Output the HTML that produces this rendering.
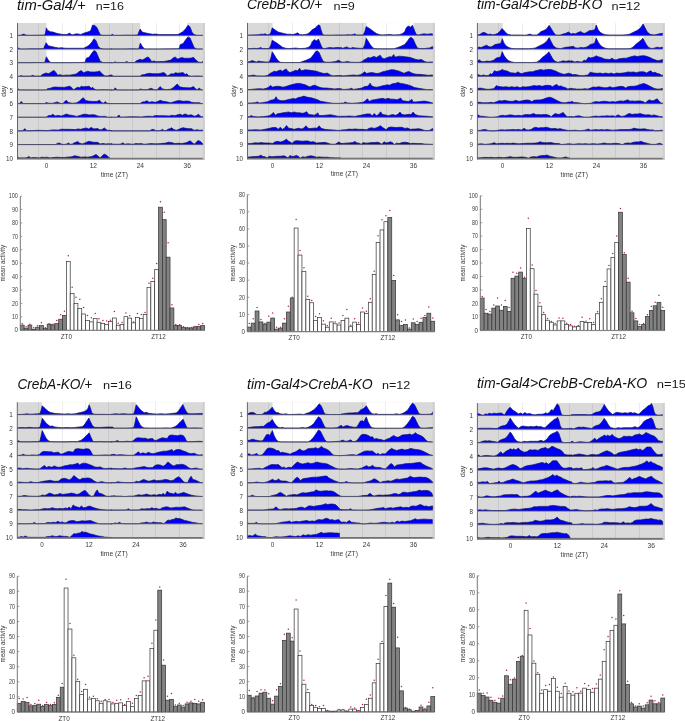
<!DOCTYPE html>
<html><head><meta charset="utf-8"><style>
html,body{margin:0;padding:0;background:#fff;width:685px;height:721px;overflow:hidden}
svg{display:block;will-change:transform}
text{font-family:"Liberation Sans", sans-serif}
</style></head><body>
<svg width="685" height="721" viewBox="0 0 685 721" font-family='"Liberation Sans", sans-serif'>
<rect width="685" height="721" fill="#fff"/>
<text x="17" y="9.65" font-size="14" font-style="italic" fill="#111" textLength="68.7" lengthAdjust="spacingAndGlyphs">tim-Gal4/+</text>
<text x="95.8" y="9.8" font-size="11.2" fill="#1a1a1a" textLength="28.1" lengthAdjust="spacingAndGlyphs">n=16</text>
<rect x="17.5" y="23" width="187.3" height="136.5" fill="#d9d9d9"/>
<rect x="202.8" y="23" width="2" height="136.5" fill="#cecece"/>
<rect x="46.4" y="23" width="46.98" height="12.45" fill="#fff"/>
<rect x="140.36" y="23" width="46.98" height="12.45" fill="#fff"/>
<rect x="46.4" y="36.65" width="46.98" height="12.45" fill="#fff"/>
<rect x="140.36" y="36.65" width="46.98" height="12.45" fill="#fff"/>
<rect x="46.4" y="50.3" width="46.98" height="12.45" fill="#fff"/>
<line x1="38.5" y1="23" x2="38.5" y2="159.5" stroke="#000" stroke-opacity="0.07" stroke-width="1"/>
<line x1="62.5" y1="23" x2="62.5" y2="159.5" stroke="#000" stroke-opacity="0.07" stroke-width="1"/>
<line x1="85.5" y1="23" x2="85.5" y2="159.5" stroke="#000" stroke-opacity="0.07" stroke-width="1"/>
<line x1="109.5" y1="23" x2="109.5" y2="159.5" stroke="#000" stroke-opacity="0.07" stroke-width="1"/>
<line x1="132.5" y1="23" x2="132.5" y2="159.5" stroke="#000" stroke-opacity="0.07" stroke-width="1"/>
<line x1="156.5" y1="23" x2="156.5" y2="159.5" stroke="#000" stroke-opacity="0.07" stroke-width="1"/>
<line x1="179.5" y1="23" x2="179.5" y2="159.5" stroke="#000" stroke-opacity="0.07" stroke-width="1"/>
<path d="M17,35.45 L17,35.45 L20.47,35.31 L21.16,35.03 L23.93,34.06 L26.02,35.17 L30.87,35.31 L39.19,35.17 L44.74,35.03 L45.43,33.09 L46.4,27.82 L47.51,30.32 L50.29,31.71 L53.06,32.12 L55.83,33.09 L58.61,33.79 L62.77,34.48 L66.93,34.48 L69.7,33.09 L71.09,34.48 L72.48,34.76 L76.64,33.79 L80.8,34.48 L84.96,32.81 L87.74,31.98 L90.51,31.01 L92.59,25.05 L94.67,25.46 L96.75,27.27 L98.83,31.71 L100.22,34.76 L102.99,35.31 L112.01,35.31 L112.01,35.45 Z" fill="#0000f5"/>
<path d="M17,35.45 L20.47,35.31 L21.16,35.03 L23.93,34.06 L26.02,35.17 L30.87,35.31 L39.19,35.17 L44.74,35.03 L45.43,33.09 L46.4,27.82 L47.51,30.32 L50.29,31.71 L53.06,32.12 L55.83,33.09 L58.61,33.79 L62.77,34.48 L66.93,34.48 L69.7,33.09 L71.09,34.48 L72.48,34.76 L76.64,33.79 L80.8,34.48 L84.96,32.81 L87.74,31.98 L90.51,31.01 L92.59,25.05 L94.67,25.46 L96.75,27.27 L98.83,31.71 L100.22,34.76 L102.99,35.31 L112.01,35.31" fill="none" stroke="#14145a" stroke-width="0.7" stroke-linejoin="round"/>
<path d="M111,35.45 L111,35.31 L112.66,34.34 L113.77,35.31 L119.32,35.31 L124.87,35.17 L131.8,35.17 L137.35,35.03 L138.05,33.92 L140.13,29.07 L142.21,32.12 L145.67,32.95 L148.45,33.51 L152.61,34.34 L155.38,34.06 L159.54,34.62 L166.48,34.62 L173.41,34.62 L177.57,34.62 L180.35,33.23 L183.12,31.57 L185.9,28.38 L187.98,25.19 L190.06,26.99 L192.14,32.54 L194.22,34.62 L196.99,35.31 L202.8,35.31 L202.8,35.45 Z" fill="#0000f5"/>
<path d="M111,35.31 L112.66,34.34 L113.77,35.31 L119.32,35.31 L124.87,35.17 L131.8,35.17 L137.35,35.03 L138.05,33.92 L140.13,29.07 L142.21,32.12 L145.67,32.95 L148.45,33.51 L152.61,34.34 L155.38,34.06 L159.54,34.62 L166.48,34.62 L173.41,34.62 L177.57,34.62 L180.35,33.23 L183.12,31.57 L185.9,28.38 L187.98,25.19 L190.06,26.99 L192.14,32.54 L194.22,34.62 L196.99,35.31 L202.8,35.31" fill="none" stroke="#14145a" stroke-width="0.7" stroke-linejoin="round"/>
<line x1="17.5" y1="35.45" x2="202.8" y2="35.45" stroke="#5a5a66" stroke-width="0.8"/>
<path d="M17,49.1 L17,48.96 L18.66,47.99 L19.77,48.96 L25.32,48.96 L30.87,48.82 L37.8,48.82 L43.35,48.68 L44.05,47.57 L46.13,42.72 L48.21,45.77 L51.67,46.6 L54.45,47.16 L58.61,47.99 L61.38,47.71 L65.54,48.27 L72.48,48.27 L79.41,48.27 L83.57,48.27 L86.35,46.88 L89.12,45.22 L91.9,42.03 L93.98,38.84 L96.06,40.64 L98.14,46.19 L100.22,48.27 L102.99,48.96 L112.01,48.96 L112.01,49.1 Z" fill="#0000f5"/>
<path d="M17,48.96 L18.66,47.99 L19.77,48.96 L25.32,48.96 L30.87,48.82 L37.8,48.82 L43.35,48.68 L44.05,47.57 L46.13,42.72 L48.21,45.77 L51.67,46.6 L54.45,47.16 L58.61,47.99 L61.38,47.71 L65.54,48.27 L72.48,48.27 L79.41,48.27 L83.57,48.27 L86.35,46.88 L89.12,45.22 L91.9,42.03 L93.98,38.84 L96.06,40.64 L98.14,46.19 L100.22,48.27 L102.99,48.96 L112.01,48.96" fill="none" stroke="#14145a" stroke-width="0.7" stroke-linejoin="round"/>
<path d="M111,49.1 L111,48.96 L124.87,48.96 L131.8,48.82 L138.74,48.96 L139.43,46.33 L140.4,43.14 L142.21,46.33 L144.29,48.68 L145.67,48.96 L159.54,48.96 L173.41,48.82 L178.96,48.68 L180.35,44.52 L183.12,43.55 L185.9,39.39 L187.98,36.89 L190.06,38 L192.14,42.86 L194.22,47.71 L196.99,48.96 L202.8,48.96 L202.8,49.1 Z" fill="#0000f5"/>
<path d="M111,48.96 L124.87,48.96 L131.8,48.82 L138.74,48.96 L139.43,46.33 L140.4,43.14 L142.21,46.33 L144.29,48.68 L145.67,48.96 L159.54,48.96 L173.41,48.82 L178.96,48.68 L180.35,44.52 L183.12,43.55 L185.9,39.39 L187.98,36.89 L190.06,38 L192.14,42.86 L194.22,47.71 L196.99,48.96 L202.8,48.96" fill="none" stroke="#14145a" stroke-width="0.7" stroke-linejoin="round"/>
<line x1="17.5" y1="49.1" x2="202.8" y2="49.1" stroke="#5a5a66" stroke-width="0.8"/>
<path d="M17,62.75 L17,62.61 L30.87,62.61 L37.8,62.47 L44.74,62.61 L45.43,59.98 L46.4,56.79 L48.21,59.98 L50.29,62.33 L51.67,62.61 L65.54,62.61 L79.41,62.47 L84.96,62.33 L86.35,58.17 L89.12,57.2 L91.9,53.04 L93.98,50.54 L96.06,51.65 L98.14,56.51 L100.22,61.36 L102.99,62.61 L112.01,62.61 L112.01,62.75 Z" fill="#0000f5"/>
<path d="M17,62.61 L30.87,62.61 L37.8,62.47 L44.74,62.61 L45.43,59.98 L46.4,56.79 L48.21,59.98 L50.29,62.33 L51.67,62.61 L65.54,62.61 L79.41,62.47 L84.96,62.33 L86.35,58.17 L89.12,57.2 L91.9,53.04 L93.98,50.54 L96.06,51.65 L98.14,56.51 L100.22,61.36 L102.99,62.61 L112.01,62.61" fill="none" stroke="#14145a" stroke-width="0.7" stroke-linejoin="round"/>
<path d="M111,62.75 L111,62.61 L113.77,62.61 L115.16,61.78 L116.55,62.47 L122.1,62.47 L124.87,62.47 L126.95,61.5 L128.34,62.47 L134.58,62.47 L135.97,61.09 L138.05,60.11 L140.13,59.28 L142.21,60.11 L144.29,59.01 L146.37,57.62 L148.17,56.92 L149.83,58.73 L151.64,61.5 L154,61.09 L156.77,61.78 L159.54,61.5 L163.7,61.5 L167.87,60.81 L170.64,60.11 L172.72,58.31 L175.08,56.92 L177.57,59.01 L179.65,58.31 L181.74,57.62 L184.51,58.31 L188.67,58.31 L191.44,58.03 L193.52,57.34 L195.6,59.7 L198.38,62.06 L201.15,62.47 L202.8,61.5 L202.8,61.36 L202.8,62.75 Z" fill="#0000f5"/>
<path d="M111,62.61 L113.77,62.61 L115.16,61.78 L116.55,62.47 L122.1,62.47 L124.87,62.47 L126.95,61.5 L128.34,62.47 L134.58,62.47 L135.97,61.09 L138.05,60.11 L140.13,59.28 L142.21,60.11 L144.29,59.01 L146.37,57.62 L148.17,56.92 L149.83,58.73 L151.64,61.5 L154,61.09 L156.77,61.78 L159.54,61.5 L163.7,61.5 L167.87,60.81 L170.64,60.11 L172.72,58.31 L175.08,56.92 L177.57,59.01 L179.65,58.31 L181.74,57.62 L184.51,58.31 L188.67,58.31 L191.44,58.03 L193.52,57.34 L195.6,59.7 L198.38,62.06 L201.15,62.47 L202.8,61.5 L202.8,61.36" fill="none" stroke="#14145a" stroke-width="0.7" stroke-linejoin="round"/>
<line x1="17.5" y1="62.75" x2="202.8" y2="62.75" stroke="#5a5a66" stroke-width="0.8"/>
<path d="M17,76.4 L17,76.26 L19.77,76.26 L21.16,75.43 L22.55,76.12 L28.1,76.12 L30.87,76.12 L32.95,75.15 L34.34,76.12 L40.58,76.12 L41.97,74.74 L44.05,73.76 L46.13,72.93 L48.21,73.76 L50.29,72.66 L52.37,71.27 L54.17,70.57 L55.83,72.38 L57.64,75.15 L60,74.74 L62.77,75.43 L65.54,75.15 L69.7,75.15 L73.87,74.46 L76.64,73.76 L78.72,71.96 L81.08,70.57 L83.57,72.66 L85.65,71.96 L87.74,71.27 L90.51,71.96 L94.67,71.96 L97.44,71.68 L99.52,70.99 L101.6,73.35 L104.38,75.71 L107.15,76.12 L109.93,75.15 L112.01,75.01 L112.01,76.4 Z" fill="#0000f5"/>
<path d="M17,76.26 L19.77,76.26 L21.16,75.43 L22.55,76.12 L28.1,76.12 L30.87,76.12 L32.95,75.15 L34.34,76.12 L40.58,76.12 L41.97,74.74 L44.05,73.76 L46.13,72.93 L48.21,73.76 L50.29,72.66 L52.37,71.27 L54.17,70.57 L55.83,72.38 L57.64,75.15 L60,74.74 L62.77,75.43 L65.54,75.15 L69.7,75.15 L73.87,74.46 L76.64,73.76 L78.72,71.96 L81.08,70.57 L83.57,72.66 L85.65,71.96 L87.74,71.27 L90.51,71.96 L94.67,71.96 L97.44,71.68 L99.52,70.99 L101.6,73.35 L104.38,75.71 L107.15,76.12 L109.93,75.15 L112.01,75.01" fill="none" stroke="#14145a" stroke-width="0.7" stroke-linejoin="round"/>
<path d="M111,76.4 L111,76.26 L112.39,75.43 L113.77,76.26 L124.87,76.26 L131.8,76.26 L140.13,76.26 L141.51,75.01 L144.29,74.6 L147.06,73.63 L149.83,73.35 L152.61,73.63 L155.38,73.63 L158.16,73.76 L160.93,73.21 L163.7,72.52 L165.79,74.04 L167.17,75.98 L169.25,75.01 L171.33,73.63 L173.41,74.04 L175.49,72.66 L177.57,73.21 L180.35,72.93 L183.12,72.52 L185.2,74.6 L186.59,73.63 L188.67,75.71 L191.44,76.26 L196.99,75.98 L202.8,76.26 L202.8,76.4 Z" fill="#0000f5"/>
<path d="M111,76.26 L112.39,75.43 L113.77,76.26 L124.87,76.26 L131.8,76.26 L140.13,76.26 L141.51,75.01 L144.29,74.6 L147.06,73.63 L149.83,73.35 L152.61,73.63 L155.38,73.63 L158.16,73.76 L160.93,73.21 L163.7,72.52 L165.79,74.04 L167.17,75.98 L169.25,75.01 L171.33,73.63 L173.41,74.04 L175.49,72.66 L177.57,73.21 L180.35,72.93 L183.12,72.52 L185.2,74.6 L186.59,73.63 L188.67,75.71 L191.44,76.26 L196.99,75.98 L202.8,76.26" fill="none" stroke="#14145a" stroke-width="0.7" stroke-linejoin="round"/>
<line x1="17.5" y1="76.4" x2="202.8" y2="76.4" stroke="#5a5a66" stroke-width="0.8"/>
<path d="M17,90.05 L17,89.91 L18.39,89.08 L19.77,89.91 L30.87,89.91 L37.8,89.91 L46.13,89.91 L47.51,88.66 L50.29,88.25 L53.06,87.28 L55.83,87 L58.61,87.28 L61.38,87.28 L64.16,87.41 L66.93,86.86 L69.7,86.17 L71.79,87.69 L73.17,89.63 L75.25,88.66 L77.33,87.28 L79.41,87.69 L81.49,86.31 L83.57,86.86 L86.35,86.58 L89.12,86.17 L91.2,88.25 L92.59,87.28 L94.67,89.36 L97.44,89.91 L102.99,89.63 L112.01,89.91 L112.01,90.05 Z" fill="#0000f5"/>
<path d="M17,89.91 L18.39,89.08 L19.77,89.91 L30.87,89.91 L37.8,89.91 L46.13,89.91 L47.51,88.66 L50.29,88.25 L53.06,87.28 L55.83,87 L58.61,87.28 L61.38,87.28 L64.16,87.41 L66.93,86.86 L69.7,86.17 L71.79,87.69 L73.17,89.63 L75.25,88.66 L77.33,87.28 L79.41,87.69 L81.49,86.31 L83.57,86.86 L86.35,86.58 L89.12,86.17 L91.2,88.25 L92.59,87.28 L94.67,89.36 L97.44,89.91 L102.99,89.63 L112.01,89.91" fill="none" stroke="#14145a" stroke-width="0.7" stroke-linejoin="round"/>
<path d="M111,90.05 L111,89.91 L113.77,89.91 L115.16,87.83 L117.24,89.91 L119.32,89.91 L131.8,89.91 L138.74,89.91 L140.13,88.94 L142.9,89.63 L147.06,89.63 L151.22,88.25 L154,89.63 L156.77,89.91 L158.85,87.97 L160.24,86.58 L162.32,88.94 L166.48,89.63 L170.64,89.22 L173.41,87.55 L175.49,85.47 L177.3,84.09 L179.65,86.86 L183.12,87.55 L187.28,87.83 L190.75,87.83 L193.52,86.58 L195.6,88.94 L197.69,89.63 L199.07,87.97 L201.15,89.63 L202.8,89.91 L202.8,89.91 L202.8,90.05 Z" fill="#0000f5"/>
<path d="M111,89.91 L113.77,89.91 L115.16,87.83 L117.24,89.91 L119.32,89.91 L131.8,89.91 L138.74,89.91 L140.13,88.94 L142.9,89.63 L147.06,89.63 L151.22,88.25 L154,89.63 L156.77,89.91 L158.85,87.97 L160.24,86.58 L162.32,88.94 L166.48,89.63 L170.64,89.22 L173.41,87.55 L175.49,85.47 L177.3,84.09 L179.65,86.86 L183.12,87.55 L187.28,87.83 L190.75,87.83 L193.52,86.58 L195.6,88.94 L197.69,89.63 L199.07,87.97 L201.15,89.63 L202.8,89.91 L202.8,89.91" fill="none" stroke="#14145a" stroke-width="0.7" stroke-linejoin="round"/>
<line x1="17.5" y1="90.05" x2="202.8" y2="90.05" stroke="#5a5a66" stroke-width="0.8"/>
<path d="M17,103.7 L17,103.56 L19.77,103.56 L21.16,101.48 L23.24,103.56 L25.32,103.56 L37.8,103.56 L44.74,103.56 L46.13,102.59 L48.9,103.28 L53.06,103.28 L57.22,101.9 L60,103.28 L62.77,103.56 L64.85,101.62 L66.24,100.23 L68.32,102.59 L72.48,103.28 L76.64,102.87 L79.41,101.2 L81.49,99.12 L83.3,97.74 L85.65,100.51 L89.12,101.2 L93.28,101.48 L96.75,101.48 L99.52,100.23 L101.6,102.59 L103.69,103.28 L105.07,101.62 L107.15,103.28 L109.93,103.56 L112.01,103.56 L112.01,103.7 Z" fill="#0000f5"/>
<path d="M17,103.56 L19.77,103.56 L21.16,101.48 L23.24,103.56 L25.32,103.56 L37.8,103.56 L44.74,103.56 L46.13,102.59 L48.9,103.28 L53.06,103.28 L57.22,101.9 L60,103.28 L62.77,103.56 L64.85,101.62 L66.24,100.23 L68.32,102.59 L72.48,103.28 L76.64,102.87 L79.41,101.2 L81.49,99.12 L83.3,97.74 L85.65,100.51 L89.12,101.2 L93.28,101.48 L96.75,101.48 L99.52,100.23 L101.6,102.59 L103.69,103.28 L105.07,101.62 L107.15,103.28 L109.93,103.56 L112.01,103.56" fill="none" stroke="#14145a" stroke-width="0.7" stroke-linejoin="round"/>
<path d="M111,103.7 L111,103.56 L124.87,103.56 L140.13,103.56 L142.21,102.04 L144.98,101.76 L146.78,100.65 L149.14,102.31 L151.92,101.76 L155.38,102.31 L158.16,101.34 L160.24,100.37 L163.01,101.34 L166.48,101.76 L170.64,102.73 L174.11,101.76 L177.57,100.65 L180.35,100.65 L183.12,101.34 L186.59,101.06 L189.36,101.34 L191.44,102.31 L194.22,102.73 L199.77,102.73 L201.15,103.56 L202.8,103.56 L202.8,103.7 Z" fill="#0000f5"/>
<path d="M111,103.56 L124.87,103.56 L140.13,103.56 L142.21,102.04 L144.98,101.76 L146.78,100.65 L149.14,102.31 L151.92,101.76 L155.38,102.31 L158.16,101.34 L160.24,100.37 L163.01,101.34 L166.48,101.76 L170.64,102.73 L174.11,101.76 L177.57,100.65 L180.35,100.65 L183.12,101.34 L186.59,101.06 L189.36,101.34 L191.44,102.31 L194.22,102.73 L199.77,102.73 L201.15,103.56 L202.8,103.56" fill="none" stroke="#14145a" stroke-width="0.7" stroke-linejoin="round"/>
<line x1="17.5" y1="103.7" x2="202.8" y2="103.7" stroke="#5a5a66" stroke-width="0.8"/>
<path d="M17,117.35 L17,117.21 L30.87,117.21 L46.13,117.21 L48.21,115.69 L50.98,115.41 L52.78,114.3 L55.14,115.96 L57.92,115.41 L61.38,115.96 L64.16,114.99 L66.24,114.02 L69.01,114.99 L72.48,115.41 L76.64,116.38 L80.11,115.41 L83.57,114.3 L86.35,114.3 L89.12,114.99 L92.59,114.71 L95.36,114.99 L97.44,115.96 L100.22,116.38 L105.77,116.38 L107.15,117.21 L112.01,117.21 L112.01,117.35 Z" fill="#0000f5"/>
<path d="M17,117.21 L30.87,117.21 L46.13,117.21 L48.21,115.69 L50.98,115.41 L52.78,114.3 L55.14,115.96 L57.92,115.41 L61.38,115.96 L64.16,114.99 L66.24,114.02 L69.01,114.99 L72.48,115.41 L76.64,116.38 L80.11,115.41 L83.57,114.3 L86.35,114.3 L89.12,114.99 L92.59,114.71 L95.36,114.99 L97.44,115.96 L100.22,116.38 L105.77,116.38 L107.15,117.21 L112.01,117.21" fill="none" stroke="#14145a" stroke-width="0.7" stroke-linejoin="round"/>
<path d="M111,117.35 L111,117.21 L116.55,117.21 L117.93,115.96 L119.04,114.99 L120.15,116.66 L120.71,117.21 L131.8,116.66 L141.51,116.93 L147.06,116.24 L152.61,116.38 L155.38,115.55 L159.54,115.69 L163.7,115.69 L169.25,115.96 L172.03,115.27 L174.8,115.69 L177.57,114.85 L180.35,114.3 L182.43,115.27 L185.2,113.88 L187.98,115.27 L191.44,114.85 L194.22,116.24 L196.3,115.69 L198.38,114.3 L201.15,116.66 L202.8,116.66 L202.8,117.07 L202.8,117.35 Z" fill="#0000f5"/>
<path d="M111,117.21 L116.55,117.21 L117.93,115.96 L119.04,114.99 L120.15,116.66 L120.71,117.21 L131.8,116.66 L141.51,116.93 L147.06,116.24 L152.61,116.38 L155.38,115.55 L159.54,115.69 L163.7,115.69 L169.25,115.96 L172.03,115.27 L174.8,115.69 L177.57,114.85 L180.35,114.3 L182.43,115.27 L185.2,113.88 L187.98,115.27 L191.44,114.85 L194.22,116.24 L196.3,115.69 L198.38,114.3 L201.15,116.66 L202.8,116.66 L202.8,117.07" fill="none" stroke="#14145a" stroke-width="0.7" stroke-linejoin="round"/>
<line x1="17.5" y1="117.35" x2="202.8" y2="117.35" stroke="#5a5a66" stroke-width="0.8"/>
<path d="M17,131 L17,130.86 L22.55,130.86 L23.93,129.61 L25.04,128.64 L26.15,130.31 L26.71,130.86 L37.8,130.31 L47.51,130.58 L53.06,129.89 L58.61,130.03 L61.38,129.2 L65.54,129.34 L69.7,129.34 L75.25,129.61 L78.03,128.92 L80.8,129.34 L83.57,128.5 L86.35,127.95 L88.43,128.92 L91.2,127.53 L93.98,128.92 L97.44,128.5 L100.22,129.89 L102.3,129.34 L104.38,127.95 L107.15,130.31 L109.93,130.31 L112.01,130.72 L112.01,131 Z" fill="#0000f5"/>
<path d="M17,130.86 L22.55,130.86 L23.93,129.61 L25.04,128.64 L26.15,130.31 L26.71,130.86 L37.8,130.31 L47.51,130.58 L53.06,129.89 L58.61,130.03 L61.38,129.2 L65.54,129.34 L69.7,129.34 L75.25,129.61 L78.03,128.92 L80.8,129.34 L83.57,128.5 L86.35,127.95 L88.43,128.92 L91.2,127.53 L93.98,128.92 L97.44,128.5 L100.22,129.89 L102.3,129.34 L104.38,127.95 L107.15,130.31 L109.93,130.31 L112.01,130.72" fill="none" stroke="#14145a" stroke-width="0.7" stroke-linejoin="round"/>
<path d="M111,131 L111,130.86 L124.87,130.86 L138.74,130.86 L149.83,130.86 L151.22,129.75 L153.3,129.34 L155.38,130.45 L158.16,130.86 L160.93,130.31 L162.32,129.34 L164.4,130.72 L166.48,130.31 L167.87,129.34 L169.95,128.64 L171.75,127.81 L173.41,129.34 L176.19,130.31 L178.96,129.34 L181.04,128.36 L183.12,127.67 L185.9,128.36 L188.67,128.64 L191.44,128.64 L194.22,130.31 L196.99,129.75 L199.77,130.31 L202.54,130.03 L202.8,130.31 L202.8,131 Z" fill="#0000f5"/>
<path d="M111,130.86 L124.87,130.86 L138.74,130.86 L149.83,130.86 L151.22,129.75 L153.3,129.34 L155.38,130.45 L158.16,130.86 L160.93,130.31 L162.32,129.34 L164.4,130.72 L166.48,130.31 L167.87,129.34 L169.95,128.64 L171.75,127.81 L173.41,129.34 L176.19,130.31 L178.96,129.34 L181.04,128.36 L183.12,127.67 L185.9,128.36 L188.67,128.64 L191.44,128.64 L194.22,130.31 L196.99,129.75 L199.77,130.31 L202.54,130.03 L202.8,130.31" fill="none" stroke="#14145a" stroke-width="0.7" stroke-linejoin="round"/>
<line x1="17.5" y1="131" x2="202.8" y2="131" stroke="#5a5a66" stroke-width="0.8"/>
<path d="M17,144.65 L17,144.51 L30.87,144.51 L44.74,144.51 L55.83,144.51 L57.22,143.4 L59.3,142.99 L61.38,144.1 L64.16,144.51 L66.93,143.96 L68.32,142.99 L70.4,144.37 L72.48,143.96 L73.87,142.99 L75.95,142.29 L77.75,141.46 L79.41,142.99 L82.19,143.96 L84.96,142.99 L87.04,142.01 L89.12,141.32 L91.9,142.01 L94.67,142.29 L97.44,142.29 L100.22,143.96 L102.99,143.4 L105.77,143.96 L108.54,143.68 L112.01,143.96 L112.01,144.65 Z" fill="#0000f5"/>
<path d="M17,144.51 L30.87,144.51 L44.74,144.51 L55.83,144.51 L57.22,143.4 L59.3,142.99 L61.38,144.1 L64.16,144.51 L66.93,143.96 L68.32,142.99 L70.4,144.37 L72.48,143.96 L73.87,142.99 L75.95,142.29 L77.75,141.46 L79.41,142.99 L82.19,143.96 L84.96,142.99 L87.04,142.01 L89.12,141.32 L91.9,142.01 L94.67,142.29 L97.44,142.29 L100.22,143.96 L102.99,143.4 L105.77,143.96 L108.54,143.68 L112.01,143.96" fill="none" stroke="#14145a" stroke-width="0.7" stroke-linejoin="round"/>
<path d="M111,144.65 L111,143.82 L113.77,144.23 L119.32,144.23 L121.4,143.82 L122.79,142.85 L124.87,144.23 L127.64,143.82 L133.19,144.23 L135.97,143.54 L138.74,143.82 L140.82,143.54 L144.29,144.23 L147.06,143.96 L151.22,143.54 L154,143.82 L158.16,143.82 L160.93,143.54 L165.79,143.12 L168.56,142.15 L171.33,142.57 L174.8,143.54 L178.96,143.26 L181.74,143.54 L185.9,142.85 L187.98,141.88 L190.06,140.77 L192.14,142.57 L194.22,144.23 L196.3,142.15 L198.1,140.49 L200.46,141.46 L202.54,143.54 L202.8,144.51 L202.8,144.65 Z" fill="#0000f5"/>
<path d="M111,143.82 L113.77,144.23 L119.32,144.23 L121.4,143.82 L122.79,142.85 L124.87,144.23 L127.64,143.82 L133.19,144.23 L135.97,143.54 L138.74,143.82 L140.82,143.54 L144.29,144.23 L147.06,143.96 L151.22,143.54 L154,143.82 L158.16,143.82 L160.93,143.54 L165.79,143.12 L168.56,142.15 L171.33,142.57 L174.8,143.54 L178.96,143.26 L181.74,143.54 L185.9,142.85 L187.98,141.88 L190.06,140.77 L192.14,142.57 L194.22,144.23 L196.3,142.15 L198.1,140.49 L200.46,141.46 L202.54,143.54 L202.8,144.51" fill="none" stroke="#14145a" stroke-width="0.7" stroke-linejoin="round"/>
<line x1="17.5" y1="144.65" x2="202.8" y2="144.65" stroke="#5a5a66" stroke-width="0.8"/>
<path d="M17,158.3 L17,157.47 L19.77,157.88 L25.32,157.88 L27.4,157.47 L28.79,156.5 L30.87,157.88 L33.64,157.47 L39.19,157.88 L41.97,157.19 L44.74,157.47 L46.82,157.19 L50.29,157.88 L53.06,157.61 L57.22,157.19 L60,157.47 L64.16,157.47 L66.93,157.19 L71.79,156.77 L74.56,155.8 L77.33,156.22 L80.8,157.19 L84.96,156.91 L87.74,157.19 L91.9,156.5 L93.98,155.53 L96.06,154.42 L98.14,156.22 L100.22,157.88 L102.3,155.8 L104.1,154.14 L106.46,155.11 L108.54,157.19 L109.93,158.16 L109.93,158.3 Z" fill="#0000f5"/>
<path d="M17,157.47 L19.77,157.88 L25.32,157.88 L27.4,157.47 L28.79,156.5 L30.87,157.88 L33.64,157.47 L39.19,157.88 L41.97,157.19 L44.74,157.47 L46.82,157.19 L50.29,157.88 L53.06,157.61 L57.22,157.19 L60,157.47 L64.16,157.47 L66.93,157.19 L71.79,156.77 L74.56,155.8 L77.33,156.22 L80.8,157.19 L84.96,156.91 L87.74,157.19 L91.9,156.5 L93.98,155.53 L96.06,154.42 L98.14,156.22 L100.22,157.88 L102.3,155.8 L104.1,154.14 L106.46,155.11 L108.54,157.19 L109.93,158.16" fill="none" stroke="#14145a" stroke-width="0.7" stroke-linejoin="round"/>
<line x1="17.5" y1="158.3" x2="202.8" y2="158.3" stroke="#5a5a66" stroke-width="0.8"/>
<line x1="17.5" y1="158.9" x2="202.8" y2="158.9" stroke="#707070" stroke-width="1.3"/>
<line x1="202.8" y1="159.1" x2="204.8" y2="159.1" stroke="#b0b0b0" stroke-width="1"/>
<line x1="17.5" y1="23" x2="17.5" y2="159.5" stroke="#666" stroke-width="1"/>
<text x="13" y="38.05" font-size="6.3" text-anchor="end" fill="#3a3a3a">1</text>
<text x="13" y="51.7" font-size="6.3" text-anchor="end" fill="#3a3a3a">2</text>
<text x="13" y="65.35" font-size="6.3" text-anchor="end" fill="#3a3a3a">3</text>
<text x="13" y="79" font-size="6.3" text-anchor="end" fill="#3a3a3a">4</text>
<text x="13" y="92.65" font-size="6.3" text-anchor="end" fill="#3a3a3a">5</text>
<text x="13" y="106.3" font-size="6.3" text-anchor="end" fill="#3a3a3a">6</text>
<text x="13" y="119.95" font-size="6.3" text-anchor="end" fill="#3a3a3a">7</text>
<text x="13" y="133.6" font-size="6.3" text-anchor="end" fill="#3a3a3a">8</text>
<text x="13" y="147.25" font-size="6.3" text-anchor="end" fill="#3a3a3a">9</text>
<text x="13" y="160.9" font-size="6.3" text-anchor="end" fill="#3a3a3a">10</text>
<text transform="translate(5.5,91.3) rotate(-90)" font-size="6.3" text-anchor="middle" fill="#3a3a3a" textLength="11" lengthAdjust="spacingAndGlyphs">day</text>
<text x="46.4" y="168.1" font-size="6.3" text-anchor="middle" fill="#3a3a3a">0</text>
<text x="93.38" y="168.1" font-size="6.3" text-anchor="middle" fill="#3a3a3a" textLength="7.4" lengthAdjust="spacingAndGlyphs">12</text>
<text x="140.36" y="168.1" font-size="6.3" text-anchor="middle" fill="#3a3a3a" textLength="7.4" lengthAdjust="spacingAndGlyphs">24</text>
<text x="187.34" y="168.1" font-size="6.3" text-anchor="middle" fill="#3a3a3a" textLength="7.4" lengthAdjust="spacingAndGlyphs">36</text>
<text x="114.4" y="176.5" font-size="6.3" text-anchor="middle" fill="#3a3a3a" textLength="27.4" lengthAdjust="spacingAndGlyphs">time (ZT)</text>
<rect x="20.3" y="325.11" width="3.84" height="5.09" fill="#828282" stroke="#333" stroke-width="0.7"/>
<rect x="24.14" y="328.19" width="3.84" height="2.01" fill="#828282" stroke="#333" stroke-width="0.7"/>
<rect x="27.98" y="325.11" width="3.84" height="5.09" fill="#828282" stroke="#333" stroke-width="0.7"/>
<rect x="31.82" y="329.26" width="3.84" height="0.94" fill="#828282" stroke="#333" stroke-width="0.7"/>
<rect x="35.66" y="327.12" width="3.84" height="3.08" fill="#828282" stroke="#333" stroke-width="0.7"/>
<rect x="39.5" y="325.64" width="3.84" height="4.56" fill="#828282" stroke="#333" stroke-width="0.7"/>
<rect x="43.34" y="328.59" width="3.84" height="1.61" fill="#828282" stroke="#333" stroke-width="0.7"/>
<rect x="47.18" y="324.17" width="3.84" height="6.03" fill="#828282" stroke="#333" stroke-width="0.7"/>
<rect x="51.02" y="324.84" width="3.84" height="5.36" fill="#828282" stroke="#333" stroke-width="0.7"/>
<rect x="54.86" y="323.63" width="3.84" height="6.57" fill="#828282" stroke="#333" stroke-width="0.7"/>
<rect x="58.7" y="319.21" width="3.84" height="10.99" fill="#828282" stroke="#333" stroke-width="0.7"/>
<rect x="62.54" y="315.46" width="3.84" height="14.74" fill="#828282" stroke="#333" stroke-width="0.7"/>
<rect x="66.38" y="261.59" width="3.84" height="68.61" fill="#fff" stroke="#333" stroke-width="0.7"/>
<rect x="70.21" y="293.35" width="3.84" height="36.85" fill="#fff" stroke="#333" stroke-width="0.7"/>
<rect x="74.05" y="303.53" width="3.84" height="26.67" fill="#fff" stroke="#333" stroke-width="0.7"/>
<rect x="77.89" y="308.36" width="3.84" height="21.84" fill="#fff" stroke="#333" stroke-width="0.7"/>
<rect x="81.73" y="313.99" width="3.84" height="16.21" fill="#fff" stroke="#333" stroke-width="0.7"/>
<rect x="85.57" y="320.42" width="3.84" height="9.78" fill="#fff" stroke="#333" stroke-width="0.7"/>
<rect x="89.41" y="321.89" width="3.84" height="8.31" fill="#fff" stroke="#333" stroke-width="0.7"/>
<rect x="93.25" y="318.41" width="3.84" height="11.79" fill="#fff" stroke="#333" stroke-width="0.7"/>
<rect x="97.09" y="322.29" width="3.84" height="7.91" fill="#fff" stroke="#333" stroke-width="0.7"/>
<rect x="100.93" y="323.37" width="3.84" height="6.83" fill="#fff" stroke="#333" stroke-width="0.7"/>
<rect x="104.77" y="324.44" width="3.84" height="5.76" fill="#fff" stroke="#333" stroke-width="0.7"/>
<rect x="108.61" y="321.49" width="3.84" height="8.71" fill="#fff" stroke="#333" stroke-width="0.7"/>
<rect x="112.45" y="318.01" width="3.84" height="12.19" fill="#fff" stroke="#333" stroke-width="0.7"/>
<rect x="116.29" y="325.24" width="3.84" height="4.96" fill="#fff" stroke="#333" stroke-width="0.7"/>
<rect x="120.13" y="324.44" width="3.84" height="5.76" fill="#fff" stroke="#333" stroke-width="0.7"/>
<rect x="123.97" y="316.67" width="3.84" height="13.53" fill="#fff" stroke="#333" stroke-width="0.7"/>
<rect x="127.81" y="318.14" width="3.84" height="12.06" fill="#fff" stroke="#333" stroke-width="0.7"/>
<rect x="131.65" y="322.83" width="3.84" height="7.37" fill="#fff" stroke="#333" stroke-width="0.7"/>
<rect x="135.49" y="317.47" width="3.84" height="12.73" fill="#fff" stroke="#333" stroke-width="0.7"/>
<rect x="139.33" y="318.54" width="3.84" height="11.66" fill="#fff" stroke="#333" stroke-width="0.7"/>
<rect x="143.17" y="314.39" width="3.84" height="15.81" fill="#fff" stroke="#333" stroke-width="0.7"/>
<rect x="147.01" y="287.32" width="3.84" height="42.88" fill="#fff" stroke="#333" stroke-width="0.7"/>
<rect x="150.85" y="281.56" width="3.84" height="48.64" fill="#fff" stroke="#333" stroke-width="0.7"/>
<rect x="154.69" y="269.5" width="3.84" height="60.7" fill="#fff" stroke="#333" stroke-width="0.7"/>
<rect x="158.53" y="207.19" width="3.84" height="123.01" fill="#828282" stroke="#333" stroke-width="0.7"/>
<rect x="162.36" y="219.65" width="3.84" height="110.55" fill="#828282" stroke="#333" stroke-width="0.7"/>
<rect x="166.2" y="257.17" width="3.84" height="73.03" fill="#828282" stroke="#333" stroke-width="0.7"/>
<rect x="170.04" y="307.96" width="3.84" height="22.24" fill="#828282" stroke="#333" stroke-width="0.7"/>
<rect x="173.88" y="325.38" width="3.84" height="4.82" fill="#828282" stroke="#333" stroke-width="0.7"/>
<rect x="177.72" y="325.38" width="3.84" height="4.82" fill="#828282" stroke="#333" stroke-width="0.7"/>
<rect x="181.56" y="327.52" width="3.84" height="2.68" fill="#828282" stroke="#333" stroke-width="0.7"/>
<rect x="185.4" y="327.92" width="3.84" height="2.28" fill="#828282" stroke="#333" stroke-width="0.7"/>
<rect x="189.24" y="327.92" width="3.84" height="2.28" fill="#828282" stroke="#333" stroke-width="0.7"/>
<rect x="193.08" y="326.85" width="3.84" height="3.35" fill="#828282" stroke="#333" stroke-width="0.7"/>
<rect x="196.92" y="326.45" width="3.84" height="3.75" fill="#828282" stroke="#333" stroke-width="0.7"/>
<rect x="200.76" y="325.38" width="3.84" height="4.82" fill="#828282" stroke="#333" stroke-width="0.7"/>
<circle cx="22.22" cy="323.63" r="0.75" fill="#b82048"/>
<circle cx="26.06" cy="326.72" r="0.75" fill="#b82048"/>
<circle cx="29.9" cy="324.17" r="0.75" fill="#b82048"/>
<circle cx="33.74" cy="327.79" r="0.75" fill="#b82048"/>
<circle cx="37.58" cy="325.64" r="0.75" fill="#b82048"/>
<circle cx="41.42" cy="322.83" r="0.75" fill="#b82048"/>
<circle cx="45.26" cy="327.79" r="0.75" fill="#b82048"/>
<circle cx="49.1" cy="323.63" r="0.75" fill="#b82048"/>
<circle cx="52.94" cy="324.17" r="0.75" fill="#b82048"/>
<circle cx="56.78" cy="320.55" r="0.75" fill="#b82048"/>
<circle cx="60.62" cy="314.66" r="0.75" fill="#b82048"/>
<circle cx="64.46" cy="311.17" r="0.75" fill="#b82048"/>
<circle cx="68.29" cy="255.83" r="0.75" fill="#b82048"/>
<circle cx="72.13" cy="287.32" r="0.75" fill="#b82048"/>
<circle cx="75.97" cy="297.24" r="0.75" fill="#b82048"/>
<circle cx="79.81" cy="299.25" r="0.75" fill="#b82048"/>
<circle cx="83.65" cy="307.42" r="0.75" fill="#b82048"/>
<circle cx="87.49" cy="315.59" r="0.75" fill="#b82048"/>
<circle cx="91.33" cy="317.74" r="0.75" fill="#b82048"/>
<circle cx="95.17" cy="313.58" r="0.75" fill="#b82048"/>
<circle cx="99.01" cy="318.81" r="0.75" fill="#b82048"/>
<circle cx="102.85" cy="320.55" r="0.75" fill="#b82048"/>
<circle cx="106.69" cy="320.95" r="0.75" fill="#b82048"/>
<circle cx="110.53" cy="320.15" r="0.75" fill="#b82048"/>
<circle cx="114.37" cy="311.57" r="0.75" fill="#b82048"/>
<circle cx="118.21" cy="323.37" r="0.75" fill="#b82048"/>
<circle cx="122.05" cy="322.43" r="0.75" fill="#b82048"/>
<circle cx="125.89" cy="313.05" r="0.75" fill="#b82048"/>
<circle cx="129.73" cy="315.86" r="0.75" fill="#b82048"/>
<circle cx="133.57" cy="321.89" r="0.75" fill="#b82048"/>
<circle cx="137.41" cy="313.45" r="0.75" fill="#b82048"/>
<circle cx="141.25" cy="314.39" r="0.75" fill="#b82048"/>
<circle cx="145.09" cy="312.38" r="0.75" fill="#b82048"/>
<circle cx="148.93" cy="283.3" r="0.75" fill="#b82048"/>
<circle cx="152.77" cy="278.21" r="0.75" fill="#b82048"/>
<circle cx="156.61" cy="263.6" r="0.75" fill="#b82048"/>
<circle cx="160.44" cy="201.83" r="0.75" fill="#b82048"/>
<circle cx="164.28" cy="212.28" r="0.75" fill="#b82048"/>
<circle cx="168.12" cy="242.83" r="0.75" fill="#b82048"/>
<circle cx="171.96" cy="304.74" r="0.75" fill="#b82048"/>
<circle cx="175.8" cy="324.44" r="0.75" fill="#b82048"/>
<circle cx="179.64" cy="324.84" r="0.75" fill="#b82048"/>
<circle cx="183.48" cy="326.85" r="0.75" fill="#b82048"/>
<circle cx="187.32" cy="327.52" r="0.75" fill="#b82048"/>
<circle cx="191.16" cy="327.52" r="0.75" fill="#b82048"/>
<circle cx="195" cy="326.45" r="0.75" fill="#b82048"/>
<circle cx="198.84" cy="324.44" r="0.75" fill="#b82048"/>
<circle cx="202.68" cy="323.5" r="0.75" fill="#b82048"/>
<line x1="20.3" y1="196.2" x2="20.3" y2="330.2" stroke="#777" stroke-width="1"/>
<line x1="20.3" y1="330.5" x2="204.6" y2="330.5" stroke="#888" stroke-width="1"/>
<line x1="20.3" y1="330.2" x2="22.3" y2="330.2" stroke="#777" stroke-width="0.7"/>
<text x="17.9" y="332.4" font-size="6.3" text-anchor="end" fill="#3a3a3a">0</text>
<line x1="20.3" y1="316.8" x2="22.3" y2="316.8" stroke="#777" stroke-width="0.7"/>
<text x="17.9" y="319" font-size="6.3" text-anchor="end" fill="#3a3a3a" textLength="6" lengthAdjust="spacingAndGlyphs">10</text>
<line x1="20.3" y1="303.4" x2="22.3" y2="303.4" stroke="#777" stroke-width="0.7"/>
<text x="17.9" y="305.6" font-size="6.3" text-anchor="end" fill="#3a3a3a" textLength="6" lengthAdjust="spacingAndGlyphs">20</text>
<line x1="20.3" y1="290" x2="22.3" y2="290" stroke="#777" stroke-width="0.7"/>
<text x="17.9" y="292.2" font-size="6.3" text-anchor="end" fill="#3a3a3a" textLength="6" lengthAdjust="spacingAndGlyphs">30</text>
<line x1="20.3" y1="276.6" x2="22.3" y2="276.6" stroke="#777" stroke-width="0.7"/>
<text x="17.9" y="278.8" font-size="6.3" text-anchor="end" fill="#3a3a3a" textLength="6" lengthAdjust="spacingAndGlyphs">40</text>
<line x1="20.3" y1="263.2" x2="22.3" y2="263.2" stroke="#777" stroke-width="0.7"/>
<text x="17.9" y="265.4" font-size="6.3" text-anchor="end" fill="#3a3a3a" textLength="6" lengthAdjust="spacingAndGlyphs">50</text>
<line x1="20.3" y1="249.8" x2="22.3" y2="249.8" stroke="#777" stroke-width="0.7"/>
<text x="17.9" y="252" font-size="6.3" text-anchor="end" fill="#3a3a3a" textLength="6" lengthAdjust="spacingAndGlyphs">60</text>
<line x1="20.3" y1="236.4" x2="22.3" y2="236.4" stroke="#777" stroke-width="0.7"/>
<text x="17.9" y="238.6" font-size="6.3" text-anchor="end" fill="#3a3a3a" textLength="6" lengthAdjust="spacingAndGlyphs">70</text>
<line x1="20.3" y1="223" x2="22.3" y2="223" stroke="#777" stroke-width="0.7"/>
<text x="17.9" y="225.2" font-size="6.3" text-anchor="end" fill="#3a3a3a" textLength="6" lengthAdjust="spacingAndGlyphs">80</text>
<line x1="20.3" y1="209.6" x2="22.3" y2="209.6" stroke="#777" stroke-width="0.7"/>
<text x="17.9" y="211.8" font-size="6.3" text-anchor="end" fill="#3a3a3a" textLength="6" lengthAdjust="spacingAndGlyphs">90</text>
<line x1="20.3" y1="196.2" x2="22.3" y2="196.2" stroke="#777" stroke-width="0.7"/>
<text x="17.9" y="198.4" font-size="6.3" text-anchor="end" fill="#3a3a3a" textLength="9.2" lengthAdjust="spacingAndGlyphs">100</text>
<text transform="translate(5.4,263.2) rotate(-90)" font-size="6.3" text-anchor="middle" fill="#3a3a3a">mean activity</text>
<text x="66.38" y="338.8" font-size="6.3" text-anchor="middle" fill="#3a3a3a">ZT0</text>
<text x="158.53" y="338.8" font-size="6.3" text-anchor="middle" fill="#3a3a3a">ZT12</text>
<text x="247" y="9.45" font-size="14" font-style="italic" fill="#111" textLength="75.3" lengthAdjust="spacingAndGlyphs">CrebB-KO/+</text>
<text x="333.4" y="9.6" font-size="11.2" fill="#1a1a1a" textLength="21.4" lengthAdjust="spacingAndGlyphs">n=9</text>
<rect x="247.5" y="22.9" width="187.3" height="136.5" fill="#d9d9d9"/>
<rect x="432.8" y="22.9" width="2" height="136.5" fill="#cecece"/>
<rect x="272.6" y="22.9" width="46.98" height="12.45" fill="#fff"/>
<rect x="366.56" y="22.9" width="46.98" height="12.45" fill="#fff"/>
<rect x="272.6" y="36.55" width="46.98" height="12.45" fill="#fff"/>
<rect x="366.56" y="36.55" width="46.98" height="12.45" fill="#fff"/>
<rect x="272.6" y="50.2" width="46.98" height="12.45" fill="#fff"/>
<line x1="268.5" y1="22.9" x2="268.5" y2="159.4" stroke="#000" stroke-opacity="0.07" stroke-width="1"/>
<line x1="292.5" y1="22.9" x2="292.5" y2="159.4" stroke="#000" stroke-opacity="0.07" stroke-width="1"/>
<line x1="315.5" y1="22.9" x2="315.5" y2="159.4" stroke="#000" stroke-opacity="0.07" stroke-width="1"/>
<line x1="339.5" y1="22.9" x2="339.5" y2="159.4" stroke="#000" stroke-opacity="0.07" stroke-width="1"/>
<line x1="362.5" y1="22.9" x2="362.5" y2="159.4" stroke="#000" stroke-opacity="0.07" stroke-width="1"/>
<line x1="386.5" y1="22.9" x2="386.5" y2="159.4" stroke="#000" stroke-opacity="0.07" stroke-width="1"/>
<line x1="409.5" y1="22.9" x2="409.5" y2="159.4" stroke="#000" stroke-opacity="0.07" stroke-width="1"/>
<path d="M247,35.35 L247,35.21 L252.55,34.93 L258.1,34.8 L260.87,34.24 L263.64,34.24 L265.03,33.82 L267.11,34.8 L269.19,34.8 L270.86,32.44 L272.24,27.86 L274.05,29.25 L276.13,30.63 L278.21,32.02 L280.98,32.85 L283.75,33.41 L287.22,34.24 L290,34.24 L292.77,34.52 L295.54,33.82 L297.62,32.85 L299.7,34.52 L302.48,34.8 L305.25,34.52 L308.03,33.82 L310.11,32.02 L312.19,29.66 L314.96,28.28 L317.04,26.2 L318.43,24.81 L319.82,25.5 L321.2,30.36 L322.59,34.52 L324.67,35.21 L332.99,35.21 L337.15,34.93 L342.01,35.21 L342.01,35.35 Z" fill="#0000f5"/>
<path d="M247,35.21 L252.55,34.93 L258.1,34.8 L260.87,34.24 L263.64,34.24 L265.03,33.82 L267.11,34.8 L269.19,34.8 L270.86,32.44 L272.24,27.86 L274.05,29.25 L276.13,30.63 L278.21,32.02 L280.98,32.85 L283.75,33.41 L287.22,34.24 L290,34.24 L292.77,34.52 L295.54,33.82 L297.62,32.85 L299.7,34.52 L302.48,34.8 L305.25,34.52 L308.03,33.82 L310.11,32.02 L312.19,29.66 L314.96,28.28 L317.04,26.2 L318.43,24.81 L319.82,25.5 L321.2,30.36 L322.59,34.52 L324.67,35.21 L332.99,35.21 L337.15,34.93 L342.01,35.21" fill="none" stroke="#14145a" stroke-width="0.7" stroke-linejoin="round"/>
<path d="M341,35.35 L341,35.21 L345.16,34.93 L347.93,34.66 L350.71,34.93 L353.48,34.38 L354.87,33.82 L356.26,34.93 L363.19,34.93 L364.86,31.47 L366.24,26.61 L368.74,28 L370.82,29.39 L373.59,31.47 L376.37,33.55 L379.83,34.66 L382.61,34.93 L386.77,34.66 L389.54,34.38 L393.7,34.93 L399.25,34.66 L402.72,33.55 L404.8,31.47 L406.19,28 L408.27,25.92 L410.35,27.31 L412.43,25.23 L413.82,28.69 L415.2,32.16 L416.59,34.66 L418.67,34.93 L421.44,34.24 L424.22,33.82 L426.99,34.24 L431.15,33.82 L432.8,34.1 L432.8,35.35 Z" fill="#0000f5"/>
<path d="M341,35.21 L345.16,34.93 L347.93,34.66 L350.71,34.93 L353.48,34.38 L354.87,33.82 L356.26,34.93 L363.19,34.93 L364.86,31.47 L366.24,26.61 L368.74,28 L370.82,29.39 L373.59,31.47 L376.37,33.55 L379.83,34.66 L382.61,34.93 L386.77,34.66 L389.54,34.38 L393.7,34.93 L399.25,34.66 L402.72,33.55 L404.8,31.47 L406.19,28 L408.27,25.92 L410.35,27.31 L412.43,25.23 L413.82,28.69 L415.2,32.16 L416.59,34.66 L418.67,34.93 L421.44,34.24 L424.22,33.82 L426.99,34.24 L431.15,33.82 L432.8,34.1" fill="none" stroke="#14145a" stroke-width="0.7" stroke-linejoin="round"/>
<line x1="247.5" y1="35.35" x2="432.8" y2="35.35" stroke="#5a5a66" stroke-width="0.8"/>
<path d="M247,49 L247,48.86 L251.16,48.58 L253.93,48.31 L256.71,48.58 L259.48,48.03 L260.87,47.47 L262.26,48.58 L269.19,48.58 L270.86,45.12 L272.24,40.26 L274.74,41.65 L276.82,43.04 L279.59,45.12 L282.37,47.2 L285.83,48.31 L288.61,48.58 L292.77,48.31 L295.54,48.03 L299.7,48.58 L305.25,48.31 L308.72,47.2 L310.8,45.12 L312.19,41.65 L314.27,39.57 L316.35,40.96 L318.43,38.88 L319.82,42.34 L321.2,45.81 L322.59,48.31 L324.67,48.58 L327.44,47.89 L330.22,47.47 L332.99,47.89 L337.15,47.47 L342.01,47.75 L342.01,49 Z" fill="#0000f5"/>
<path d="M247,48.86 L251.16,48.58 L253.93,48.31 L256.71,48.58 L259.48,48.03 L260.87,47.47 L262.26,48.58 L269.19,48.58 L270.86,45.12 L272.24,40.26 L274.74,41.65 L276.82,43.04 L279.59,45.12 L282.37,47.2 L285.83,48.31 L288.61,48.58 L292.77,48.31 L295.54,48.03 L299.7,48.58 L305.25,48.31 L308.72,47.2 L310.8,45.12 L312.19,41.65 L314.27,39.57 L316.35,40.96 L318.43,38.88 L319.82,42.34 L321.2,45.81 L322.59,48.31 L324.67,48.58 L327.44,47.89 L330.22,47.47 L332.99,47.89 L337.15,47.47 L342.01,47.75" fill="none" stroke="#14145a" stroke-width="0.7" stroke-linejoin="round"/>
<path d="M341,49 L341,48.58 L343.77,47.89 L346.55,46.92 L348.63,47.89 L350.71,48.31 L352.79,47.47 L354.87,47.89 L359.03,48.31 L363.19,48.31 L364.86,44.42 L366.24,38.18 L368.05,40.96 L370.13,44.42 L372.21,47.2 L374.29,48.58 L377.06,48.86 L382.61,48.86 L389.54,48.86 L393.7,48.86 L396.48,47.89 L399.25,46.92 L402.03,45.81 L404.8,44.42 L407.57,40.96 L409.65,37.9 L411.46,37.21 L413.12,38.88 L415.2,43.73 L417.28,47.89 L420.06,48.58 L424.22,48.58 L429.77,47.89 L432.54,46.5 L432.8,47.89 L432.8,48.58 L432.8,49 Z" fill="#0000f5"/>
<path d="M341,48.58 L343.77,47.89 L346.55,46.92 L348.63,47.89 L350.71,48.31 L352.79,47.47 L354.87,47.89 L359.03,48.31 L363.19,48.31 L364.86,44.42 L366.24,38.18 L368.05,40.96 L370.13,44.42 L372.21,47.2 L374.29,48.58 L377.06,48.86 L382.61,48.86 L389.54,48.86 L393.7,48.86 L396.48,47.89 L399.25,46.92 L402.03,45.81 L404.8,44.42 L407.57,40.96 L409.65,37.9 L411.46,37.21 L413.12,38.88 L415.2,43.73 L417.28,47.89 L420.06,48.58 L424.22,48.58 L429.77,47.89 L432.54,46.5 L432.8,47.89 L432.8,48.58" fill="none" stroke="#14145a" stroke-width="0.7" stroke-linejoin="round"/>
<line x1="247.5" y1="49" x2="432.8" y2="49" stroke="#5a5a66" stroke-width="0.8"/>
<path d="M247,62.65 L247,62.23 L249.77,61.54 L252.55,60.57 L254.63,61.54 L256.71,61.96 L258.79,61.12 L260.87,61.54 L265.03,61.96 L269.19,61.96 L270.86,58.07 L272.24,51.83 L274.05,54.61 L276.13,58.07 L278.21,60.85 L280.29,62.23 L283.06,62.51 L288.61,62.51 L295.54,62.51 L299.7,62.51 L302.48,61.54 L305.25,60.57 L308.03,59.46 L310.8,58.07 L313.57,54.61 L315.65,51.55 L317.46,50.86 L319.12,52.53 L321.2,57.38 L323.28,61.54 L326.06,62.23 L330.22,62.23 L335.77,61.54 L338.54,60.15 L340.62,61.54 L342.01,62.23 L342.01,62.65 Z" fill="#0000f5"/>
<path d="M247,62.23 L249.77,61.54 L252.55,60.57 L254.63,61.54 L256.71,61.96 L258.79,61.12 L260.87,61.54 L265.03,61.96 L269.19,61.96 L270.86,58.07 L272.24,51.83 L274.05,54.61 L276.13,58.07 L278.21,60.85 L280.29,62.23 L283.06,62.51 L288.61,62.51 L295.54,62.51 L299.7,62.51 L302.48,61.54 L305.25,60.57 L308.03,59.46 L310.8,58.07 L313.57,54.61 L315.65,51.55 L317.46,50.86 L319.12,52.53 L321.2,57.38 L323.28,61.54 L326.06,62.23 L330.22,62.23 L335.77,61.54 L338.54,60.15 L340.62,61.54 L342.01,62.23" fill="none" stroke="#14145a" stroke-width="0.7" stroke-linejoin="round"/>
<path d="M341,62.65 L341,62.37 L345.16,61.96 L347.24,61.4 L350.71,62.23 L354.87,62.37 L359.03,62.37 L361.8,61.68 L363.88,59.88 L365.97,58.91 L368.05,57.52 L370.13,58.07 L372.21,57.1 L374.29,56.41 L376.37,57.52 L378.45,56.13 L380.25,55.3 L381.92,57.8 L384,58.91 L386.77,57.8 L389.54,56.69 L391.62,57.1 L393.7,54.61 L395.09,57.1 L397.17,56.69 L399.25,56.13 L402.03,56.41 L404.8,56.69 L407.57,57.1 L410.35,57.52 L413.12,58.49 L415.9,59.46 L418.67,59.88 L421.44,59.46 L424.22,61.26 L426.99,62.23 L431.15,61.96 L432.8,61.96 L432.8,62.65 Z" fill="#0000f5"/>
<path d="M341,62.37 L345.16,61.96 L347.24,61.4 L350.71,62.23 L354.87,62.37 L359.03,62.37 L361.8,61.68 L363.88,59.88 L365.97,58.91 L368.05,57.52 L370.13,58.07 L372.21,57.1 L374.29,56.41 L376.37,57.52 L378.45,56.13 L380.25,55.3 L381.92,57.8 L384,58.91 L386.77,57.8 L389.54,56.69 L391.62,57.1 L393.7,54.61 L395.09,57.1 L397.17,56.69 L399.25,56.13 L402.03,56.41 L404.8,56.69 L407.57,57.1 L410.35,57.52 L413.12,58.49 L415.9,59.46 L418.67,59.88 L421.44,59.46 L424.22,61.26 L426.99,62.23 L431.15,61.96 L432.8,61.96" fill="none" stroke="#14145a" stroke-width="0.7" stroke-linejoin="round"/>
<line x1="247.5" y1="62.65" x2="432.8" y2="62.65" stroke="#5a5a66" stroke-width="0.8"/>
<path d="M247,76.3 L247,76.02 L251.16,75.61 L253.24,75.05 L256.71,75.88 L260.87,76.02 L265.03,76.02 L267.8,75.33 L269.88,73.53 L271.97,72.56 L274.05,71.17 L276.13,71.72 L278.21,70.75 L280.29,70.06 L282.37,71.17 L284.45,69.78 L286.25,68.95 L287.92,71.45 L290,72.56 L292.77,71.45 L295.54,70.34 L297.62,70.75 L299.7,68.26 L301.09,70.75 L303.17,70.34 L305.25,69.78 L308.03,70.06 L310.8,70.34 L313.57,70.75 L316.35,71.17 L319.12,72.14 L321.9,73.11 L324.67,73.53 L327.44,73.11 L330.22,74.91 L332.99,75.88 L337.15,75.61 L342.01,75.61 L342.01,76.3 Z" fill="#0000f5"/>
<path d="M247,76.02 L251.16,75.61 L253.24,75.05 L256.71,75.88 L260.87,76.02 L265.03,76.02 L267.8,75.33 L269.88,73.53 L271.97,72.56 L274.05,71.17 L276.13,71.72 L278.21,70.75 L280.29,70.06 L282.37,71.17 L284.45,69.78 L286.25,68.95 L287.92,71.45 L290,72.56 L292.77,71.45 L295.54,70.34 L297.62,70.75 L299.7,68.26 L301.09,70.75 L303.17,70.34 L305.25,69.78 L308.03,70.06 L310.8,70.34 L313.57,70.75 L316.35,71.17 L319.12,72.14 L321.9,73.11 L324.67,73.53 L327.44,73.11 L330.22,74.91 L332.99,75.88 L337.15,75.61 L342.01,75.61" fill="none" stroke="#14145a" stroke-width="0.7" stroke-linejoin="round"/>
<path d="M341,76.3 L341,76.02 L345.16,75.75 L349.32,75.33 L353.48,75.05 L357.64,75.33 L360.42,74.64 L362.5,73.53 L364.58,71.86 L366.66,73.53 L368.74,72.97 L371.51,72.56 L374.29,72.97 L377.06,73.53 L379.83,72.97 L382.61,71.86 L385.38,71.17 L388.16,70.47 L390.93,69.78 L393.7,69.78 L396.48,70.47 L399.25,71.17 L402.03,72.56 L404.11,73.25 L406.19,72.14 L408.96,71.58 L411.74,72.97 L414.51,73.94 L417.28,74.36 L420.06,74.36 L422.83,74.64 L425.6,74.91 L428.38,75.33 L432.54,74.91 L432.8,75.33 L432.8,76.3 Z" fill="#0000f5"/>
<path d="M341,76.02 L345.16,75.75 L349.32,75.33 L353.48,75.05 L357.64,75.33 L360.42,74.64 L362.5,73.53 L364.58,71.86 L366.66,73.53 L368.74,72.97 L371.51,72.56 L374.29,72.97 L377.06,73.53 L379.83,72.97 L382.61,71.86 L385.38,71.17 L388.16,70.47 L390.93,69.78 L393.7,69.78 L396.48,70.47 L399.25,71.17 L402.03,72.56 L404.11,73.25 L406.19,72.14 L408.96,71.58 L411.74,72.97 L414.51,73.94 L417.28,74.36 L420.06,74.36 L422.83,74.64 L425.6,74.91 L428.38,75.33 L432.54,74.91 L432.8,75.33" fill="none" stroke="#14145a" stroke-width="0.7" stroke-linejoin="round"/>
<line x1="247.5" y1="76.3" x2="432.8" y2="76.3" stroke="#5a5a66" stroke-width="0.8"/>
<path d="M247,89.95 L247,89.67 L251.16,89.4 L255.32,88.98 L259.48,88.7 L263.64,88.98 L266.42,88.29 L268.5,87.18 L270.58,85.51 L272.66,87.18 L274.74,86.62 L277.51,86.21 L280.29,86.62 L283.06,87.18 L285.83,86.62 L288.61,85.51 L291.38,84.82 L294.16,84.12 L296.93,83.43 L299.7,83.43 L302.48,84.12 L305.25,84.82 L308.03,86.21 L310.11,86.9 L312.19,85.79 L314.96,85.23 L317.74,86.62 L320.51,87.59 L323.28,88.01 L326.06,88.01 L328.83,88.29 L331.6,88.56 L334.38,88.98 L338.54,88.56 L342.01,88.98 L342.01,89.95 Z" fill="#0000f5"/>
<path d="M247,89.67 L251.16,89.4 L255.32,88.98 L259.48,88.7 L263.64,88.98 L266.42,88.29 L268.5,87.18 L270.58,85.51 L272.66,87.18 L274.74,86.62 L277.51,86.21 L280.29,86.62 L283.06,87.18 L285.83,86.62 L288.61,85.51 L291.38,84.82 L294.16,84.12 L296.93,83.43 L299.7,83.43 L302.48,84.12 L305.25,84.82 L308.03,86.21 L310.11,86.9 L312.19,85.79 L314.96,85.23 L317.74,86.62 L320.51,87.59 L323.28,88.01 L326.06,88.01 L328.83,88.29 L331.6,88.56 L334.38,88.98 L338.54,88.56 L342.01,88.98" fill="none" stroke="#14145a" stroke-width="0.7" stroke-linejoin="round"/>
<path d="M341,89.95 L341,89.4 L345.16,89.4 L349.32,88.98 L351.4,88.29 L353.48,89.4 L356.26,88.98 L359.03,88.56 L361.8,88.01 L364.58,86.62 L367.35,86.21 L368.74,85.23 L370.13,83.15 L371.51,85.79 L374.29,86.9 L377.06,87.18 L379.83,86.62 L382.61,85.79 L385.38,85.23 L387.46,84.82 L389.54,85.23 L392.32,83.85 L395.09,83.43 L397.87,82.46 L400.64,83.43 L403.41,83.85 L406.19,84.4 L408.96,85.23 L411.74,86.21 L414.51,87.59 L418.67,88.29 L422.83,88.98 L426.99,89.67 L431.15,89.67 L432.8,89.67 L432.8,89.95 Z" fill="#0000f5"/>
<path d="M341,89.4 L345.16,89.4 L349.32,88.98 L351.4,88.29 L353.48,89.4 L356.26,88.98 L359.03,88.56 L361.8,88.01 L364.58,86.62 L367.35,86.21 L368.74,85.23 L370.13,83.15 L371.51,85.79 L374.29,86.9 L377.06,87.18 L379.83,86.62 L382.61,85.79 L385.38,85.23 L387.46,84.82 L389.54,85.23 L392.32,83.85 L395.09,83.43 L397.87,82.46 L400.64,83.43 L403.41,83.85 L406.19,84.4 L408.96,85.23 L411.74,86.21 L414.51,87.59 L418.67,88.29 L422.83,88.98 L426.99,89.67 L431.15,89.67 L432.8,89.67" fill="none" stroke="#14145a" stroke-width="0.7" stroke-linejoin="round"/>
<line x1="247.5" y1="89.95" x2="432.8" y2="89.95" stroke="#5a5a66" stroke-width="0.8"/>
<path d="M247,103.6 L247,103.05 L251.16,103.05 L255.32,102.63 L257.4,101.94 L259.48,103.05 L262.26,102.63 L265.03,102.21 L267.8,101.66 L270.58,100.27 L273.35,99.86 L274.74,98.88 L276.13,96.8 L277.51,99.44 L280.29,100.55 L283.06,100.83 L285.83,100.27 L288.61,99.44 L291.38,98.88 L293.46,98.47 L295.54,98.88 L298.32,97.5 L301.09,97.08 L303.87,96.11 L306.64,97.08 L309.41,97.5 L312.19,98.05 L314.96,98.88 L317.74,99.86 L320.51,101.24 L324.67,101.94 L328.83,102.63 L332.99,103.32 L337.15,103.32 L342.01,103.32 L342.01,103.6 Z" fill="#0000f5"/>
<path d="M247,103.05 L251.16,103.05 L255.32,102.63 L257.4,101.94 L259.48,103.05 L262.26,102.63 L265.03,102.21 L267.8,101.66 L270.58,100.27 L273.35,99.86 L274.74,98.88 L276.13,96.8 L277.51,99.44 L280.29,100.55 L283.06,100.83 L285.83,100.27 L288.61,99.44 L291.38,98.88 L293.46,98.47 L295.54,98.88 L298.32,97.5 L301.09,97.08 L303.87,96.11 L306.64,97.08 L309.41,97.5 L312.19,98.05 L314.96,98.88 L317.74,99.86 L320.51,101.24 L324.67,101.94 L328.83,102.63 L332.99,103.32 L337.15,103.32 L342.01,103.32" fill="none" stroke="#14145a" stroke-width="0.7" stroke-linejoin="round"/>
<path d="M341,103.6 L341,103.32 L343.77,102.91 L345.16,101.94 L347.24,102.91 L352.1,103.32 L357.64,102.91 L363.19,102.21 L365.27,100.83 L367.35,98.75 L369.43,101.52 L371.51,100.13 L374.29,99.72 L377.06,99.16 L379.83,98.75 L382.61,98.33 L385.38,99.16 L388.16,98.33 L390.93,99.16 L393.7,99.16 L396.48,99.72 L398.56,99.16 L400.64,98.05 L402.72,100.83 L405.49,101.1 L408.27,101.52 L410.35,100.55 L411.74,99.16 L413.12,101.94 L415.9,101.94 L420.06,101.52 L424.22,101.1 L426.99,101.52 L431.15,102.49 L432.8,102.91 L432.8,103.6 Z" fill="#0000f5"/>
<path d="M341,103.32 L343.77,102.91 L345.16,101.94 L347.24,102.91 L352.1,103.32 L357.64,102.91 L363.19,102.21 L365.27,100.83 L367.35,98.75 L369.43,101.52 L371.51,100.13 L374.29,99.72 L377.06,99.16 L379.83,98.75 L382.61,98.33 L385.38,99.16 L388.16,98.33 L390.93,99.16 L393.7,99.16 L396.48,99.72 L398.56,99.16 L400.64,98.05 L402.72,100.83 L405.49,101.1 L408.27,101.52 L410.35,100.55 L411.74,99.16 L413.12,101.94 L415.9,101.94 L420.06,101.52 L424.22,101.1 L426.99,101.52 L431.15,102.49 L432.8,102.91" fill="none" stroke="#14145a" stroke-width="0.7" stroke-linejoin="round"/>
<line x1="247.5" y1="103.6" x2="432.8" y2="103.6" stroke="#5a5a66" stroke-width="0.8"/>
<path d="M247,117.25 L247,116.97 L249.77,116.56 L251.16,115.59 L253.24,116.56 L258.1,116.97 L263.64,116.56 L269.19,115.86 L271.27,114.48 L273.35,112.4 L275.43,115.17 L277.51,113.78 L280.29,113.37 L283.06,112.81 L285.83,112.4 L288.61,111.98 L291.38,112.81 L294.16,111.98 L296.93,112.81 L299.7,112.81 L302.48,113.37 L304.56,112.81 L306.64,111.7 L308.72,114.48 L311.49,114.75 L314.27,115.17 L316.35,114.2 L317.74,112.81 L319.12,115.59 L321.9,115.59 L326.06,115.17 L330.22,114.75 L332.99,115.17 L337.15,116.14 L342.01,116.56 L342.01,117.25 Z" fill="#0000f5"/>
<path d="M247,116.97 L249.77,116.56 L251.16,115.59 L253.24,116.56 L258.1,116.97 L263.64,116.56 L269.19,115.86 L271.27,114.48 L273.35,112.4 L275.43,115.17 L277.51,113.78 L280.29,113.37 L283.06,112.81 L285.83,112.4 L288.61,111.98 L291.38,112.81 L294.16,111.98 L296.93,112.81 L299.7,112.81 L302.48,113.37 L304.56,112.81 L306.64,111.7 L308.72,114.48 L311.49,114.75 L314.27,115.17 L316.35,114.2 L317.74,112.81 L319.12,115.59 L321.9,115.59 L326.06,115.17 L330.22,114.75 L332.99,115.17 L337.15,116.14 L342.01,116.56" fill="none" stroke="#14145a" stroke-width="0.7" stroke-linejoin="round"/>
<path d="M341,117.25 L341,116.28 L345.16,116.28 L349.32,116 L354.87,116.42 L360.42,115.31 L363.88,114.61 L366.66,113.92 L370.13,113.92 L372.21,115.72 L374.29,113.51 L376.37,115.72 L378.45,114.61 L380.53,111.84 L382.61,114.61 L385.38,114.89 L388.16,115.72 L392.32,114.61 L395.79,115.31 L397.87,114.34 L399.95,112.12 L402.03,114.61 L404.8,114.89 L408.96,114.34 L411.04,114.61 L413.12,112.12 L415.2,114.61 L418.67,115.72 L422.83,116 L426.99,116.28 L431.15,116.7 L432.8,116.7 L432.8,117.25 Z" fill="#0000f5"/>
<path d="M341,116.28 L345.16,116.28 L349.32,116 L354.87,116.42 L360.42,115.31 L363.88,114.61 L366.66,113.92 L370.13,113.92 L372.21,115.72 L374.29,113.51 L376.37,115.72 L378.45,114.61 L380.53,111.84 L382.61,114.61 L385.38,114.89 L388.16,115.72 L392.32,114.61 L395.79,115.31 L397.87,114.34 L399.95,112.12 L402.03,114.61 L404.8,114.89 L408.96,114.34 L411.04,114.61 L413.12,112.12 L415.2,114.61 L418.67,115.72 L422.83,116 L426.99,116.28 L431.15,116.7 L432.8,116.7" fill="none" stroke="#14145a" stroke-width="0.7" stroke-linejoin="round"/>
<line x1="247.5" y1="117.25" x2="432.8" y2="117.25" stroke="#5a5a66" stroke-width="0.8"/>
<path d="M247,130.9 L247,129.93 L251.16,129.93 L255.32,129.65 L260.87,130.07 L266.42,128.96 L269.88,128.26 L272.66,127.57 L276.13,127.57 L278.21,129.37 L280.29,127.16 L282.37,129.37 L284.45,128.26 L286.53,125.49 L288.61,128.26 L291.38,128.54 L294.16,129.37 L298.32,128.26 L301.79,128.96 L303.87,127.99 L305.95,125.77 L308.03,128.26 L310.8,128.54 L314.96,127.99 L317.04,128.26 L319.12,125.77 L321.2,128.26 L324.67,129.37 L328.83,129.65 L332.99,129.93 L337.15,130.35 L342.01,130.35 L342.01,130.9 Z" fill="#0000f5"/>
<path d="M247,129.93 L251.16,129.93 L255.32,129.65 L260.87,130.07 L266.42,128.96 L269.88,128.26 L272.66,127.57 L276.13,127.57 L278.21,129.37 L280.29,127.16 L282.37,129.37 L284.45,128.26 L286.53,125.49 L288.61,128.26 L291.38,128.54 L294.16,129.37 L298.32,128.26 L301.79,128.96 L303.87,127.99 L305.95,125.77 L308.03,128.26 L310.8,128.54 L314.96,127.99 L317.04,128.26 L319.12,125.77 L321.2,128.26 L324.67,129.37 L328.83,129.65 L332.99,129.93 L337.15,130.35 L342.01,130.35" fill="none" stroke="#14145a" stroke-width="0.7" stroke-linejoin="round"/>
<path d="M341,130.9 L341,130.07 L345.16,129.79 L349.32,129.1 L352.1,129.37 L354.87,128.96 L359.03,129.37 L363.19,129.37 L366.66,129.79 L368.74,128.4 L371.51,127.71 L374.29,128.4 L377.06,127.57 L380.53,125.63 L382.61,127.57 L384.69,128.68 L386.08,129.79 L388.16,127.57 L390.93,127.02 L393.7,127.29 L396.48,127.57 L399.25,127.29 L402.03,127.29 L404.8,128.4 L407.57,127.99 L410.35,129.37 L413.12,129.1 L415.9,128.96 L418.67,128.68 L421.44,129.37 L424.22,130.35 L426.99,130.62 L429.77,130.35 L432.54,128.4 L432.8,129.37 L432.8,130.35 L432.8,130.9 Z" fill="#0000f5"/>
<path d="M341,130.07 L345.16,129.79 L349.32,129.1 L352.1,129.37 L354.87,128.96 L359.03,129.37 L363.19,129.37 L366.66,129.79 L368.74,128.4 L371.51,127.71 L374.29,128.4 L377.06,127.57 L380.53,125.63 L382.61,127.57 L384.69,128.68 L386.08,129.79 L388.16,127.57 L390.93,127.02 L393.7,127.29 L396.48,127.57 L399.25,127.29 L402.03,127.29 L404.8,128.4 L407.57,127.99 L410.35,129.37 L413.12,129.1 L415.9,128.96 L418.67,128.68 L421.44,129.37 L424.22,130.35 L426.99,130.62 L429.77,130.35 L432.54,128.4 L432.8,129.37 L432.8,130.35" fill="none" stroke="#14145a" stroke-width="0.7" stroke-linejoin="round"/>
<line x1="247.5" y1="130.9" x2="432.8" y2="130.9" stroke="#5a5a66" stroke-width="0.8"/>
<path d="M247,144.55 L247,143.72 L251.16,143.44 L255.32,142.75 L258.1,143.02 L260.87,142.61 L265.03,143.02 L269.19,143.02 L272.66,143.44 L274.74,142.05 L277.51,141.36 L280.29,142.05 L283.06,141.22 L286.53,139.28 L288.61,141.22 L290.69,142.33 L292.08,143.44 L294.16,141.22 L296.93,140.67 L299.7,140.94 L302.48,141.22 L305.25,140.94 L308.03,140.94 L310.8,142.05 L313.57,141.64 L316.35,143.02 L319.12,142.75 L321.9,142.61 L324.67,142.33 L327.44,143.02 L330.22,144 L332.99,144.27 L335.77,144 L338.54,142.05 L340.62,143.02 L342.01,144 L342.01,144.55 Z" fill="#0000f5"/>
<path d="M247,143.72 L251.16,143.44 L255.32,142.75 L258.1,143.02 L260.87,142.61 L265.03,143.02 L269.19,143.02 L272.66,143.44 L274.74,142.05 L277.51,141.36 L280.29,142.05 L283.06,141.22 L286.53,139.28 L288.61,141.22 L290.69,142.33 L292.08,143.44 L294.16,141.22 L296.93,140.67 L299.7,140.94 L302.48,141.22 L305.25,140.94 L308.03,140.94 L310.8,142.05 L313.57,141.64 L316.35,143.02 L319.12,142.75 L321.9,142.61 L324.67,142.33 L327.44,143.02 L330.22,144 L332.99,144.27 L335.77,144 L338.54,142.05 L340.62,143.02 L342.01,144" fill="none" stroke="#14145a" stroke-width="0.7" stroke-linejoin="round"/>
<path d="M341,144.55 L341,143.58 L345.16,143.16 L349.32,142.89 L352.79,142.61 L354.87,141.5 L356.95,142.89 L359.03,143.16 L361.11,144.27 L363.19,142.61 L365.97,143.16 L368.74,142.89 L371.51,142.61 L374.29,142.61 L377.75,142.19 L379.83,142.89 L381.92,144.27 L384,141.78 L386.08,142.89 L388.16,142.61 L390.24,141.78 L392.32,142.61 L394.4,144.55 L396.48,143.16 L399.25,143.58 L402.03,142.61 L404.8,142.19 L407.57,142.61 L410.35,143.58 L413.12,143.3 L417.28,143.58 L421.44,143.58 L424.22,144 L429.77,144.27 L432.8,144.27 L432.8,144.55 Z" fill="#0000f5"/>
<path d="M341,143.58 L345.16,143.16 L349.32,142.89 L352.79,142.61 L354.87,141.5 L356.95,142.89 L359.03,143.16 L361.11,144.27 L363.19,142.61 L365.97,143.16 L368.74,142.89 L371.51,142.61 L374.29,142.61 L377.75,142.19 L379.83,142.89 L381.92,144.27 L384,141.78 L386.08,142.89 L388.16,142.61 L390.24,141.78 L392.32,142.61 L394.4,144.55 L396.48,143.16 L399.25,143.58 L402.03,142.61 L404.8,142.19 L407.57,142.61 L410.35,143.58 L413.12,143.3 L417.28,143.58 L421.44,143.58 L424.22,144 L429.77,144.27 L432.8,144.27" fill="none" stroke="#14145a" stroke-width="0.7" stroke-linejoin="round"/>
<line x1="247.5" y1="144.55" x2="432.8" y2="144.55" stroke="#5a5a66" stroke-width="0.8"/>
<path d="M247,158.2 L247,157.23 L251.16,156.81 L255.32,156.54 L258.79,156.26 L260.87,155.15 L262.95,156.54 L265.03,156.81 L267.11,157.92 L269.19,156.26 L271.97,156.81 L274.74,156.54 L277.51,156.26 L280.29,156.26 L283.75,155.84 L285.83,156.54 L287.92,157.92 L290,155.43 L292.08,156.54 L294.16,156.26 L296.24,155.43 L298.32,156.26 L300.4,158.2 L302.48,156.81 L305.25,157.23 L308.03,156.26 L310.8,155.84 L313.57,156.26 L316.35,157.23 L319.12,156.95 L323.28,157.23 L327.44,157.23 L330.22,157.65 L335.77,157.92 L340.76,157.92 L340.76,158.2 Z" fill="#0000f5"/>
<path d="M247,157.23 L251.16,156.81 L255.32,156.54 L258.79,156.26 L260.87,155.15 L262.95,156.54 L265.03,156.81 L267.11,157.92 L269.19,156.26 L271.97,156.81 L274.74,156.54 L277.51,156.26 L280.29,156.26 L283.75,155.84 L285.83,156.54 L287.92,157.92 L290,155.43 L292.08,156.54 L294.16,156.26 L296.24,155.43 L298.32,156.26 L300.4,158.2 L302.48,156.81 L305.25,157.23 L308.03,156.26 L310.8,155.84 L313.57,156.26 L316.35,157.23 L319.12,156.95 L323.28,157.23 L327.44,157.23 L330.22,157.65 L335.77,157.92 L340.76,157.92" fill="none" stroke="#14145a" stroke-width="0.7" stroke-linejoin="round"/>
<line x1="247.5" y1="158.2" x2="432.8" y2="158.2" stroke="#5a5a66" stroke-width="0.8"/>
<line x1="247.5" y1="158.8" x2="432.8" y2="158.8" stroke="#707070" stroke-width="1.3"/>
<line x1="432.8" y1="159" x2="434.8" y2="159" stroke="#b0b0b0" stroke-width="1"/>
<line x1="247.5" y1="22.9" x2="247.5" y2="159.4" stroke="#666" stroke-width="1"/>
<text x="243" y="37.95" font-size="6.3" text-anchor="end" fill="#3a3a3a">1</text>
<text x="243" y="51.6" font-size="6.3" text-anchor="end" fill="#3a3a3a">2</text>
<text x="243" y="65.25" font-size="6.3" text-anchor="end" fill="#3a3a3a">3</text>
<text x="243" y="78.9" font-size="6.3" text-anchor="end" fill="#3a3a3a">4</text>
<text x="243" y="92.55" font-size="6.3" text-anchor="end" fill="#3a3a3a">5</text>
<text x="243" y="106.2" font-size="6.3" text-anchor="end" fill="#3a3a3a">6</text>
<text x="243" y="119.85" font-size="6.3" text-anchor="end" fill="#3a3a3a">7</text>
<text x="243" y="133.5" font-size="6.3" text-anchor="end" fill="#3a3a3a">8</text>
<text x="243" y="147.15" font-size="6.3" text-anchor="end" fill="#3a3a3a">9</text>
<text x="243" y="160.8" font-size="6.3" text-anchor="end" fill="#3a3a3a">10</text>
<text transform="translate(235.5,91.2) rotate(-90)" font-size="6.3" text-anchor="middle" fill="#3a3a3a" textLength="11" lengthAdjust="spacingAndGlyphs">day</text>
<text x="272.6" y="168" font-size="6.3" text-anchor="middle" fill="#3a3a3a">0</text>
<text x="319.58" y="168" font-size="6.3" text-anchor="middle" fill="#3a3a3a" textLength="7.4" lengthAdjust="spacingAndGlyphs">12</text>
<text x="366.56" y="168" font-size="6.3" text-anchor="middle" fill="#3a3a3a" textLength="7.4" lengthAdjust="spacingAndGlyphs">24</text>
<text x="413.54" y="168" font-size="6.3" text-anchor="middle" fill="#3a3a3a" textLength="7.4" lengthAdjust="spacingAndGlyphs">36</text>
<text x="344.4" y="176.4" font-size="6.3" text-anchor="middle" fill="#3a3a3a" textLength="27.4" lengthAdjust="spacingAndGlyphs">time (ZT)</text>
<rect x="247.3" y="327.05" width="3.9" height="4.45" fill="#828282" stroke="#333" stroke-width="0.7"/>
<rect x="251.2" y="323.12" width="3.9" height="8.38" fill="#828282" stroke="#333" stroke-width="0.7"/>
<rect x="255.11" y="310.98" width="3.9" height="20.52" fill="#828282" stroke="#333" stroke-width="0.7"/>
<rect x="259.01" y="321.92" width="3.9" height="9.58" fill="#828282" stroke="#333" stroke-width="0.7"/>
<rect x="262.92" y="324.15" width="3.9" height="7.35" fill="#828282" stroke="#333" stroke-width="0.7"/>
<rect x="266.82" y="322.1" width="3.9" height="9.4" fill="#828282" stroke="#333" stroke-width="0.7"/>
<rect x="270.73" y="317.99" width="3.9" height="13.51" fill="#828282" stroke="#333" stroke-width="0.7"/>
<rect x="274.63" y="329.11" width="3.9" height="2.39" fill="#828282" stroke="#333" stroke-width="0.7"/>
<rect x="278.53" y="328.17" width="3.9" height="3.33" fill="#828282" stroke="#333" stroke-width="0.7"/>
<rect x="282.44" y="323.12" width="3.9" height="8.38" fill="#828282" stroke="#333" stroke-width="0.7"/>
<rect x="286.34" y="312.01" width="3.9" height="19.49" fill="#828282" stroke="#333" stroke-width="0.7"/>
<rect x="290.25" y="297.98" width="3.9" height="33.52" fill="#828282" stroke="#333" stroke-width="0.7"/>
<rect x="294.15" y="228.05" width="3.9" height="103.45" fill="#fff" stroke="#333" stroke-width="0.7"/>
<rect x="298.05" y="255.06" width="3.9" height="76.44" fill="#fff" stroke="#333" stroke-width="0.7"/>
<rect x="301.96" y="271.31" width="3.9" height="60.19" fill="#fff" stroke="#333" stroke-width="0.7"/>
<rect x="305.86" y="299.52" width="3.9" height="31.98" fill="#fff" stroke="#333" stroke-width="0.7"/>
<rect x="309.77" y="302.77" width="3.9" height="28.73" fill="#fff" stroke="#333" stroke-width="0.7"/>
<rect x="313.67" y="320.38" width="3.9" height="11.12" fill="#fff" stroke="#333" stroke-width="0.7"/>
<rect x="317.57" y="317.48" width="3.9" height="14.02" fill="#fff" stroke="#333" stroke-width="0.7"/>
<rect x="321.48" y="324.15" width="3.9" height="7.35" fill="#fff" stroke="#333" stroke-width="0.7"/>
<rect x="325.38" y="327.23" width="3.9" height="4.28" fill="#fff" stroke="#333" stroke-width="0.7"/>
<rect x="329.29" y="321.92" width="3.9" height="9.58" fill="#fff" stroke="#333" stroke-width="0.7"/>
<rect x="333.19" y="323.81" width="3.9" height="7.7" fill="#fff" stroke="#333" stroke-width="0.7"/>
<rect x="337.1" y="325" width="3.9" height="6.5" fill="#fff" stroke="#333" stroke-width="0.7"/>
<rect x="341" y="320.38" width="3.9" height="11.12" fill="#fff" stroke="#333" stroke-width="0.7"/>
<rect x="344.9" y="318.16" width="3.9" height="13.34" fill="#fff" stroke="#333" stroke-width="0.7"/>
<rect x="348.81" y="326.71" width="3.9" height="4.79" fill="#fff" stroke="#333" stroke-width="0.7"/>
<rect x="352.71" y="322.1" width="3.9" height="9.4" fill="#fff" stroke="#333" stroke-width="0.7"/>
<rect x="356.62" y="324.49" width="3.9" height="7.01" fill="#fff" stroke="#333" stroke-width="0.7"/>
<rect x="360.52" y="312.01" width="3.9" height="19.49" fill="#fff" stroke="#333" stroke-width="0.7"/>
<rect x="364.43" y="313.55" width="3.9" height="17.95" fill="#fff" stroke="#333" stroke-width="0.7"/>
<rect x="368.33" y="302.26" width="3.9" height="29.24" fill="#fff" stroke="#333" stroke-width="0.7"/>
<rect x="372.23" y="274.39" width="3.9" height="57.11" fill="#fff" stroke="#333" stroke-width="0.7"/>
<rect x="376.14" y="242.41" width="3.9" height="89.09" fill="#fff" stroke="#333" stroke-width="0.7"/>
<rect x="380.04" y="229.93" width="3.9" height="101.57" fill="#fff" stroke="#333" stroke-width="0.7"/>
<rect x="383.95" y="221.72" width="3.9" height="109.78" fill="#fff" stroke="#333" stroke-width="0.7"/>
<rect x="387.85" y="217.44" width="3.9" height="114.06" fill="#828282" stroke="#333" stroke-width="0.7"/>
<rect x="391.75" y="280.37" width="3.9" height="51.13" fill="#828282" stroke="#333" stroke-width="0.7"/>
<rect x="395.66" y="319.87" width="3.9" height="11.63" fill="#828282" stroke="#333" stroke-width="0.7"/>
<rect x="399.56" y="325.51" width="3.9" height="5.98" fill="#828282" stroke="#333" stroke-width="0.7"/>
<rect x="403.47" y="324.49" width="3.9" height="7.01" fill="#828282" stroke="#333" stroke-width="0.7"/>
<rect x="407.37" y="329.11" width="3.9" height="2.39" fill="#828282" stroke="#333" stroke-width="0.7"/>
<rect x="411.27" y="322.78" width="3.9" height="8.72" fill="#828282" stroke="#333" stroke-width="0.7"/>
<rect x="415.18" y="324.49" width="3.9" height="7.01" fill="#828282" stroke="#333" stroke-width="0.7"/>
<rect x="419.08" y="322.27" width="3.9" height="9.23" fill="#828282" stroke="#333" stroke-width="0.7"/>
<rect x="422.99" y="317.31" width="3.9" height="14.19" fill="#828282" stroke="#333" stroke-width="0.7"/>
<rect x="426.89" y="313.2" width="3.9" height="18.3" fill="#828282" stroke="#333" stroke-width="0.7"/>
<rect x="430.8" y="321.24" width="3.9" height="10.26" fill="#828282" stroke="#333" stroke-width="0.7"/>
<circle cx="249.25" cy="323.46" r="0.75" fill="#b82048"/>
<circle cx="253.16" cy="318.68" r="0.75" fill="#b82048"/>
<circle cx="257.06" cy="307.39" r="0.75" fill="#b82048"/>
<circle cx="260.96" cy="319.53" r="0.75" fill="#b82048"/>
<circle cx="264.87" cy="323.46" r="0.75" fill="#b82048"/>
<circle cx="268.77" cy="316.28" r="0.75" fill="#b82048"/>
<circle cx="272.68" cy="313.03" r="0.75" fill="#b82048"/>
<circle cx="276.58" cy="327.23" r="0.75" fill="#b82048"/>
<circle cx="280.49" cy="327.23" r="0.75" fill="#b82048"/>
<circle cx="284.39" cy="318.68" r="0.75" fill="#b82048"/>
<circle cx="288.29" cy="306.36" r="0.75" fill="#b82048"/>
<circle cx="292.2" cy="297.13" r="0.75" fill="#b82048"/>
<circle cx="296.1" cy="219.5" r="0.75" fill="#b82048"/>
<circle cx="300.01" cy="250.45" r="0.75" fill="#b82048"/>
<circle cx="303.91" cy="267.72" r="0.75" fill="#b82048"/>
<circle cx="307.81" cy="296.27" r="0.75" fill="#b82048"/>
<circle cx="311.72" cy="300.55" r="0.75" fill="#b82048"/>
<circle cx="315.62" cy="316.45" r="0.75" fill="#b82048"/>
<circle cx="319.53" cy="313.72" r="0.75" fill="#b82048"/>
<circle cx="323.43" cy="320.73" r="0.75" fill="#b82048"/>
<circle cx="327.34" cy="325.86" r="0.75" fill="#b82048"/>
<circle cx="331.24" cy="318.16" r="0.75" fill="#b82048"/>
<circle cx="335.14" cy="322.1" r="0.75" fill="#b82048"/>
<circle cx="339.05" cy="322.95" r="0.75" fill="#b82048"/>
<circle cx="342.95" cy="315.6" r="0.75" fill="#b82048"/>
<circle cx="346.86" cy="309.44" r="0.75" fill="#b82048"/>
<circle cx="350.76" cy="325.34" r="0.75" fill="#b82048"/>
<circle cx="354.66" cy="318.85" r="0.75" fill="#b82048"/>
<circle cx="358.57" cy="322.78" r="0.75" fill="#b82048"/>
<circle cx="362.47" cy="308.07" r="0.75" fill="#b82048"/>
<circle cx="366.38" cy="311.32" r="0.75" fill="#b82048"/>
<circle cx="370.28" cy="298.67" r="0.75" fill="#b82048"/>
<circle cx="374.19" cy="271.14" r="0.75" fill="#b82048"/>
<circle cx="378.09" cy="235.74" r="0.75" fill="#b82048"/>
<circle cx="381.99" cy="219.67" r="0.75" fill="#b82048"/>
<circle cx="385.9" cy="215.73" r="0.75" fill="#b82048"/>
<circle cx="389.8" cy="210.6" r="0.75" fill="#b82048"/>
<circle cx="393.71" cy="275.41" r="0.75" fill="#b82048"/>
<circle cx="397.61" cy="314.74" r="0.75" fill="#b82048"/>
<circle cx="401.51" cy="321.58" r="0.75" fill="#b82048"/>
<circle cx="405.42" cy="320.04" r="0.75" fill="#b82048"/>
<circle cx="409.32" cy="328.08" r="0.75" fill="#b82048"/>
<circle cx="413.23" cy="319.02" r="0.75" fill="#b82048"/>
<circle cx="417.13" cy="321.58" r="0.75" fill="#b82048"/>
<circle cx="421.04" cy="318.33" r="0.75" fill="#b82048"/>
<circle cx="424.94" cy="315.6" r="0.75" fill="#b82048"/>
<circle cx="428.84" cy="307.05" r="0.75" fill="#b82048"/>
<circle cx="432.75" cy="317.99" r="0.75" fill="#b82048"/>
<line x1="247.3" y1="194.7" x2="247.3" y2="331.5" stroke="#777" stroke-width="1"/>
<line x1="247.3" y1="331.8" x2="434.7" y2="331.8" stroke="#888" stroke-width="1"/>
<line x1="247.3" y1="331.5" x2="249.3" y2="331.5" stroke="#777" stroke-width="0.7"/>
<text x="244.9" y="333.7" font-size="6.3" text-anchor="end" fill="#3a3a3a">0</text>
<line x1="247.3" y1="314.4" x2="249.3" y2="314.4" stroke="#777" stroke-width="0.7"/>
<text x="244.9" y="316.6" font-size="6.3" text-anchor="end" fill="#3a3a3a" textLength="6" lengthAdjust="spacingAndGlyphs">10</text>
<line x1="247.3" y1="297.3" x2="249.3" y2="297.3" stroke="#777" stroke-width="0.7"/>
<text x="244.9" y="299.5" font-size="6.3" text-anchor="end" fill="#3a3a3a" textLength="6" lengthAdjust="spacingAndGlyphs">20</text>
<line x1="247.3" y1="280.2" x2="249.3" y2="280.2" stroke="#777" stroke-width="0.7"/>
<text x="244.9" y="282.4" font-size="6.3" text-anchor="end" fill="#3a3a3a" textLength="6" lengthAdjust="spacingAndGlyphs">30</text>
<line x1="247.3" y1="263.1" x2="249.3" y2="263.1" stroke="#777" stroke-width="0.7"/>
<text x="244.9" y="265.3" font-size="6.3" text-anchor="end" fill="#3a3a3a" textLength="6" lengthAdjust="spacingAndGlyphs">40</text>
<line x1="247.3" y1="246" x2="249.3" y2="246" stroke="#777" stroke-width="0.7"/>
<text x="244.9" y="248.2" font-size="6.3" text-anchor="end" fill="#3a3a3a" textLength="6" lengthAdjust="spacingAndGlyphs">50</text>
<line x1="247.3" y1="228.9" x2="249.3" y2="228.9" stroke="#777" stroke-width="0.7"/>
<text x="244.9" y="231.1" font-size="6.3" text-anchor="end" fill="#3a3a3a" textLength="6" lengthAdjust="spacingAndGlyphs">60</text>
<line x1="247.3" y1="211.8" x2="249.3" y2="211.8" stroke="#777" stroke-width="0.7"/>
<text x="244.9" y="214" font-size="6.3" text-anchor="end" fill="#3a3a3a" textLength="6" lengthAdjust="spacingAndGlyphs">70</text>
<line x1="247.3" y1="194.7" x2="249.3" y2="194.7" stroke="#777" stroke-width="0.7"/>
<text x="244.9" y="196.9" font-size="6.3" text-anchor="end" fill="#3a3a3a" textLength="6" lengthAdjust="spacingAndGlyphs">80</text>
<text transform="translate(235.1,263.1) rotate(-90)" font-size="6.3" text-anchor="middle" fill="#3a3a3a">mean activity</text>
<text x="294.15" y="340.1" font-size="6.3" text-anchor="middle" fill="#3a3a3a">ZT0</text>
<text x="387.85" y="340.1" font-size="6.3" text-anchor="middle" fill="#3a3a3a">ZT12</text>
<text x="477" y="9.45" font-size="14" font-style="italic" fill="#111" textLength="125.3" lengthAdjust="spacingAndGlyphs">tim-Gal4&gt;CrebB-KO</text>
<text x="611.6" y="9.6" font-size="11.2" fill="#1a1a1a" textLength="28.7" lengthAdjust="spacingAndGlyphs">n=12</text>
<rect x="477.4" y="23" width="187.3" height="136.5" fill="#d9d9d9"/>
<rect x="662.7" y="23" width="2" height="136.5" fill="#cecece"/>
<rect x="502.6" y="23" width="46.98" height="12.45" fill="#fff"/>
<rect x="596.56" y="23" width="46.98" height="12.45" fill="#fff"/>
<rect x="502.6" y="36.65" width="46.98" height="12.45" fill="#fff"/>
<rect x="596.56" y="36.65" width="46.98" height="12.45" fill="#fff"/>
<rect x="502.6" y="50.3" width="46.98" height="12.45" fill="#fff"/>
<line x1="498.5" y1="23" x2="498.5" y2="159.5" stroke="#000" stroke-opacity="0.07" stroke-width="1"/>
<line x1="522.5" y1="23" x2="522.5" y2="159.5" stroke="#000" stroke-opacity="0.07" stroke-width="1"/>
<line x1="545.5" y1="23" x2="545.5" y2="159.5" stroke="#000" stroke-opacity="0.07" stroke-width="1"/>
<line x1="569.5" y1="23" x2="569.5" y2="159.5" stroke="#000" stroke-opacity="0.07" stroke-width="1"/>
<line x1="592.5" y1="23" x2="592.5" y2="159.5" stroke="#000" stroke-opacity="0.07" stroke-width="1"/>
<line x1="615.5" y1="23" x2="615.5" y2="159.5" stroke="#000" stroke-opacity="0.07" stroke-width="1"/>
<line x1="639.5" y1="23" x2="639.5" y2="159.5" stroke="#000" stroke-opacity="0.07" stroke-width="1"/>
<path d="M477,35.45 L477,35.03 L479.77,34.48 L481.85,33.09 L483.93,32.26 L486.02,33.37 L488.1,34.48 L490.18,34.06 L492.26,34.76 L495.03,34.48 L497.8,33.37 L499.88,31.29 L501.97,28.52 L504.05,30.6 L506.13,33.09 L508.21,34.48 L511.67,35.03 L515.83,35.03 L520,35.03 L524.16,35.17 L526.93,35.03 L529.7,34.06 L532.48,35.03 L536.64,35.03 L538.72,33.65 L540.8,31.71 L543.57,30.6 L546.35,29.21 L549.12,25.33 L551.2,28.52 L553.28,31.98 L555.36,34.76 L557.44,35.17 L560.22,35.03 L562.99,34.06 L565.77,33.37 L568.54,31.98 L569.93,33.09 L572.01,34.76 L572.01,35.45 Z" fill="#0000f5"/>
<path d="M477,35.03 L479.77,34.48 L481.85,33.09 L483.93,32.26 L486.02,33.37 L488.1,34.48 L490.18,34.06 L492.26,34.76 L495.03,34.48 L497.8,33.37 L499.88,31.29 L501.97,28.52 L504.05,30.6 L506.13,33.09 L508.21,34.48 L511.67,35.03 L515.83,35.03 L520,35.03 L524.16,35.17 L526.93,35.03 L529.7,34.06 L532.48,35.03 L536.64,35.03 L538.72,33.65 L540.8,31.71 L543.57,30.6 L546.35,29.21 L549.12,25.33 L551.2,28.52 L553.28,31.98 L555.36,34.76 L557.44,35.17 L560.22,35.03 L562.99,34.06 L565.77,33.37 L568.54,31.98 L569.93,33.09 L572.01,34.76" fill="none" stroke="#14145a" stroke-width="0.7" stroke-linejoin="round"/>
<path d="M571,35.45 L571,34.34 L573.08,33.37 L575.16,33.92 L577.93,32.54 L580.71,31.57 L582.79,32.95 L584.87,33.37 L586.95,32.26 L589.03,30.87 L591.11,30.46 L593.19,30.18 L594.86,29.49 L596.24,25.05 L598.05,29.49 L600.13,32.26 L602.9,33.92 L605.67,34.76 L609.83,35.03 L614,35.03 L618.16,35.03 L622.32,35.03 L626.48,34.76 L629.25,34.34 L632.03,32.95 L634.8,31.57 L637.57,30.18 L640.35,28.1 L643.12,23.94 L645.2,28.1 L647.28,31.98 L650.06,34.34 L654.22,35.03 L656.99,34.34 L659.77,33.65 L662.54,33.37 L662.7,32.95 L662.7,35.45 Z" fill="#0000f5"/>
<path d="M571,34.34 L573.08,33.37 L575.16,33.92 L577.93,32.54 L580.71,31.57 L582.79,32.95 L584.87,33.37 L586.95,32.26 L589.03,30.87 L591.11,30.46 L593.19,30.18 L594.86,29.49 L596.24,25.05 L598.05,29.49 L600.13,32.26 L602.9,33.92 L605.67,34.76 L609.83,35.03 L614,35.03 L618.16,35.03 L622.32,35.03 L626.48,34.76 L629.25,34.34 L632.03,32.95 L634.8,31.57 L637.57,30.18 L640.35,28.1 L643.12,23.94 L645.2,28.1 L647.28,31.98 L650.06,34.34 L654.22,35.03 L656.99,34.34 L659.77,33.65 L662.54,33.37 L662.7,32.95" fill="none" stroke="#14145a" stroke-width="0.7" stroke-linejoin="round"/>
<line x1="477.4" y1="35.45" x2="662.7" y2="35.45" stroke="#5a5a66" stroke-width="0.8"/>
<path d="M477,49.1 L477,47.99 L479.08,47.02 L481.16,47.57 L483.93,46.19 L486.71,45.22 L488.79,46.6 L490.87,47.02 L492.95,45.91 L495.03,44.52 L497.11,44.11 L499.19,43.83 L500.86,43.14 L502.24,38.7 L504.05,43.14 L506.13,45.91 L508.9,47.57 L511.67,48.41 L515.83,48.68 L520,48.68 L524.16,48.68 L528.32,48.68 L532.48,48.41 L535.25,47.99 L538.03,46.6 L540.8,45.22 L543.57,43.83 L546.35,41.75 L549.12,37.59 L551.2,41.75 L553.28,45.63 L556.06,47.99 L560.22,48.68 L562.99,47.99 L565.77,47.3 L568.54,47.02 L572.01,46.6 L572.01,49.1 Z" fill="#0000f5"/>
<path d="M477,47.99 L479.08,47.02 L481.16,47.57 L483.93,46.19 L486.71,45.22 L488.79,46.6 L490.87,47.02 L492.95,45.91 L495.03,44.52 L497.11,44.11 L499.19,43.83 L500.86,43.14 L502.24,38.7 L504.05,43.14 L506.13,45.91 L508.9,47.57 L511.67,48.41 L515.83,48.68 L520,48.68 L524.16,48.68 L528.32,48.68 L532.48,48.41 L535.25,47.99 L538.03,46.6 L540.8,45.22 L543.57,43.83 L546.35,41.75 L549.12,37.59 L551.2,41.75 L553.28,45.63 L556.06,47.99 L560.22,48.68 L562.99,47.99 L565.77,47.3 L568.54,47.02 L572.01,46.6" fill="none" stroke="#14145a" stroke-width="0.7" stroke-linejoin="round"/>
<path d="M571,49.1 L571,47.71 L573.08,46.05 L575.16,47.71 L577.93,48.13 L580.71,47.44 L583.48,47.71 L586.26,47.16 L588.34,46.05 L590.42,44.38 L592.5,43.97 L594.58,43.27 L596.24,38 L598.05,41.89 L600.13,44.94 L602.21,46.74 L604.98,48.13 L608.45,48.82 L612.61,48.82 L616.77,48.82 L620.93,48.82 L626.48,48.82 L630.64,48.55 L633.41,46.74 L636.19,43.97 L638.96,41.89 L641.04,40.22 L642.84,38.14 L644.51,41.19 L646.59,44.94 L648.67,47.44 L651.44,48.55 L654.22,48.13 L656.99,47.16 L659.77,47.71 L662.54,47.16 L662.7,47.71 L662.7,49.1 Z" fill="#0000f5"/>
<path d="M571,47.71 L573.08,46.05 L575.16,47.71 L577.93,48.13 L580.71,47.44 L583.48,47.71 L586.26,47.16 L588.34,46.05 L590.42,44.38 L592.5,43.97 L594.58,43.27 L596.24,38 L598.05,41.89 L600.13,44.94 L602.21,46.74 L604.98,48.13 L608.45,48.82 L612.61,48.82 L616.77,48.82 L620.93,48.82 L626.48,48.82 L630.64,48.55 L633.41,46.74 L636.19,43.97 L638.96,41.89 L641.04,40.22 L642.84,38.14 L644.51,41.19 L646.59,44.94 L648.67,47.44 L651.44,48.55 L654.22,48.13 L656.99,47.16 L659.77,47.71 L662.54,47.16 L662.7,47.71" fill="none" stroke="#14145a" stroke-width="0.7" stroke-linejoin="round"/>
<line x1="477.4" y1="49.1" x2="662.7" y2="49.1" stroke="#5a5a66" stroke-width="0.8"/>
<path d="M477,62.75 L477,61.36 L479.08,59.7 L481.16,61.36 L483.93,61.78 L486.71,61.09 L489.48,61.36 L492.26,60.81 L494.34,59.7 L496.42,58.03 L498.5,57.62 L500.58,56.92 L502.24,51.65 L504.05,55.54 L506.13,58.59 L508.21,60.39 L510.98,61.78 L514.45,62.47 L518.61,62.47 L522.77,62.47 L526.93,62.47 L532.48,62.47 L536.64,62.2 L539.41,60.39 L542.19,57.62 L544.96,55.54 L547.04,53.87 L548.84,51.79 L550.51,54.84 L552.59,58.59 L554.67,61.09 L557.44,62.2 L560.22,61.78 L562.99,60.81 L565.77,61.36 L568.54,60.81 L572.01,61.36 L572.01,62.75 Z" fill="#0000f5"/>
<path d="M477,61.36 L479.08,59.7 L481.16,61.36 L483.93,61.78 L486.71,61.09 L489.48,61.36 L492.26,60.81 L494.34,59.7 L496.42,58.03 L498.5,57.62 L500.58,56.92 L502.24,51.65 L504.05,55.54 L506.13,58.59 L508.21,60.39 L510.98,61.78 L514.45,62.47 L518.61,62.47 L522.77,62.47 L526.93,62.47 L532.48,62.47 L536.64,62.2 L539.41,60.39 L542.19,57.62 L544.96,55.54 L547.04,53.87 L548.84,51.79 L550.51,54.84 L552.59,58.59 L554.67,61.09 L557.44,62.2 L560.22,61.78 L562.99,60.81 L565.77,61.36 L568.54,60.81 L572.01,61.36" fill="none" stroke="#14145a" stroke-width="0.7" stroke-linejoin="round"/>
<path d="M571,62.75 L571,60.67 L573.08,61.36 L575.16,62.06 L577.24,61.36 L579.32,61.78 L582.1,62.06 L584.18,59.98 L585.56,60.67 L586.95,59.56 L588.34,57.2 L590.42,57.9 L592.5,57.62 L594.58,56.79 L596.38,55.82 L598.05,56.79 L600.13,57.2 L602.21,57.9 L604.29,59.01 L607.06,59.28 L609.83,59.56 L611.92,58.17 L614,59.56 L616.08,59.98 L618.16,59.01 L620.93,58.59 L623.7,58.17 L626.48,58.17 L629.25,57.2 L632.03,56.51 L634.8,55.82 L636.88,56.51 L638.96,56.23 L641.74,55.82 L644.51,55.82 L647.28,56.51 L650.06,57.62 L652.83,59.01 L655.6,59.98 L657.69,60.67 L659.77,60.39 L662.54,59.56 L662.7,59.98 L662.7,60.67 L662.7,62.75 Z" fill="#0000f5"/>
<path d="M571,60.67 L573.08,61.36 L575.16,62.06 L577.24,61.36 L579.32,61.78 L582.1,62.06 L584.18,59.98 L585.56,60.67 L586.95,59.56 L588.34,57.2 L590.42,57.9 L592.5,57.62 L594.58,56.79 L596.38,55.82 L598.05,56.79 L600.13,57.2 L602.21,57.9 L604.29,59.01 L607.06,59.28 L609.83,59.56 L611.92,58.17 L614,59.56 L616.08,59.98 L618.16,59.01 L620.93,58.59 L623.7,58.17 L626.48,58.17 L629.25,57.2 L632.03,56.51 L634.8,55.82 L636.88,56.51 L638.96,56.23 L641.74,55.82 L644.51,55.82 L647.28,56.51 L650.06,57.62 L652.83,59.01 L655.6,59.98 L657.69,60.67 L659.77,60.39 L662.54,59.56 L662.7,59.98 L662.7,60.67" fill="none" stroke="#14145a" stroke-width="0.7" stroke-linejoin="round"/>
<line x1="477.4" y1="62.75" x2="662.7" y2="62.75" stroke="#5a5a66" stroke-width="0.8"/>
<path d="M477,76.4 L477,74.32 L479.08,75.01 L481.16,75.71 L483.24,75.01 L485.32,75.43 L488.1,75.71 L490.18,73.63 L491.56,74.32 L492.95,73.21 L494.34,70.85 L496.42,71.55 L498.5,71.27 L500.58,70.44 L502.38,69.47 L504.05,70.44 L506.13,70.85 L508.21,71.55 L510.29,72.66 L513.06,72.93 L515.83,73.21 L517.92,71.82 L520,73.21 L522.08,73.63 L524.16,72.66 L526.93,72.24 L529.7,71.82 L532.48,71.82 L535.25,70.85 L538.03,70.16 L540.8,69.47 L542.88,70.16 L544.96,69.88 L547.74,69.47 L550.51,69.47 L553.28,70.16 L556.06,71.27 L558.83,72.66 L561.6,73.63 L563.69,74.32 L565.77,74.04 L568.54,73.21 L570.62,73.63 L572.01,74.32 L572.01,76.4 Z" fill="#0000f5"/>
<path d="M477,74.32 L479.08,75.01 L481.16,75.71 L483.24,75.01 L485.32,75.43 L488.1,75.71 L490.18,73.63 L491.56,74.32 L492.95,73.21 L494.34,70.85 L496.42,71.55 L498.5,71.27 L500.58,70.44 L502.38,69.47 L504.05,70.44 L506.13,70.85 L508.21,71.55 L510.29,72.66 L513.06,72.93 L515.83,73.21 L517.92,71.82 L520,73.21 L522.08,73.63 L524.16,72.66 L526.93,72.24 L529.7,71.82 L532.48,71.82 L535.25,70.85 L538.03,70.16 L540.8,69.47 L542.88,70.16 L544.96,69.88 L547.74,69.47 L550.51,69.47 L553.28,70.16 L556.06,71.27 L558.83,72.66 L561.6,73.63 L563.69,74.32 L565.77,74.04 L568.54,73.21 L570.62,73.63 L572.01,74.32" fill="none" stroke="#14145a" stroke-width="0.7" stroke-linejoin="round"/>
<path d="M571,76.4 L571,75.01 L573.77,74.46 L576.55,74.74 L579.32,75.43 L582.1,75.71 L584.87,75.43 L587.64,75.01 L589.03,73.63 L590.42,71.96 L591.8,72.66 L594.58,73.07 L597.35,73.35 L600.13,73.07 L602.9,73.63 L605.67,73.07 L608.45,73.63 L611.22,73.07 L614,74.04 L616.77,73.07 L619.54,73.35 L622.32,73.07 L625.09,72.66 L627.87,71.96 L630.64,72.24 L633.41,71.96 L636.19,72.66 L638.96,71.96 L641.74,71.68 L644.51,71.96 L646.59,73.07 L648.67,71.68 L650.75,70.85 L652.83,72.66 L654.91,72.24 L656.99,73.35 L659.77,74.04 L661.85,75.43 L662.7,74.74 L662.7,74.74 L662.7,76.4 Z" fill="#0000f5"/>
<path d="M571,75.01 L573.77,74.46 L576.55,74.74 L579.32,75.43 L582.1,75.71 L584.87,75.43 L587.64,75.01 L589.03,73.63 L590.42,71.96 L591.8,72.66 L594.58,73.07 L597.35,73.35 L600.13,73.07 L602.9,73.63 L605.67,73.07 L608.45,73.63 L611.22,73.07 L614,74.04 L616.77,73.07 L619.54,73.35 L622.32,73.07 L625.09,72.66 L627.87,71.96 L630.64,72.24 L633.41,71.96 L636.19,72.66 L638.96,71.96 L641.74,71.68 L644.51,71.96 L646.59,73.07 L648.67,71.68 L650.75,70.85 L652.83,72.66 L654.91,72.24 L656.99,73.35 L659.77,74.04 L661.85,75.43 L662.7,74.74 L662.7,74.74" fill="none" stroke="#14145a" stroke-width="0.7" stroke-linejoin="round"/>
<line x1="477.4" y1="76.4" x2="662.7" y2="76.4" stroke="#5a5a66" stroke-width="0.8"/>
<path d="M477,90.05 L477,88.66 L479.77,88.11 L482.55,88.39 L485.32,89.08 L488.1,89.36 L490.87,89.08 L493.64,88.66 L495.03,87.28 L496.42,85.61 L497.8,86.31 L500.58,86.72 L503.35,87 L506.13,86.72 L508.9,87.28 L511.67,86.72 L514.45,87.28 L517.22,86.72 L520,87.69 L522.77,86.72 L525.54,87 L528.32,86.72 L531.09,86.31 L533.87,85.61 L536.64,85.89 L539.41,85.61 L542.19,86.31 L544.96,85.61 L547.74,85.33 L550.51,85.61 L552.59,86.72 L554.67,85.33 L556.75,84.5 L558.83,86.31 L560.91,85.89 L562.99,87 L565.77,87.69 L567.85,89.08 L569.93,88.39 L572.01,88.39 L572.01,90.05 Z" fill="#0000f5"/>
<path d="M477,88.66 L479.77,88.11 L482.55,88.39 L485.32,89.08 L488.1,89.36 L490.87,89.08 L493.64,88.66 L495.03,87.28 L496.42,85.61 L497.8,86.31 L500.58,86.72 L503.35,87 L506.13,86.72 L508.9,87.28 L511.67,86.72 L514.45,87.28 L517.22,86.72 L520,87.69 L522.77,86.72 L525.54,87 L528.32,86.72 L531.09,86.31 L533.87,85.61 L536.64,85.89 L539.41,85.61 L542.19,86.31 L544.96,85.61 L547.74,85.33 L550.51,85.61 L552.59,86.72 L554.67,85.33 L556.75,84.5 L558.83,86.31 L560.91,85.89 L562.99,87 L565.77,87.69 L567.85,89.08 L569.93,88.39 L572.01,88.39" fill="none" stroke="#14145a" stroke-width="0.7" stroke-linejoin="round"/>
<path d="M571,90.05 L571,88.66 L573.77,88.66 L576.55,89.08 L579.32,89.08 L582.1,89.08 L584.87,88.66 L587.64,89.08 L590.42,88.11 L593.19,87 L595.97,87.28 L598.74,86.72 L601.51,87.28 L604.29,87.69 L607.06,87.69 L609.83,86.72 L612.61,87.69 L615.38,87.28 L618.16,86.72 L620.93,86.31 L623.7,86.72 L625.79,88.11 L627.87,86.72 L630.64,86.31 L633.41,86.31 L636.19,85.89 L638.96,84.92 L641.74,83.95 L643.82,83.53 L645.9,84.22 L648.67,85.61 L651.44,87 L654.22,88.39 L656.99,89.08 L659.77,89.08 L662.54,88.39 L662.7,88.39 L662.7,90.05 Z" fill="#0000f5"/>
<path d="M571,88.66 L573.77,88.66 L576.55,89.08 L579.32,89.08 L582.1,89.08 L584.87,88.66 L587.64,89.08 L590.42,88.11 L593.19,87 L595.97,87.28 L598.74,86.72 L601.51,87.28 L604.29,87.69 L607.06,87.69 L609.83,86.72 L612.61,87.69 L615.38,87.28 L618.16,86.72 L620.93,86.31 L623.7,86.72 L625.79,88.11 L627.87,86.72 L630.64,86.31 L633.41,86.31 L636.19,85.89 L638.96,84.92 L641.74,83.95 L643.82,83.53 L645.9,84.22 L648.67,85.61 L651.44,87 L654.22,88.39 L656.99,89.08 L659.77,89.08 L662.54,88.39 L662.7,88.39" fill="none" stroke="#14145a" stroke-width="0.7" stroke-linejoin="round"/>
<line x1="477.4" y1="90.05" x2="662.7" y2="90.05" stroke="#5a5a66" stroke-width="0.8"/>
<path d="M477,103.7 L477,102.31 L479.77,102.31 L482.55,102.73 L485.32,102.73 L488.1,102.73 L490.87,102.31 L493.64,102.73 L496.42,101.76 L499.19,100.65 L501.97,100.93 L504.74,100.37 L507.51,100.93 L510.29,101.34 L513.06,101.34 L515.83,100.37 L518.61,101.34 L521.38,100.93 L524.16,100.37 L526.93,99.96 L529.7,100.37 L531.79,101.76 L533.87,100.37 L536.64,99.96 L539.41,99.96 L542.19,99.54 L544.96,98.57 L547.74,97.6 L549.82,97.18 L551.9,97.87 L554.67,99.26 L557.44,100.65 L560.22,102.04 L562.99,102.73 L565.77,102.73 L568.54,102.04 L572.01,102.04 L572.01,103.7 Z" fill="#0000f5"/>
<path d="M477,102.31 L479.77,102.31 L482.55,102.73 L485.32,102.73 L488.1,102.73 L490.87,102.31 L493.64,102.73 L496.42,101.76 L499.19,100.65 L501.97,100.93 L504.74,100.37 L507.51,100.93 L510.29,101.34 L513.06,101.34 L515.83,100.37 L518.61,101.34 L521.38,100.93 L524.16,100.37 L526.93,99.96 L529.7,100.37 L531.79,101.76 L533.87,100.37 L536.64,99.96 L539.41,99.96 L542.19,99.54 L544.96,98.57 L547.74,97.6 L549.82,97.18 L551.9,97.87 L554.67,99.26 L557.44,100.65 L560.22,102.04 L562.99,102.73 L565.77,102.73 L568.54,102.04 L572.01,102.04" fill="none" stroke="#14145a" stroke-width="0.7" stroke-linejoin="round"/>
<path d="M571,103.7 L571,102.04 L572.39,101.2 L573.77,102.59 L576.55,102.59 L579.32,103.01 L582.1,103.42 L584.87,103.7 L589.03,103.42 L591.8,103.01 L593.88,102.04 L596.66,101.62 L598.74,102.04 L601.51,101.62 L604.29,101.2 L607.06,101.62 L609.83,102.04 L612.61,101.62 L615.38,102.04 L618.16,101.2 L620.93,100.93 L623.7,101.2 L626.48,100.23 L627.87,99.82 L629.95,101.2 L632.03,100.93 L634.8,101.2 L637.57,100.93 L640.35,100.93 L643.12,101.62 L645.2,103.01 L647.28,101.2 L649.36,99.82 L651.44,100.65 L653.52,100.65 L655.6,99.54 L657.27,98.85 L659.07,101.2 L661.15,103.01 L662.7,103.01 L662.7,103.01 L662.7,103.7 Z" fill="#0000f5"/>
<path d="M571,102.04 L572.39,101.2 L573.77,102.59 L576.55,102.59 L579.32,103.01 L582.1,103.42 L584.87,103.7 L589.03,103.42 L591.8,103.01 L593.88,102.04 L596.66,101.62 L598.74,102.04 L601.51,101.62 L604.29,101.2 L607.06,101.62 L609.83,102.04 L612.61,101.62 L615.38,102.04 L618.16,101.2 L620.93,100.93 L623.7,101.2 L626.48,100.23 L627.87,99.82 L629.95,101.2 L632.03,100.93 L634.8,101.2 L637.57,100.93 L640.35,100.93 L643.12,101.62 L645.2,103.01 L647.28,101.2 L649.36,99.82 L651.44,100.65 L653.52,100.65 L655.6,99.54 L657.27,98.85 L659.07,101.2 L661.15,103.01 L662.7,103.01 L662.7,103.01" fill="none" stroke="#14145a" stroke-width="0.7" stroke-linejoin="round"/>
<line x1="477.4" y1="103.7" x2="662.7" y2="103.7" stroke="#5a5a66" stroke-width="0.8"/>
<path d="M477,117.35 L477,115.69 L478.39,114.85 L479.77,116.24 L482.55,116.24 L485.32,116.66 L488.1,117.07 L490.87,117.35 L495.03,117.07 L497.8,116.66 L499.88,115.69 L502.66,115.27 L504.74,115.69 L507.51,115.27 L510.29,114.85 L513.06,115.27 L515.83,115.69 L518.61,115.27 L521.38,115.69 L524.16,114.85 L526.93,114.58 L529.7,114.85 L532.48,113.88 L533.87,113.47 L535.95,114.85 L538.03,114.58 L540.8,114.85 L543.57,114.58 L546.35,114.58 L549.12,115.27 L551.2,116.66 L553.28,114.85 L555.36,113.47 L557.44,114.3 L559.52,114.3 L561.6,113.19 L563.27,112.5 L565.07,114.85 L567.15,116.66 L569.93,116.66 L572.01,116.66 L572.01,117.35 Z" fill="#0000f5"/>
<path d="M477,115.69 L478.39,114.85 L479.77,116.24 L482.55,116.24 L485.32,116.66 L488.1,117.07 L490.87,117.35 L495.03,117.07 L497.8,116.66 L499.88,115.69 L502.66,115.27 L504.74,115.69 L507.51,115.27 L510.29,114.85 L513.06,115.27 L515.83,115.69 L518.61,115.27 L521.38,115.69 L524.16,114.85 L526.93,114.58 L529.7,114.85 L532.48,113.88 L533.87,113.47 L535.95,114.85 L538.03,114.58 L540.8,114.85 L543.57,114.58 L546.35,114.58 L549.12,115.27 L551.2,116.66 L553.28,114.85 L555.36,113.47 L557.44,114.3 L559.52,114.3 L561.6,113.19 L563.27,112.5 L565.07,114.85 L567.15,116.66 L569.93,116.66 L572.01,116.66" fill="none" stroke="#14145a" stroke-width="0.7" stroke-linejoin="round"/>
<path d="M571,117.35 L571,116.8 L573.77,116.8 L576.55,116.1 L579.32,115.82 L582.1,116.8 L584.87,117.21 L589.03,117.21 L593.19,116.38 L595.97,116.1 L598.74,116.38 L601.51,116.1 L604.29,116.1 L607.06,115.82 L609.83,116.1 L612.61,115.82 L615.38,116.38 L618.16,114.71 L620.24,116.1 L622.32,116.38 L625.09,115.82 L627.87,114.02 L629.95,113.61 L632.03,114.44 L634.8,114.02 L637.57,114.02 L640.35,113.61 L643.12,114.44 L645.9,114.99 L648.67,114.71 L651.44,115.41 L654.22,114.99 L656.99,115.82 L659.77,116.38 L662.54,116.8 L662.7,116.8 L662.7,117.35 Z" fill="#0000f5"/>
<path d="M571,116.8 L573.77,116.8 L576.55,116.1 L579.32,115.82 L582.1,116.8 L584.87,117.21 L589.03,117.21 L593.19,116.38 L595.97,116.1 L598.74,116.38 L601.51,116.1 L604.29,116.1 L607.06,115.82 L609.83,116.1 L612.61,115.82 L615.38,116.38 L618.16,114.71 L620.24,116.1 L622.32,116.38 L625.09,115.82 L627.87,114.02 L629.95,113.61 L632.03,114.44 L634.8,114.02 L637.57,114.02 L640.35,113.61 L643.12,114.44 L645.9,114.99 L648.67,114.71 L651.44,115.41 L654.22,114.99 L656.99,115.82 L659.77,116.38 L662.54,116.8 L662.7,116.8" fill="none" stroke="#14145a" stroke-width="0.7" stroke-linejoin="round"/>
<line x1="477.4" y1="117.35" x2="662.7" y2="117.35" stroke="#5a5a66" stroke-width="0.8"/>
<path d="M477,131 L477,130.45 L479.77,130.45 L482.55,129.75 L485.32,129.47 L488.1,130.45 L490.87,130.86 L495.03,130.86 L499.19,130.03 L501.97,129.75 L504.74,130.03 L507.51,129.75 L510.29,129.75 L513.06,129.47 L515.83,129.75 L518.61,129.47 L521.38,130.03 L524.16,128.36 L526.24,129.75 L528.32,130.03 L531.09,129.47 L533.87,127.67 L535.95,127.26 L538.03,128.09 L540.8,127.67 L543.57,127.67 L546.35,127.26 L549.12,128.09 L551.9,128.64 L554.67,128.36 L557.44,129.06 L560.22,128.64 L562.99,129.47 L565.77,130.03 L568.54,130.45 L572.01,130.45 L572.01,131 Z" fill="#0000f5"/>
<path d="M477,130.45 L479.77,130.45 L482.55,129.75 L485.32,129.47 L488.1,130.45 L490.87,130.86 L495.03,130.86 L499.19,130.03 L501.97,129.75 L504.74,130.03 L507.51,129.75 L510.29,129.75 L513.06,129.47 L515.83,129.75 L518.61,129.47 L521.38,130.03 L524.16,128.36 L526.24,129.75 L528.32,130.03 L531.09,129.47 L533.87,127.67 L535.95,127.26 L538.03,128.09 L540.8,127.67 L543.57,127.67 L546.35,127.26 L549.12,128.09 L551.9,128.64 L554.67,128.36 L557.44,129.06 L560.22,128.64 L562.99,129.47 L565.77,130.03 L568.54,130.45 L572.01,130.45" fill="none" stroke="#14145a" stroke-width="0.7" stroke-linejoin="round"/>
<path d="M571,131 L571,130.58 L575.16,130.17 L579.32,130.72 L584.87,130.17 L588.34,129.06 L590.42,130.17 L593.19,129.89 L595.97,129.61 L598.74,129.89 L601.51,129.61 L604.29,129.89 L607.06,129.47 L609.83,129.89 L612.61,130.17 L616.77,129.89 L620.93,129.61 L625.09,129.61 L629.25,129.47 L632.03,129.06 L634.11,128.09 L636.19,128.78 L638.96,129.06 L641.74,129.06 L644.51,128.78 L647.28,129.47 L650.06,129.89 L652.83,129.89 L655.6,130.86 L659.77,130.45 L662.54,130.17 L662.7,130.45 L662.7,131 Z" fill="#0000f5"/>
<path d="M571,130.58 L575.16,130.17 L579.32,130.72 L584.87,130.17 L588.34,129.06 L590.42,130.17 L593.19,129.89 L595.97,129.61 L598.74,129.89 L601.51,129.61 L604.29,129.89 L607.06,129.47 L609.83,129.89 L612.61,130.17 L616.77,129.89 L620.93,129.61 L625.09,129.61 L629.25,129.47 L632.03,129.06 L634.11,128.09 L636.19,128.78 L638.96,129.06 L641.74,129.06 L644.51,128.78 L647.28,129.47 L650.06,129.89 L652.83,129.89 L655.6,130.86 L659.77,130.45 L662.54,130.17 L662.7,130.45" fill="none" stroke="#14145a" stroke-width="0.7" stroke-linejoin="round"/>
<line x1="477.4" y1="131" x2="662.7" y2="131" stroke="#5a5a66" stroke-width="0.8"/>
<path d="M477,144.65 L477,144.23 L481.16,143.82 L485.32,144.37 L490.87,143.82 L494.34,142.71 L496.42,143.82 L499.19,143.54 L501.97,143.26 L504.74,143.54 L507.51,143.26 L510.29,143.54 L513.06,143.12 L515.83,143.54 L518.61,143.82 L522.77,143.54 L526.93,143.26 L531.09,143.26 L535.25,143.12 L538.03,142.71 L540.11,141.74 L542.19,142.43 L544.96,142.71 L547.74,142.71 L550.51,142.43 L553.28,143.12 L556.06,143.54 L558.83,143.54 L561.6,144.51 L565.77,144.1 L568.54,143.82 L572.01,144.1 L572.01,144.65 Z" fill="#0000f5"/>
<path d="M477,144.23 L481.16,143.82 L485.32,144.37 L490.87,143.82 L494.34,142.71 L496.42,143.82 L499.19,143.54 L501.97,143.26 L504.74,143.54 L507.51,143.26 L510.29,143.54 L513.06,143.12 L515.83,143.54 L518.61,143.82 L522.77,143.54 L526.93,143.26 L531.09,143.26 L535.25,143.12 L538.03,142.71 L540.11,141.74 L542.19,142.43 L544.96,142.71 L547.74,142.71 L550.51,142.43 L553.28,143.12 L556.06,143.54 L558.83,143.54 L561.6,144.51 L565.77,144.1 L568.54,143.82 L572.01,144.1" fill="none" stroke="#14145a" stroke-width="0.7" stroke-linejoin="round"/>
<path d="M571,144.65 L571,144.37 L575.16,144.1 L579.32,143.68 L582.1,143.96 L584.87,143.68 L589.03,144.1 L593.19,143.68 L597.35,144.1 L600.82,143.68 L604.29,142.99 L607.06,143.68 L611.22,143.68 L615.38,143.26 L619.54,143.68 L622.32,144.65 L625.09,143.26 L627.87,142.99 L630.64,143.26 L633.41,142.29 L636.19,141.88 L638.96,141.88 L641.04,141.32 L643.12,142.29 L645.9,142.99 L648.67,143.68 L651.44,144.37 L655.6,144.37 L659.77,143.26 L661.85,144.1 L662.7,144.65 L662.7,144.65 Z" fill="#0000f5"/>
<path d="M571,144.37 L575.16,144.1 L579.32,143.68 L582.1,143.96 L584.87,143.68 L589.03,144.1 L593.19,143.68 L597.35,144.1 L600.82,143.68 L604.29,142.99 L607.06,143.68 L611.22,143.68 L615.38,143.26 L619.54,143.68 L622.32,144.65 L625.09,143.26 L627.87,142.99 L630.64,143.26 L633.41,142.29 L636.19,141.88 L638.96,141.88 L641.04,141.32 L643.12,142.29 L645.9,142.99 L648.67,143.68 L651.44,144.37 L655.6,144.37 L659.77,143.26 L661.85,144.1 L662.7,144.65" fill="none" stroke="#14145a" stroke-width="0.7" stroke-linejoin="round"/>
<line x1="477.4" y1="144.65" x2="662.7" y2="144.65" stroke="#5a5a66" stroke-width="0.8"/>
<path d="M477,158.3 L477,158.02 L481.16,157.75 L485.32,157.33 L488.1,157.61 L490.87,157.33 L495.03,157.75 L499.19,157.33 L503.35,157.75 L506.82,157.33 L510.29,156.64 L513.06,157.33 L517.22,157.33 L521.38,156.91 L525.54,157.33 L528.32,158.3 L531.09,156.91 L533.87,156.64 L536.64,156.91 L539.41,155.94 L542.19,155.53 L544.96,155.53 L547.04,154.97 L549.12,155.94 L551.9,156.64 L554.67,157.33 L557.44,158.02 L561.6,158.02 L565.77,156.91 L567.85,157.75 L569.93,158.3 L569.93,158.3 Z" fill="#0000f5"/>
<path d="M477,158.02 L481.16,157.75 L485.32,157.33 L488.1,157.61 L490.87,157.33 L495.03,157.75 L499.19,157.33 L503.35,157.75 L506.82,157.33 L510.29,156.64 L513.06,157.33 L517.22,157.33 L521.38,156.91 L525.54,157.33 L528.32,158.3 L531.09,156.91 L533.87,156.64 L536.64,156.91 L539.41,155.94 L542.19,155.53 L544.96,155.53 L547.04,154.97 L549.12,155.94 L551.9,156.64 L554.67,157.33 L557.44,158.02 L561.6,158.02 L565.77,156.91 L567.85,157.75 L569.93,158.3" fill="none" stroke="#14145a" stroke-width="0.7" stroke-linejoin="round"/>
<line x1="477.4" y1="158.3" x2="662.7" y2="158.3" stroke="#5a5a66" stroke-width="0.8"/>
<line x1="477.4" y1="158.9" x2="662.7" y2="158.9" stroke="#707070" stroke-width="1.3"/>
<line x1="662.7" y1="159.1" x2="664.7" y2="159.1" stroke="#b0b0b0" stroke-width="1"/>
<line x1="477.4" y1="23" x2="477.4" y2="159.5" stroke="#666" stroke-width="1"/>
<text x="472.9" y="38.05" font-size="6.3" text-anchor="end" fill="#3a3a3a">1</text>
<text x="472.9" y="51.7" font-size="6.3" text-anchor="end" fill="#3a3a3a">2</text>
<text x="472.9" y="65.35" font-size="6.3" text-anchor="end" fill="#3a3a3a">3</text>
<text x="472.9" y="79" font-size="6.3" text-anchor="end" fill="#3a3a3a">4</text>
<text x="472.9" y="92.65" font-size="6.3" text-anchor="end" fill="#3a3a3a">5</text>
<text x="472.9" y="106.3" font-size="6.3" text-anchor="end" fill="#3a3a3a">6</text>
<text x="472.9" y="119.95" font-size="6.3" text-anchor="end" fill="#3a3a3a">7</text>
<text x="472.9" y="133.6" font-size="6.3" text-anchor="end" fill="#3a3a3a">8</text>
<text x="472.9" y="147.25" font-size="6.3" text-anchor="end" fill="#3a3a3a">9</text>
<text x="472.9" y="160.9" font-size="6.3" text-anchor="end" fill="#3a3a3a">10</text>
<text transform="translate(465.4,91.3) rotate(-90)" font-size="6.3" text-anchor="middle" fill="#3a3a3a" textLength="11" lengthAdjust="spacingAndGlyphs">day</text>
<text x="502.6" y="168.1" font-size="6.3" text-anchor="middle" fill="#3a3a3a">0</text>
<text x="549.58" y="168.1" font-size="6.3" text-anchor="middle" fill="#3a3a3a" textLength="7.4" lengthAdjust="spacingAndGlyphs">12</text>
<text x="596.56" y="168.1" font-size="6.3" text-anchor="middle" fill="#3a3a3a" textLength="7.4" lengthAdjust="spacingAndGlyphs">24</text>
<text x="643.54" y="168.1" font-size="6.3" text-anchor="middle" fill="#3a3a3a" textLength="7.4" lengthAdjust="spacingAndGlyphs">36</text>
<text x="574.3" y="176.5" font-size="6.3" text-anchor="middle" fill="#3a3a3a" textLength="27.4" lengthAdjust="spacingAndGlyphs">time (ZT)</text>
<rect x="480.3" y="298.02" width="3.84" height="32.28" fill="#828282" stroke="#333" stroke-width="0.7"/>
<rect x="484.14" y="313.22" width="3.84" height="17.08" fill="#828282" stroke="#333" stroke-width="0.7"/>
<rect x="487.98" y="314.03" width="3.84" height="16.27" fill="#828282" stroke="#333" stroke-width="0.7"/>
<rect x="491.82" y="308.11" width="3.84" height="22.19" fill="#828282" stroke="#333" stroke-width="0.7"/>
<rect x="495.67" y="305.96" width="3.84" height="24.34" fill="#828282" stroke="#333" stroke-width="0.7"/>
<rect x="499.51" y="310.26" width="3.84" height="20.04" fill="#828282" stroke="#333" stroke-width="0.7"/>
<rect x="503.35" y="306.36" width="3.84" height="23.94" fill="#828282" stroke="#333" stroke-width="0.7"/>
<rect x="507.19" y="311.34" width="3.84" height="18.96" fill="#828282" stroke="#333" stroke-width="0.7"/>
<rect x="511.03" y="278.25" width="3.84" height="52.05" fill="#828282" stroke="#333" stroke-width="0.7"/>
<rect x="514.88" y="276.1" width="3.84" height="54.2" fill="#828282" stroke="#333" stroke-width="0.7"/>
<rect x="518.72" y="272.06" width="3.84" height="58.24" fill="#828282" stroke="#333" stroke-width="0.7"/>
<rect x="522.56" y="278.25" width="3.84" height="52.05" fill="#828282" stroke="#333" stroke-width="0.7"/>
<rect x="526.4" y="228.35" width="3.84" height="101.95" fill="#fff" stroke="#333" stroke-width="0.7"/>
<rect x="530.24" y="268.7" width="3.84" height="61.6" fill="#fff" stroke="#333" stroke-width="0.7"/>
<rect x="534.08" y="294.12" width="3.84" height="36.18" fill="#fff" stroke="#333" stroke-width="0.7"/>
<rect x="537.93" y="306.22" width="3.84" height="24.08" fill="#fff" stroke="#333" stroke-width="0.7"/>
<rect x="541.77" y="314.43" width="3.84" height="15.87" fill="#fff" stroke="#333" stroke-width="0.7"/>
<rect x="545.61" y="320.21" width="3.84" height="10.09" fill="#fff" stroke="#333" stroke-width="0.7"/>
<rect x="549.45" y="322.23" width="3.84" height="8.07" fill="#fff" stroke="#333" stroke-width="0.7"/>
<rect x="553.29" y="324.92" width="3.84" height="5.38" fill="#fff" stroke="#333" stroke-width="0.7"/>
<rect x="557.13" y="320.88" width="3.84" height="9.41" fill="#fff" stroke="#333" stroke-width="0.7"/>
<rect x="560.98" y="320.88" width="3.84" height="9.41" fill="#fff" stroke="#333" stroke-width="0.7"/>
<rect x="564.82" y="324.52" width="3.84" height="5.78" fill="#fff" stroke="#333" stroke-width="0.7"/>
<rect x="568.66" y="325.86" width="3.84" height="4.44" fill="#fff" stroke="#333" stroke-width="0.7"/>
<rect x="572.5" y="326.94" width="3.84" height="3.36" fill="#fff" stroke="#333" stroke-width="0.7"/>
<rect x="576.34" y="326.53" width="3.84" height="3.77" fill="#fff" stroke="#333" stroke-width="0.7"/>
<rect x="580.18" y="321.42" width="3.84" height="8.88" fill="#fff" stroke="#333" stroke-width="0.7"/>
<rect x="584.02" y="322.5" width="3.84" height="7.8" fill="#fff" stroke="#333" stroke-width="0.7"/>
<rect x="587.87" y="322.5" width="3.84" height="7.8" fill="#fff" stroke="#333" stroke-width="0.7"/>
<rect x="591.71" y="324.52" width="3.84" height="5.78" fill="#fff" stroke="#333" stroke-width="0.7"/>
<rect x="595.55" y="313.76" width="3.84" height="16.54" fill="#fff" stroke="#333" stroke-width="0.7"/>
<rect x="599.39" y="302.32" width="3.84" height="27.98" fill="#fff" stroke="#333" stroke-width="0.7"/>
<rect x="603.23" y="286.59" width="3.84" height="43.71" fill="#fff" stroke="#333" stroke-width="0.7"/>
<rect x="607.08" y="268.97" width="3.84" height="61.33" fill="#fff" stroke="#333" stroke-width="0.7"/>
<rect x="610.92" y="257.4" width="3.84" height="72.9" fill="#fff" stroke="#333" stroke-width="0.7"/>
<rect x="614.76" y="242.34" width="3.84" height="87.96" fill="#fff" stroke="#333" stroke-width="0.7"/>
<rect x="618.6" y="212.21" width="3.84" height="118.09" fill="#828282" stroke="#333" stroke-width="0.7"/>
<rect x="622.44" y="254.44" width="3.84" height="75.86" fill="#828282" stroke="#333" stroke-width="0.7"/>
<rect x="626.28" y="282.15" width="3.84" height="48.15" fill="#828282" stroke="#333" stroke-width="0.7"/>
<rect x="630.12" y="312.81" width="3.84" height="17.48" fill="#828282" stroke="#333" stroke-width="0.7"/>
<rect x="633.97" y="320.88" width="3.84" height="9.41" fill="#828282" stroke="#333" stroke-width="0.7"/>
<rect x="637.81" y="326.53" width="3.84" height="3.77" fill="#828282" stroke="#333" stroke-width="0.7"/>
<rect x="641.65" y="324.52" width="3.84" height="5.78" fill="#828282" stroke="#333" stroke-width="0.7"/>
<rect x="645.49" y="316.45" width="3.84" height="13.85" fill="#828282" stroke="#333" stroke-width="0.7"/>
<rect x="649.33" y="310.39" width="3.84" height="19.91" fill="#828282" stroke="#333" stroke-width="0.7"/>
<rect x="653.18" y="305.82" width="3.84" height="24.48" fill="#828282" stroke="#333" stroke-width="0.7"/>
<rect x="657.02" y="302.32" width="3.84" height="27.98" fill="#828282" stroke="#333" stroke-width="0.7"/>
<rect x="660.86" y="310.39" width="3.84" height="19.91" fill="#828282" stroke="#333" stroke-width="0.7"/>
<circle cx="482.22" cy="296.41" r="0.75" fill="#b82048"/>
<circle cx="486.06" cy="309.59" r="0.75" fill="#b82048"/>
<circle cx="489.9" cy="311.47" r="0.75" fill="#b82048"/>
<circle cx="493.75" cy="305.01" r="0.75" fill="#b82048"/>
<circle cx="497.59" cy="298.02" r="0.75" fill="#b82048"/>
<circle cx="501.43" cy="304.88" r="0.75" fill="#b82048"/>
<circle cx="505.27" cy="300.58" r="0.75" fill="#b82048"/>
<circle cx="509.11" cy="307.57" r="0.75" fill="#b82048"/>
<circle cx="512.95" cy="272.33" r="0.75" fill="#b82048"/>
<circle cx="516.8" cy="273.27" r="0.75" fill="#b82048"/>
<circle cx="520.64" cy="268.03" r="0.75" fill="#b82048"/>
<circle cx="524.48" cy="277.31" r="0.75" fill="#b82048"/>
<circle cx="528.32" cy="218.26" r="0.75" fill="#b82048"/>
<circle cx="532.16" cy="264.93" r="0.75" fill="#b82048"/>
<circle cx="536" cy="290.62" r="0.75" fill="#b82048"/>
<circle cx="539.85" cy="302.73" r="0.75" fill="#b82048"/>
<circle cx="543.69" cy="312.41" r="0.75" fill="#b82048"/>
<circle cx="547.53" cy="318.46" r="0.75" fill="#b82048"/>
<circle cx="551.37" cy="321.42" r="0.75" fill="#b82048"/>
<circle cx="555.21" cy="323.44" r="0.75" fill="#b82048"/>
<circle cx="559.05" cy="318.06" r="0.75" fill="#b82048"/>
<circle cx="562.9" cy="318.19" r="0.75" fill="#b82048"/>
<circle cx="566.74" cy="323.31" r="0.75" fill="#b82048"/>
<circle cx="570.58" cy="324.52" r="0.75" fill="#b82048"/>
<circle cx="574.42" cy="326.26" r="0.75" fill="#b82048"/>
<circle cx="578.26" cy="325.46" r="0.75" fill="#b82048"/>
<circle cx="582.1" cy="317.25" r="0.75" fill="#b82048"/>
<circle cx="585.95" cy="321.29" r="0.75" fill="#b82048"/>
<circle cx="589.79" cy="318.87" r="0.75" fill="#b82048"/>
<circle cx="593.63" cy="322.5" r="0.75" fill="#b82048"/>
<circle cx="597.47" cy="311.74" r="0.75" fill="#b82048"/>
<circle cx="601.31" cy="298.69" r="0.75" fill="#b82048"/>
<circle cx="605.15" cy="281.61" r="0.75" fill="#b82048"/>
<circle cx="609" cy="265.47" r="0.75" fill="#b82048"/>
<circle cx="612.84" cy="253.5" r="0.75" fill="#b82048"/>
<circle cx="616.68" cy="235.88" r="0.75" fill="#b82048"/>
<circle cx="620.52" cy="208.58" r="0.75" fill="#b82048"/>
<circle cx="624.36" cy="252.83" r="0.75" fill="#b82048"/>
<circle cx="628.2" cy="278.25" r="0.75" fill="#b82048"/>
<circle cx="632.05" cy="311.34" r="0.75" fill="#b82048"/>
<circle cx="635.89" cy="318.46" r="0.75" fill="#b82048"/>
<circle cx="639.73" cy="324.52" r="0.75" fill="#b82048"/>
<circle cx="643.57" cy="323.44" r="0.75" fill="#b82048"/>
<circle cx="647.41" cy="314.83" r="0.75" fill="#b82048"/>
<circle cx="651.25" cy="306.36" r="0.75" fill="#b82048"/>
<circle cx="655.1" cy="302.32" r="0.75" fill="#b82048"/>
<circle cx="658.94" cy="295.33" r="0.75" fill="#b82048"/>
<circle cx="662.78" cy="307.3" r="0.75" fill="#b82048"/>
<line x1="480.3" y1="195.8" x2="480.3" y2="330.3" stroke="#777" stroke-width="1"/>
<line x1="480.3" y1="330.6" x2="664.7" y2="330.6" stroke="#888" stroke-width="1"/>
<line x1="480.3" y1="330.3" x2="482.3" y2="330.3" stroke="#777" stroke-width="0.7"/>
<text x="477.9" y="332.5" font-size="6.3" text-anchor="end" fill="#3a3a3a">0</text>
<line x1="480.3" y1="316.85" x2="482.3" y2="316.85" stroke="#777" stroke-width="0.7"/>
<text x="477.9" y="319.05" font-size="6.3" text-anchor="end" fill="#3a3a3a" textLength="6" lengthAdjust="spacingAndGlyphs">10</text>
<line x1="480.3" y1="303.4" x2="482.3" y2="303.4" stroke="#777" stroke-width="0.7"/>
<text x="477.9" y="305.6" font-size="6.3" text-anchor="end" fill="#3a3a3a" textLength="6" lengthAdjust="spacingAndGlyphs">20</text>
<line x1="480.3" y1="289.95" x2="482.3" y2="289.95" stroke="#777" stroke-width="0.7"/>
<text x="477.9" y="292.15" font-size="6.3" text-anchor="end" fill="#3a3a3a" textLength="6" lengthAdjust="spacingAndGlyphs">30</text>
<line x1="480.3" y1="276.5" x2="482.3" y2="276.5" stroke="#777" stroke-width="0.7"/>
<text x="477.9" y="278.7" font-size="6.3" text-anchor="end" fill="#3a3a3a" textLength="6" lengthAdjust="spacingAndGlyphs">40</text>
<line x1="480.3" y1="263.05" x2="482.3" y2="263.05" stroke="#777" stroke-width="0.7"/>
<text x="477.9" y="265.25" font-size="6.3" text-anchor="end" fill="#3a3a3a" textLength="6" lengthAdjust="spacingAndGlyphs">50</text>
<line x1="480.3" y1="249.6" x2="482.3" y2="249.6" stroke="#777" stroke-width="0.7"/>
<text x="477.9" y="251.8" font-size="6.3" text-anchor="end" fill="#3a3a3a" textLength="6" lengthAdjust="spacingAndGlyphs">60</text>
<line x1="480.3" y1="236.15" x2="482.3" y2="236.15" stroke="#777" stroke-width="0.7"/>
<text x="477.9" y="238.35" font-size="6.3" text-anchor="end" fill="#3a3a3a" textLength="6" lengthAdjust="spacingAndGlyphs">70</text>
<line x1="480.3" y1="222.7" x2="482.3" y2="222.7" stroke="#777" stroke-width="0.7"/>
<text x="477.9" y="224.9" font-size="6.3" text-anchor="end" fill="#3a3a3a" textLength="6" lengthAdjust="spacingAndGlyphs">80</text>
<line x1="480.3" y1="209.25" x2="482.3" y2="209.25" stroke="#777" stroke-width="0.7"/>
<text x="477.9" y="211.45" font-size="6.3" text-anchor="end" fill="#3a3a3a" textLength="6" lengthAdjust="spacingAndGlyphs">90</text>
<line x1="480.3" y1="195.8" x2="482.3" y2="195.8" stroke="#777" stroke-width="0.7"/>
<text x="477.9" y="198" font-size="6.3" text-anchor="end" fill="#3a3a3a" textLength="9.2" lengthAdjust="spacingAndGlyphs">100</text>
<text transform="translate(465.4,263.05) rotate(-90)" font-size="6.3" text-anchor="middle" fill="#3a3a3a">mean activity</text>
<text x="526.4" y="338.9" font-size="6.3" text-anchor="middle" fill="#3a3a3a">ZT0</text>
<text x="618.6" y="338.9" font-size="6.3" text-anchor="middle" fill="#3a3a3a">ZT12</text>
<text x="17.4" y="388.85" font-size="14" font-style="italic" fill="#111" textLength="74.9" lengthAdjust="spacingAndGlyphs">CrebA-KO/+</text>
<text x="103.1" y="389" font-size="11.2" fill="#1a1a1a" textLength="28.8" lengthAdjust="spacingAndGlyphs">n=16</text>
<rect x="17.3" y="402.2" width="187.3" height="136.5" fill="#d9d9d9"/>
<rect x="202.6" y="402.2" width="2" height="136.5" fill="#cecece"/>
<rect x="42" y="402.2" width="46.98" height="12.45" fill="#fff"/>
<rect x="135.96" y="402.2" width="46.98" height="12.45" fill="#fff"/>
<rect x="42" y="415.85" width="46.98" height="12.45" fill="#fff"/>
<rect x="135.96" y="415.85" width="46.98" height="12.45" fill="#fff"/>
<rect x="42" y="429.5" width="46.98" height="12.45" fill="#fff"/>
<line x1="38.5" y1="402.2" x2="38.5" y2="538.7" stroke="#000" stroke-opacity="0.07" stroke-width="1"/>
<line x1="62.5" y1="402.2" x2="62.5" y2="538.7" stroke="#000" stroke-opacity="0.07" stroke-width="1"/>
<line x1="85.5" y1="402.2" x2="85.5" y2="538.7" stroke="#000" stroke-opacity="0.07" stroke-width="1"/>
<line x1="108.5" y1="402.2" x2="108.5" y2="538.7" stroke="#000" stroke-opacity="0.07" stroke-width="1"/>
<line x1="132.5" y1="402.2" x2="132.5" y2="538.7" stroke="#000" stroke-opacity="0.07" stroke-width="1"/>
<line x1="155.5" y1="402.2" x2="155.5" y2="538.7" stroke="#000" stroke-opacity="0.07" stroke-width="1"/>
<line x1="179.5" y1="402.2" x2="179.5" y2="538.7" stroke="#000" stroke-opacity="0.07" stroke-width="1"/>
<path d="M17,414.65 L17,414.51 L22.55,414.37 L27.4,413.82 L29.48,414.23 L33.64,414.1 L37.8,413.82 L39.88,413.54 L40.86,411.04 L42.24,405.77 L44.05,407.58 L46.13,409.38 L48.21,411.32 L50.29,412.43 L53.06,413.12 L55.83,413.54 L60,413.82 L64.16,414.1 L68.32,413.82 L71.09,414.1 L75.25,413.82 L78.03,413.12 L80.8,412.43 L83.57,411.74 L85.65,410.77 L87.74,408.96 L89.12,404.8 L90.51,408.27 L91.9,413.12 L93.98,414.23 L100.22,414.37 L105.77,414.37 L112.01,414.51 L112.01,414.65 Z" fill="#0000f5"/>
<path d="M17,414.51 L22.55,414.37 L27.4,413.82 L29.48,414.23 L33.64,414.1 L37.8,413.82 L39.88,413.54 L40.86,411.04 L42.24,405.77 L44.05,407.58 L46.13,409.38 L48.21,411.32 L50.29,412.43 L53.06,413.12 L55.83,413.54 L60,413.82 L64.16,414.1 L68.32,413.82 L71.09,414.1 L75.25,413.82 L78.03,413.12 L80.8,412.43 L83.57,411.74 L85.65,410.77 L87.74,408.96 L89.12,404.8 L90.51,408.27 L91.9,413.12 L93.98,414.23 L100.22,414.37 L105.77,414.37 L112.01,414.51" fill="none" stroke="#14145a" stroke-width="0.7" stroke-linejoin="round"/>
<path d="M111,414.65 L111,414.37 L115.16,413.82 L119.32,414.1 L123.48,413.68 L127.64,414.1 L131.8,414.1 L133.88,413.68 L134.86,410.21 L136.24,404.66 L138.05,406.74 L140.13,409.52 L142.21,411.32 L144.29,412.71 L146.37,412.29 L148.45,413.26 L152.61,413.82 L156.77,414.1 L160.93,413.82 L165.09,414.1 L169.25,413.82 L173.41,413.26 L176.19,412.99 L178.27,411.32 L180.35,408.13 L182.84,404.39 L184.51,408.13 L186.59,412.29 L188.67,413.68 L192.83,413.82 L196.99,413.68 L201.15,413.4 L202.6,413.4 L202.6,414.65 Z" fill="#0000f5"/>
<path d="M111,414.37 L115.16,413.82 L119.32,414.1 L123.48,413.68 L127.64,414.1 L131.8,414.1 L133.88,413.68 L134.86,410.21 L136.24,404.66 L138.05,406.74 L140.13,409.52 L142.21,411.32 L144.29,412.71 L146.37,412.29 L148.45,413.26 L152.61,413.82 L156.77,414.1 L160.93,413.82 L165.09,414.1 L169.25,413.82 L173.41,413.26 L176.19,412.99 L178.27,411.32 L180.35,408.13 L182.84,404.39 L184.51,408.13 L186.59,412.29 L188.67,413.68 L192.83,413.82 L196.99,413.68 L201.15,413.4 L202.6,413.4" fill="none" stroke="#14145a" stroke-width="0.7" stroke-linejoin="round"/>
<line x1="17.3" y1="414.65" x2="202.6" y2="414.65" stroke="#5a5a66" stroke-width="0.8"/>
<path d="M17,428.3 L17,428.02 L21.16,427.47 L25.32,427.75 L29.48,427.33 L33.64,427.75 L37.8,427.75 L39.88,427.33 L40.86,423.86 L42.24,418.31 L44.05,420.39 L46.13,423.17 L48.21,424.97 L50.29,426.36 L52.37,425.94 L54.45,426.91 L58.61,427.47 L62.77,427.75 L66.93,427.47 L71.09,427.75 L75.25,427.47 L79.41,426.91 L82.19,426.64 L84.27,424.97 L86.35,421.78 L88.84,418.04 L90.51,421.78 L92.59,425.94 L94.67,427.33 L98.83,427.47 L102.99,427.33 L107.15,427.05 L112.01,427.05 L112.01,428.3 Z" fill="#0000f5"/>
<path d="M17,428.02 L21.16,427.47 L25.32,427.75 L29.48,427.33 L33.64,427.75 L37.8,427.75 L39.88,427.33 L40.86,423.86 L42.24,418.31 L44.05,420.39 L46.13,423.17 L48.21,424.97 L50.29,426.36 L52.37,425.94 L54.45,426.91 L58.61,427.47 L62.77,427.75 L66.93,427.47 L71.09,427.75 L75.25,427.47 L79.41,426.91 L82.19,426.64 L84.27,424.97 L86.35,421.78 L88.84,418.04 L90.51,421.78 L92.59,425.94 L94.67,427.33 L98.83,427.47 L102.99,427.33 L107.15,427.05 L112.01,427.05" fill="none" stroke="#14145a" stroke-width="0.7" stroke-linejoin="round"/>
<path d="M111,428.3 L111,427.88 L112.39,427.05 L114.47,428.16 L119.32,428.16 L124.87,428.16 L131.8,427.88 L133.88,427.47 L134.86,423.31 L136.24,416.79 L138.05,420.53 L140.13,424.69 L142.21,427.05 L144.29,427.88 L149.83,428.16 L155.38,428.16 L160.93,428.16 L166.48,427.88 L170.64,428.16 L174.8,426.77 L176.88,425.39 L178.96,423.31 L181.04,421.23 L183.12,419.15 L185.2,424 L187.01,427.88 L190.06,428.16 L194.22,427.88 L199.77,428.16 L202.6,428.16 L202.6,428.3 Z" fill="#0000f5"/>
<path d="M111,427.88 L112.39,427.05 L114.47,428.16 L119.32,428.16 L124.87,428.16 L131.8,427.88 L133.88,427.47 L134.86,423.31 L136.24,416.79 L138.05,420.53 L140.13,424.69 L142.21,427.05 L144.29,427.88 L149.83,428.16 L155.38,428.16 L160.93,428.16 L166.48,427.88 L170.64,428.16 L174.8,426.77 L176.88,425.39 L178.96,423.31 L181.04,421.23 L183.12,419.15 L185.2,424 L187.01,427.88 L190.06,428.16 L194.22,427.88 L199.77,428.16 L202.6,428.16" fill="none" stroke="#14145a" stroke-width="0.7" stroke-linejoin="round"/>
<line x1="17.3" y1="428.3" x2="202.6" y2="428.3" stroke="#5a5a66" stroke-width="0.8"/>
<path d="M17,441.95 L17,441.53 L18.39,440.7 L20.47,441.81 L25.32,441.81 L30.87,441.81 L37.8,441.53 L39.88,441.12 L40.86,436.96 L42.24,430.44 L44.05,434.18 L46.13,438.34 L48.21,440.7 L50.29,441.53 L55.83,441.81 L61.38,441.81 L66.93,441.81 L72.48,441.53 L76.64,441.81 L80.8,440.42 L82.88,439.04 L84.96,436.96 L87.04,434.88 L89.12,432.8 L91.2,437.65 L93.01,441.53 L96.06,441.81 L100.22,441.53 L105.77,441.81 L112.01,441.81 L112.01,441.95 Z" fill="#0000f5"/>
<path d="M17,441.53 L18.39,440.7 L20.47,441.81 L25.32,441.81 L30.87,441.81 L37.8,441.53 L39.88,441.12 L40.86,436.96 L42.24,430.44 L44.05,434.18 L46.13,438.34 L48.21,440.7 L50.29,441.53 L55.83,441.81 L61.38,441.81 L66.93,441.81 L72.48,441.53 L76.64,441.81 L80.8,440.42 L82.88,439.04 L84.96,436.96 L87.04,434.88 L89.12,432.8 L91.2,437.65 L93.01,441.53 L96.06,441.81 L100.22,441.53 L105.77,441.81 L112.01,441.81" fill="none" stroke="#14145a" stroke-width="0.7" stroke-linejoin="round"/>
<path d="M111,441.95 L111,441.81 L115.16,441.53 L117.24,440.56 L119.32,441.53 L123.48,441.67 L126.26,441.26 L130.42,441.53 L133.19,440.98 L135.27,438.76 L137.35,437.79 L140.13,437.93 L142.9,438.21 L145.67,438.21 L147.75,439.18 L149.83,438.76 L152.61,438.48 L154.69,440.56 L156.77,440.15 L159.54,438.76 L162.32,437.79 L165.09,438.21 L167.17,438.48 L169.25,435.43 L172.03,435.02 L174.8,435.43 L177.57,435.71 L180.35,435.02 L183.12,435.43 L184.51,437.1 L186.59,441.26 L188.67,441.67 L194.22,441.53 L199.77,441.26 L202.6,441.53 L202.6,441.95 Z" fill="#0000f5"/>
<path d="M111,441.81 L115.16,441.53 L117.24,440.56 L119.32,441.53 L123.48,441.67 L126.26,441.26 L130.42,441.53 L133.19,440.98 L135.27,438.76 L137.35,437.79 L140.13,437.93 L142.9,438.21 L145.67,438.21 L147.75,439.18 L149.83,438.76 L152.61,438.48 L154.69,440.56 L156.77,440.15 L159.54,438.76 L162.32,437.79 L165.09,438.21 L167.17,438.48 L169.25,435.43 L172.03,435.02 L174.8,435.43 L177.57,435.71 L180.35,435.02 L183.12,435.43 L184.51,437.1 L186.59,441.26 L188.67,441.67 L194.22,441.53 L199.77,441.26 L202.6,441.53" fill="none" stroke="#14145a" stroke-width="0.7" stroke-linejoin="round"/>
<line x1="17.3" y1="441.95" x2="202.6" y2="441.95" stroke="#5a5a66" stroke-width="0.8"/>
<path d="M17,455.6 L17,455.46 L21.16,455.18 L23.24,454.21 L25.32,455.18 L29.48,455.32 L32.26,454.91 L36.42,455.18 L39.19,454.63 L41.27,452.41 L43.35,451.44 L46.13,451.58 L48.9,451.86 L51.67,451.86 L53.75,452.83 L55.83,452.41 L58.61,452.13 L60.69,454.21 L62.77,453.8 L65.54,452.41 L68.32,451.44 L71.09,451.86 L73.17,452.13 L75.25,449.08 L78.03,448.67 L80.8,449.08 L83.57,449.36 L86.35,448.67 L89.12,449.08 L90.51,450.75 L92.59,454.91 L94.67,455.32 L100.22,455.18 L105.77,454.91 L112.01,455.18 L112.01,455.6 Z" fill="#0000f5"/>
<path d="M17,455.46 L21.16,455.18 L23.24,454.21 L25.32,455.18 L29.48,455.32 L32.26,454.91 L36.42,455.18 L39.19,454.63 L41.27,452.41 L43.35,451.44 L46.13,451.58 L48.9,451.86 L51.67,451.86 L53.75,452.83 L55.83,452.41 L58.61,452.13 L60.69,454.21 L62.77,453.8 L65.54,452.41 L68.32,451.44 L71.09,451.86 L73.17,452.13 L75.25,449.08 L78.03,448.67 L80.8,449.08 L83.57,449.36 L86.35,448.67 L89.12,449.08 L90.51,450.75 L92.59,454.91 L94.67,455.32 L100.22,455.18 L105.77,454.91 L112.01,455.18" fill="none" stroke="#14145a" stroke-width="0.7" stroke-linejoin="round"/>
<path d="M111,455.6 L111,454.63 L113.77,454.35 L116.55,455.05 L120.71,454.63 L124.87,455.05 L129.03,455.32 L133.19,455.32 L135.27,454.21 L137.35,452.55 L138.74,451.86 L140.13,453.94 L142.9,452.83 L145.67,453.66 L148.45,452.27 L150.53,453.24 L152.61,453.66 L155.38,453.24 L158.16,452.27 L160.93,451.86 L163.7,451.16 L166.48,451.16 L169.25,450.47 L172.03,449.5 L173.41,451.44 L175.49,450.05 L177.57,449.5 L180.35,449.77 L183.12,450.88 L185.9,451.86 L188.67,453.24 L191.44,453.66 L194.22,453.24 L196.99,454.63 L199.77,455.05 L202.54,454.63 L202.6,454.63 L202.6,455.6 Z" fill="#0000f5"/>
<path d="M111,454.63 L113.77,454.35 L116.55,455.05 L120.71,454.63 L124.87,455.05 L129.03,455.32 L133.19,455.32 L135.27,454.21 L137.35,452.55 L138.74,451.86 L140.13,453.94 L142.9,452.83 L145.67,453.66 L148.45,452.27 L150.53,453.24 L152.61,453.66 L155.38,453.24 L158.16,452.27 L160.93,451.86 L163.7,451.16 L166.48,451.16 L169.25,450.47 L172.03,449.5 L173.41,451.44 L175.49,450.05 L177.57,449.5 L180.35,449.77 L183.12,450.88 L185.9,451.86 L188.67,453.24 L191.44,453.66 L194.22,453.24 L196.99,454.63 L199.77,455.05 L202.54,454.63 L202.6,454.63" fill="none" stroke="#14145a" stroke-width="0.7" stroke-linejoin="round"/>
<line x1="17.3" y1="455.6" x2="202.6" y2="455.6" stroke="#5a5a66" stroke-width="0.8"/>
<path d="M17,469.25 L17,468.28 L19.77,468 L22.55,468.7 L26.71,468.28 L30.87,468.7 L35.03,468.97 L39.19,468.97 L41.27,467.86 L43.35,466.2 L44.74,465.51 L46.13,467.59 L48.9,466.48 L51.67,467.31 L54.45,465.92 L56.53,466.89 L58.61,467.31 L61.38,466.89 L64.16,465.92 L66.93,465.51 L69.7,464.81 L72.48,464.81 L75.25,464.12 L78.03,463.15 L79.41,465.09 L81.49,463.7 L83.57,463.15 L86.35,463.42 L89.12,464.53 L91.9,465.51 L94.67,466.89 L97.44,467.31 L100.22,466.89 L102.99,468.28 L105.77,468.7 L108.54,468.28 L112.01,468.28 L112.01,469.25 Z" fill="#0000f5"/>
<path d="M17,468.28 L19.77,468 L22.55,468.7 L26.71,468.28 L30.87,468.7 L35.03,468.97 L39.19,468.97 L41.27,467.86 L43.35,466.2 L44.74,465.51 L46.13,467.59 L48.9,466.48 L51.67,467.31 L54.45,465.92 L56.53,466.89 L58.61,467.31 L61.38,466.89 L64.16,465.92 L66.93,465.51 L69.7,464.81 L72.48,464.81 L75.25,464.12 L78.03,463.15 L79.41,465.09 L81.49,463.7 L83.57,463.15 L86.35,463.42 L89.12,464.53 L91.9,465.51 L94.67,466.89 L97.44,467.31 L100.22,466.89 L102.99,468.28 L105.77,468.7 L108.54,468.28 L112.01,468.28" fill="none" stroke="#14145a" stroke-width="0.7" stroke-linejoin="round"/>
<path d="M111,469.25 L111,468.83 L113.77,468.42 L117.93,468.83 L122.1,468.83 L124.87,468 L127.64,468.83 L131.8,468.83 L135.27,468 L138.74,467.45 L141.51,467.03 L144.29,466.61 L147.06,467.45 L149.83,467.72 L152.61,467.45 L155.38,465.23 L158.16,464.67 L160.93,465.23 L163.01,466.34 L165.09,465.23 L167.87,461.9 L169.95,463.56 L172.03,465.23 L174.11,466.06 L176.19,464.67 L178.96,464.67 L181.74,464.26 L183.82,464.67 L185.9,465.64 L188.67,467.72 L191.44,468.83 L195.6,468 L197.69,468.42 L199.77,469.11 L202.6,469.11 L202.6,469.25 Z" fill="#0000f5"/>
<path d="M111,468.83 L113.77,468.42 L117.93,468.83 L122.1,468.83 L124.87,468 L127.64,468.83 L131.8,468.83 L135.27,468 L138.74,467.45 L141.51,467.03 L144.29,466.61 L147.06,467.45 L149.83,467.72 L152.61,467.45 L155.38,465.23 L158.16,464.67 L160.93,465.23 L163.01,466.34 L165.09,465.23 L167.87,461.9 L169.95,463.56 L172.03,465.23 L174.11,466.06 L176.19,464.67 L178.96,464.67 L181.74,464.26 L183.82,464.67 L185.9,465.64 L188.67,467.72 L191.44,468.83 L195.6,468 L197.69,468.42 L199.77,469.11 L202.6,469.11" fill="none" stroke="#14145a" stroke-width="0.7" stroke-linejoin="round"/>
<line x1="17.3" y1="469.25" x2="202.6" y2="469.25" stroke="#5a5a66" stroke-width="0.8"/>
<path d="M17,482.9 L17,482.48 L19.77,482.07 L23.93,482.48 L28.1,482.48 L30.87,481.65 L33.64,482.48 L37.8,482.48 L41.27,481.65 L44.74,481.1 L47.51,480.68 L50.29,480.26 L53.06,481.1 L55.83,481.37 L58.61,481.1 L61.38,478.88 L64.16,478.32 L66.93,478.88 L69.01,479.99 L71.09,478.88 L73.87,475.55 L75.95,477.21 L78.03,478.88 L80.11,479.71 L82.19,478.32 L84.96,478.32 L87.74,477.91 L89.82,478.32 L91.9,479.29 L94.67,481.37 L97.44,482.48 L101.6,481.65 L103.69,482.07 L105.77,482.76 L112.01,482.76 L112.01,482.9 Z" fill="#0000f5"/>
<path d="M17,482.48 L19.77,482.07 L23.93,482.48 L28.1,482.48 L30.87,481.65 L33.64,482.48 L37.8,482.48 L41.27,481.65 L44.74,481.1 L47.51,480.68 L50.29,480.26 L53.06,481.1 L55.83,481.37 L58.61,481.1 L61.38,478.88 L64.16,478.32 L66.93,478.88 L69.01,479.99 L71.09,478.88 L73.87,475.55 L75.95,477.21 L78.03,478.88 L80.11,479.71 L82.19,478.32 L84.96,478.32 L87.74,477.91 L89.82,478.32 L91.9,479.29 L94.67,481.37 L97.44,482.48 L101.6,481.65 L103.69,482.07 L105.77,482.76 L112.01,482.76" fill="none" stroke="#14145a" stroke-width="0.7" stroke-linejoin="round"/>
<path d="M111,482.9 L111,482.62 L115.16,482.62 L117.93,481.79 L120.71,482.21 L123.48,482.48 L127.64,482.62 L131.8,482.62 L134.58,482.21 L136.66,481.24 L138.74,481.79 L140.82,480.82 L143.59,479.43 L145.67,480.13 L148.45,481.24 L151.22,480.82 L154,479.85 L156.77,480.82 L159.54,480.4 L162.32,480.13 L165.09,479.43 L167.87,479.85 L170.64,480.82 L173.41,480.13 L176.19,478.05 L178.96,476.66 L181.04,478.74 L183.12,481.24 L185.2,482.62 L187.98,482.21 L189.36,478.74 L191.17,476.24 L192.83,479.43 L195.6,480.13 L198.38,481.51 L200.46,482.62 L202.6,482.62 L202.6,482.9 Z" fill="#0000f5"/>
<path d="M111,482.62 L115.16,482.62 L117.93,481.79 L120.71,482.21 L123.48,482.48 L127.64,482.62 L131.8,482.62 L134.58,482.21 L136.66,481.24 L138.74,481.79 L140.82,480.82 L143.59,479.43 L145.67,480.13 L148.45,481.24 L151.22,480.82 L154,479.85 L156.77,480.82 L159.54,480.4 L162.32,480.13 L165.09,479.43 L167.87,479.85 L170.64,480.82 L173.41,480.13 L176.19,478.05 L178.96,476.66 L181.04,478.74 L183.12,481.24 L185.2,482.62 L187.98,482.21 L189.36,478.74 L191.17,476.24 L192.83,479.43 L195.6,480.13 L198.38,481.51 L200.46,482.62 L202.6,482.62" fill="none" stroke="#14145a" stroke-width="0.7" stroke-linejoin="round"/>
<line x1="17.3" y1="482.9" x2="202.6" y2="482.9" stroke="#5a5a66" stroke-width="0.8"/>
<path d="M17,496.55 L17,496.27 L21.16,496.27 L23.93,495.44 L26.71,495.86 L29.48,496.13 L33.64,496.27 L37.8,496.27 L40.58,495.86 L42.66,494.89 L44.74,495.44 L46.82,494.47 L49.59,493.08 L51.67,493.78 L54.45,494.89 L57.22,494.47 L60,493.5 L62.77,494.47 L65.54,494.05 L68.32,493.78 L71.09,493.08 L73.87,493.5 L76.64,494.47 L79.41,493.78 L82.19,491.7 L84.96,490.31 L87.04,492.39 L89.12,494.89 L91.2,496.27 L93.98,495.86 L95.36,492.39 L97.17,489.89 L98.83,493.08 L101.6,493.78 L104.38,495.16 L106.46,496.27 L112.01,496.27 L112.01,496.55 Z" fill="#0000f5"/>
<path d="M17,496.27 L21.16,496.27 L23.93,495.44 L26.71,495.86 L29.48,496.13 L33.64,496.27 L37.8,496.27 L40.58,495.86 L42.66,494.89 L44.74,495.44 L46.82,494.47 L49.59,493.08 L51.67,493.78 L54.45,494.89 L57.22,494.47 L60,493.5 L62.77,494.47 L65.54,494.05 L68.32,493.78 L71.09,493.08 L73.87,493.5 L76.64,494.47 L79.41,493.78 L82.19,491.7 L84.96,490.31 L87.04,492.39 L89.12,494.89 L91.2,496.27 L93.98,495.86 L95.36,492.39 L97.17,489.89 L98.83,493.08 L101.6,493.78 L104.38,495.16 L106.46,496.27 L112.01,496.27" fill="none" stroke="#14145a" stroke-width="0.7" stroke-linejoin="round"/>
<path d="M111,496.55 L111,496.13 L113.77,495.72 L116.55,496.13 L120.71,496.13 L124.87,496.55 L129.03,496.13 L133.19,496.13 L135.97,495.44 L138.74,494.75 L141.51,495.16 L144.29,494.75 L146.37,494.05 L148.45,494.75 L151.22,495.16 L154,494.75 L156.77,495.16 L159.54,494.33 L161.62,494.75 L163.01,493.36 L165.09,495.16 L167.17,491.28 L169.25,492.94 L171.33,493.36 L173.41,494.05 L175.49,492.39 L177.3,494.05 L179.65,493.78 L181.74,492.94 L183.82,492.39 L185.9,493.36 L188.67,494.33 L191.44,495.16 L194.22,495.72 L196.99,496.13 L201.15,496.41 L202.6,496.41 L202.6,496.55 Z" fill="#0000f5"/>
<path d="M111,496.13 L113.77,495.72 L116.55,496.13 L120.71,496.13 L124.87,496.55 L129.03,496.13 L133.19,496.13 L135.97,495.44 L138.74,494.75 L141.51,495.16 L144.29,494.75 L146.37,494.05 L148.45,494.75 L151.22,495.16 L154,494.75 L156.77,495.16 L159.54,494.33 L161.62,494.75 L163.01,493.36 L165.09,495.16 L167.17,491.28 L169.25,492.94 L171.33,493.36 L173.41,494.05 L175.49,492.39 L177.3,494.05 L179.65,493.78 L181.74,492.94 L183.82,492.39 L185.9,493.36 L188.67,494.33 L191.44,495.16 L194.22,495.72 L196.99,496.13 L201.15,496.41 L202.6,496.41" fill="none" stroke="#14145a" stroke-width="0.7" stroke-linejoin="round"/>
<line x1="17.3" y1="496.55" x2="202.6" y2="496.55" stroke="#5a5a66" stroke-width="0.8"/>
<path d="M17,510.2 L17,509.78 L19.77,509.37 L22.55,509.78 L26.71,509.78 L30.87,510.2 L35.03,509.78 L39.19,509.78 L41.97,509.09 L44.74,508.4 L47.51,508.81 L50.29,508.4 L52.37,507.7 L54.45,508.4 L57.22,508.81 L60,508.4 L62.77,508.81 L65.54,507.98 L67.62,508.4 L69.01,507.01 L71.09,508.81 L73.17,504.93 L75.25,506.59 L77.33,507.01 L79.41,507.7 L81.49,506.04 L83.3,507.7 L85.65,507.43 L87.74,506.59 L89.82,506.04 L91.9,507.01 L94.67,507.98 L97.44,508.81 L100.22,509.37 L102.99,509.78 L107.15,510.06 L112.01,510.06 L112.01,510.2 Z" fill="#0000f5"/>
<path d="M17,509.78 L19.77,509.37 L22.55,509.78 L26.71,509.78 L30.87,510.2 L35.03,509.78 L39.19,509.78 L41.97,509.09 L44.74,508.4 L47.51,508.81 L50.29,508.4 L52.37,507.7 L54.45,508.4 L57.22,508.81 L60,508.4 L62.77,508.81 L65.54,507.98 L67.62,508.4 L69.01,507.01 L71.09,508.81 L73.17,504.93 L75.25,506.59 L77.33,507.01 L79.41,507.7 L81.49,506.04 L83.3,507.7 L85.65,507.43 L87.74,506.59 L89.82,506.04 L91.9,507.01 L94.67,507.98 L97.44,508.81 L100.22,509.37 L102.99,509.78 L107.15,510.06 L112.01,510.06" fill="none" stroke="#14145a" stroke-width="0.7" stroke-linejoin="round"/>
<path d="M111,510.2 L111,510.06 L119.32,510.06 L126.26,509.92 L128.34,508.81 L130.42,510.06 L138.74,509.92 L141.51,508.81 L144.29,509.09 L147.06,508.67 L149.83,508.81 L151.92,507.7 L154,508.81 L156.08,508.26 L158.16,509.09 L160.24,509.09 L162.32,507.7 L164.4,507.15 L166.48,506.87 L168.56,507.15 L170.64,507.98 L173.41,507.7 L176.19,507.15 L178.96,507.43 L181.74,507.15 L184.51,506.87 L187.28,507.98 L190.06,509.09 L192.83,510.06 L196.99,510.2 L202.6,510.2 L202.6,510.2 Z" fill="#0000f5"/>
<path d="M111,510.06 L119.32,510.06 L126.26,509.92 L128.34,508.81 L130.42,510.06 L138.74,509.92 L141.51,508.81 L144.29,509.09 L147.06,508.67 L149.83,508.81 L151.92,507.7 L154,508.81 L156.08,508.26 L158.16,509.09 L160.24,509.09 L162.32,507.7 L164.4,507.15 L166.48,506.87 L168.56,507.15 L170.64,507.98 L173.41,507.7 L176.19,507.15 L178.96,507.43 L181.74,507.15 L184.51,506.87 L187.28,507.98 L190.06,509.09 L192.83,510.06 L196.99,510.2 L202.6,510.2" fill="none" stroke="#14145a" stroke-width="0.7" stroke-linejoin="round"/>
<line x1="17.3" y1="510.2" x2="202.6" y2="510.2" stroke="#5a5a66" stroke-width="0.8"/>
<path d="M17,523.85 L17,523.71 L25.32,523.71 L32.26,523.57 L34.34,522.46 L36.42,523.71 L44.74,523.57 L47.51,522.46 L50.29,522.74 L53.06,522.32 L55.83,522.46 L57.92,521.35 L60,522.46 L62.08,521.91 L64.16,522.74 L66.24,522.74 L68.32,521.35 L70.4,520.8 L72.48,520.52 L74.56,520.8 L76.64,521.63 L79.41,521.35 L82.19,520.8 L84.96,521.08 L87.74,520.8 L90.51,520.52 L93.28,521.63 L96.06,522.74 L98.83,523.71 L102.99,523.85 L112.01,523.85 L112.01,523.85 Z" fill="#0000f5"/>
<path d="M17,523.71 L25.32,523.71 L32.26,523.57 L34.34,522.46 L36.42,523.71 L44.74,523.57 L47.51,522.46 L50.29,522.74 L53.06,522.32 L55.83,522.46 L57.92,521.35 L60,522.46 L62.08,521.91 L64.16,522.74 L66.24,522.74 L68.32,521.35 L70.4,520.8 L72.48,520.52 L74.56,520.8 L76.64,521.63 L79.41,521.35 L82.19,520.8 L84.96,521.08 L87.74,520.8 L90.51,520.52 L93.28,521.63 L96.06,522.74 L98.83,523.71 L102.99,523.85 L112.01,523.85" fill="none" stroke="#14145a" stroke-width="0.7" stroke-linejoin="round"/>
<path d="M111,523.85 L111,523.71 L113.77,523.43 L115.16,522.88 L117.24,523.43 L119.32,522.32 L121.4,523.43 L124.87,523.71 L131.8,523.71 L138.74,523.71 L141.51,522.88 L144.29,522.74 L146.37,522.05 L148.45,522.74 L151.22,522.88 L153.3,522.05 L155.38,522.46 L158.16,522.74 L160.93,522.74 L163.7,523.71 L165.79,522.05 L167.87,519.97 L169.95,520.38 L172.03,519.55 L174.11,519.27 L175.91,517.89 L177.57,518.58 L179.65,518.58 L181.74,519.27 L184.51,520.38 L187.28,520.94 L190.06,521.77 L192.83,522.46 L195.6,522.74 L198.38,523.43 L202.54,523.71 L202.6,523.85 L202.6,523.85 Z" fill="#0000f5"/>
<path d="M111,523.71 L113.77,523.43 L115.16,522.88 L117.24,523.43 L119.32,522.32 L121.4,523.43 L124.87,523.71 L131.8,523.71 L138.74,523.71 L141.51,522.88 L144.29,522.74 L146.37,522.05 L148.45,522.74 L151.22,522.88 L153.3,522.05 L155.38,522.46 L158.16,522.74 L160.93,522.74 L163.7,523.71 L165.79,522.05 L167.87,519.97 L169.95,520.38 L172.03,519.55 L174.11,519.27 L175.91,517.89 L177.57,518.58 L179.65,518.58 L181.74,519.27 L184.51,520.38 L187.28,520.94 L190.06,521.77 L192.83,522.46 L195.6,522.74 L198.38,523.43 L202.54,523.71 L202.6,523.85" fill="none" stroke="#14145a" stroke-width="0.7" stroke-linejoin="round"/>
<line x1="17.3" y1="523.85" x2="202.6" y2="523.85" stroke="#5a5a66" stroke-width="0.8"/>
<path d="M17,537.5 L17,537.36 L19.77,537.08 L21.16,536.53 L23.24,537.08 L25.32,535.97 L27.4,537.08 L30.87,537.36 L37.8,537.36 L44.74,537.36 L47.51,536.53 L50.29,536.39 L52.37,535.7 L54.45,536.39 L57.22,536.53 L59.3,535.7 L61.38,536.11 L64.16,536.39 L66.93,536.39 L69.7,537.36 L71.79,535.7 L73.87,533.62 L75.95,534.03 L78.03,533.2 L80.11,532.92 L81.91,531.54 L83.57,532.23 L85.65,532.23 L87.74,532.92 L90.51,534.03 L93.28,534.59 L96.06,535.42 L98.83,536.11 L101.6,536.39 L104.38,537.08 L108.54,537.36 L112.01,537.5 L112.01,537.5 Z" fill="#0000f5"/>
<path d="M17,537.36 L19.77,537.08 L21.16,536.53 L23.24,537.08 L25.32,535.97 L27.4,537.08 L30.87,537.36 L37.8,537.36 L44.74,537.36 L47.51,536.53 L50.29,536.39 L52.37,535.7 L54.45,536.39 L57.22,536.53 L59.3,535.7 L61.38,536.11 L64.16,536.39 L66.93,536.39 L69.7,537.36 L71.79,535.7 L73.87,533.62 L75.95,534.03 L78.03,533.2 L80.11,532.92 L81.91,531.54 L83.57,532.23 L85.65,532.23 L87.74,532.92 L90.51,534.03 L93.28,534.59 L96.06,535.42 L98.83,536.11 L101.6,536.39 L104.38,537.08 L108.54,537.36 L112.01,537.5" fill="none" stroke="#14145a" stroke-width="0.7" stroke-linejoin="round"/>
<line x1="17.3" y1="537.5" x2="202.6" y2="537.5" stroke="#5a5a66" stroke-width="0.8"/>
<line x1="17.3" y1="538.1" x2="202.6" y2="538.1" stroke="#707070" stroke-width="1.3"/>
<line x1="202.6" y1="538.3" x2="204.6" y2="538.3" stroke="#b0b0b0" stroke-width="1"/>
<line x1="17.3" y1="402.2" x2="17.3" y2="538.7" stroke="#666" stroke-width="1"/>
<text x="12.8" y="417.25" font-size="6.3" text-anchor="end" fill="#3a3a3a">1</text>
<text x="12.8" y="430.9" font-size="6.3" text-anchor="end" fill="#3a3a3a">2</text>
<text x="12.8" y="444.55" font-size="6.3" text-anchor="end" fill="#3a3a3a">3</text>
<text x="12.8" y="458.2" font-size="6.3" text-anchor="end" fill="#3a3a3a">4</text>
<text x="12.8" y="471.85" font-size="6.3" text-anchor="end" fill="#3a3a3a">5</text>
<text x="12.8" y="485.5" font-size="6.3" text-anchor="end" fill="#3a3a3a">6</text>
<text x="12.8" y="499.15" font-size="6.3" text-anchor="end" fill="#3a3a3a">7</text>
<text x="12.8" y="512.8" font-size="6.3" text-anchor="end" fill="#3a3a3a">8</text>
<text x="12.8" y="526.45" font-size="6.3" text-anchor="end" fill="#3a3a3a">9</text>
<text x="12.8" y="540.1" font-size="6.3" text-anchor="end" fill="#3a3a3a">10</text>
<text transform="translate(5.3,470.5) rotate(-90)" font-size="6.3" text-anchor="middle" fill="#3a3a3a" textLength="11" lengthAdjust="spacingAndGlyphs">day</text>
<text x="42" y="547.3" font-size="6.3" text-anchor="middle" fill="#3a3a3a">0</text>
<text x="88.98" y="547.3" font-size="6.3" text-anchor="middle" fill="#3a3a3a" textLength="7.4" lengthAdjust="spacingAndGlyphs">12</text>
<text x="135.96" y="547.3" font-size="6.3" text-anchor="middle" fill="#3a3a3a" textLength="7.4" lengthAdjust="spacingAndGlyphs">24</text>
<text x="182.94" y="547.3" font-size="6.3" text-anchor="middle" fill="#3a3a3a" textLength="7.4" lengthAdjust="spacingAndGlyphs">36</text>
<text x="114.2" y="555.7" font-size="6.3" text-anchor="middle" fill="#3a3a3a" textLength="27.4" lengthAdjust="spacingAndGlyphs">time (ZT)</text>
<rect x="17.3" y="703.31" width="3.9" height="8.59" fill="#828282" stroke="#333" stroke-width="0.7"/>
<rect x="21.2" y="701.35" width="3.9" height="10.55" fill="#828282" stroke="#333" stroke-width="0.7"/>
<rect x="25.1" y="702.26" width="3.9" height="9.64" fill="#828282" stroke="#333" stroke-width="0.7"/>
<rect x="29.01" y="705.87" width="3.9" height="6.03" fill="#828282" stroke="#333" stroke-width="0.7"/>
<rect x="32.91" y="705.27" width="3.9" height="6.63" fill="#828282" stroke="#333" stroke-width="0.7"/>
<rect x="36.81" y="704.21" width="3.9" height="7.69" fill="#828282" stroke="#333" stroke-width="0.7"/>
<rect x="40.71" y="706.47" width="3.9" height="5.43" fill="#828282" stroke="#333" stroke-width="0.7"/>
<rect x="44.61" y="704.52" width="3.9" height="7.38" fill="#828282" stroke="#333" stroke-width="0.7"/>
<rect x="48.52" y="705.42" width="3.9" height="6.48" fill="#828282" stroke="#333" stroke-width="0.7"/>
<rect x="52.42" y="704.37" width="3.9" height="7.53" fill="#828282" stroke="#333" stroke-width="0.7"/>
<rect x="56.32" y="697.28" width="3.9" height="14.62" fill="#828282" stroke="#333" stroke-width="0.7"/>
<rect x="60.22" y="687.19" width="3.9" height="24.71" fill="#828282" stroke="#333" stroke-width="0.7"/>
<rect x="64.12" y="588.02" width="3.9" height="123.88" fill="#fff" stroke="#333" stroke-width="0.7"/>
<rect x="68.03" y="629.01" width="3.9" height="82.88" fill="#fff" stroke="#333" stroke-width="0.7"/>
<rect x="71.93" y="657.8" width="3.9" height="54.1" fill="#fff" stroke="#333" stroke-width="0.7"/>
<rect x="75.83" y="681.31" width="3.9" height="30.59" fill="#fff" stroke="#333" stroke-width="0.7"/>
<rect x="79.73" y="694.42" width="3.9" height="17.48" fill="#fff" stroke="#333" stroke-width="0.7"/>
<rect x="83.64" y="689.29" width="3.9" height="22.6" fill="#fff" stroke="#333" stroke-width="0.7"/>
<rect x="87.54" y="699.09" width="3.9" height="12.81" fill="#fff" stroke="#333" stroke-width="0.7"/>
<rect x="91.44" y="698.34" width="3.9" height="13.56" fill="#fff" stroke="#333" stroke-width="0.7"/>
<rect x="95.34" y="700.75" width="3.9" height="11.15" fill="#fff" stroke="#333" stroke-width="0.7"/>
<rect x="99.24" y="703.31" width="3.9" height="8.59" fill="#fff" stroke="#333" stroke-width="0.7"/>
<rect x="103.15" y="700.75" width="3.9" height="11.15" fill="#fff" stroke="#333" stroke-width="0.7"/>
<rect x="107.05" y="701.8" width="3.9" height="10.1" fill="#fff" stroke="#333" stroke-width="0.7"/>
<rect x="110.95" y="703.91" width="3.9" height="7.99" fill="#fff" stroke="#333" stroke-width="0.7"/>
<rect x="114.85" y="703.31" width="3.9" height="8.59" fill="#fff" stroke="#333" stroke-width="0.7"/>
<rect x="118.75" y="702.86" width="3.9" height="9.04" fill="#fff" stroke="#333" stroke-width="0.7"/>
<rect x="122.66" y="705.57" width="3.9" height="6.33" fill="#fff" stroke="#333" stroke-width="0.7"/>
<rect x="126.56" y="701.35" width="3.9" height="10.55" fill="#fff" stroke="#333" stroke-width="0.7"/>
<rect x="130.46" y="706.47" width="3.9" height="5.43" fill="#fff" stroke="#333" stroke-width="0.7"/>
<rect x="134.36" y="698.34" width="3.9" height="13.56" fill="#fff" stroke="#333" stroke-width="0.7"/>
<rect x="138.26" y="695.62" width="3.9" height="16.28" fill="#fff" stroke="#333" stroke-width="0.7"/>
<rect x="142.17" y="680.86" width="3.9" height="31.04" fill="#fff" stroke="#333" stroke-width="0.7"/>
<rect x="146.07" y="680.86" width="3.9" height="31.04" fill="#fff" stroke="#333" stroke-width="0.7"/>
<rect x="149.97" y="648.46" width="3.9" height="63.44" fill="#fff" stroke="#333" stroke-width="0.7"/>
<rect x="153.87" y="630.22" width="3.9" height="81.68" fill="#fff" stroke="#333" stroke-width="0.7"/>
<rect x="157.78" y="590.13" width="3.9" height="121.77" fill="#828282" stroke="#333" stroke-width="0.7"/>
<rect x="161.68" y="665.18" width="3.9" height="46.72" fill="#828282" stroke="#333" stroke-width="0.7"/>
<rect x="165.58" y="700.15" width="3.9" height="11.75" fill="#828282" stroke="#333" stroke-width="0.7"/>
<rect x="169.48" y="699.39" width="3.9" height="12.51" fill="#828282" stroke="#333" stroke-width="0.7"/>
<rect x="173.38" y="706.63" width="3.9" height="5.27" fill="#828282" stroke="#333" stroke-width="0.7"/>
<rect x="177.29" y="704.97" width="3.9" height="6.93" fill="#828282" stroke="#333" stroke-width="0.7"/>
<rect x="181.19" y="707.08" width="3.9" height="4.82" fill="#828282" stroke="#333" stroke-width="0.7"/>
<rect x="185.09" y="703.91" width="3.9" height="7.99" fill="#828282" stroke="#333" stroke-width="0.7"/>
<rect x="188.99" y="702.86" width="3.9" height="9.04" fill="#828282" stroke="#333" stroke-width="0.7"/>
<rect x="192.89" y="703.31" width="3.9" height="8.59" fill="#828282" stroke="#333" stroke-width="0.7"/>
<rect x="196.8" y="703.91" width="3.9" height="7.99" fill="#828282" stroke="#333" stroke-width="0.7"/>
<rect x="200.7" y="702.26" width="3.9" height="9.64" fill="#828282" stroke="#333" stroke-width="0.7"/>
<circle cx="19.25" cy="698.49" r="0.75" fill="#b82048"/>
<circle cx="23.15" cy="699.09" r="0.75" fill="#b82048"/>
<circle cx="27.06" cy="697.58" r="0.75" fill="#b82048"/>
<circle cx="30.96" cy="704.52" r="0.75" fill="#b82048"/>
<circle cx="34.86" cy="703.61" r="0.75" fill="#b82048"/>
<circle cx="38.76" cy="700.15" r="0.75" fill="#b82048"/>
<circle cx="42.66" cy="705.42" r="0.75" fill="#b82048"/>
<circle cx="46.57" cy="702.41" r="0.75" fill="#b82048"/>
<circle cx="50.47" cy="704.52" r="0.75" fill="#b82048"/>
<circle cx="54.37" cy="702.71" r="0.75" fill="#b82048"/>
<circle cx="58.27" cy="695.32" r="0.75" fill="#b82048"/>
<circle cx="62.17" cy="683.42" r="0.75" fill="#b82048"/>
<circle cx="66.08" cy="579.13" r="0.75" fill="#b82048"/>
<circle cx="69.98" cy="623.44" r="0.75" fill="#b82048"/>
<circle cx="73.88" cy="655.24" r="0.75" fill="#b82048"/>
<circle cx="77.78" cy="679.2" r="0.75" fill="#b82048"/>
<circle cx="81.68" cy="691.4" r="0.75" fill="#b82048"/>
<circle cx="85.59" cy="684.62" r="0.75" fill="#b82048"/>
<circle cx="89.49" cy="697.28" r="0.75" fill="#b82048"/>
<circle cx="93.39" cy="696.23" r="0.75" fill="#b82048"/>
<circle cx="97.29" cy="698.64" r="0.75" fill="#b82048"/>
<circle cx="101.19" cy="701.35" r="0.75" fill="#b82048"/>
<circle cx="105.1" cy="699.39" r="0.75" fill="#b82048"/>
<circle cx="109" cy="699.39" r="0.75" fill="#b82048"/>
<circle cx="112.9" cy="702.41" r="0.75" fill="#b82048"/>
<circle cx="116.8" cy="700.15" r="0.75" fill="#b82048"/>
<circle cx="120.71" cy="699.69" r="0.75" fill="#b82048"/>
<circle cx="124.61" cy="704.52" r="0.75" fill="#b82048"/>
<circle cx="128.51" cy="698.64" r="0.75" fill="#b82048"/>
<circle cx="132.41" cy="703.31" r="0.75" fill="#b82048"/>
<circle cx="136.31" cy="695.62" r="0.75" fill="#b82048"/>
<circle cx="140.22" cy="692.01" r="0.75" fill="#b82048"/>
<circle cx="144.12" cy="677.69" r="0.75" fill="#b82048"/>
<circle cx="148.02" cy="676.33" r="0.75" fill="#b82048"/>
<circle cx="151.92" cy="643.18" r="0.75" fill="#b82048"/>
<circle cx="155.82" cy="620.12" r="0.75" fill="#b82048"/>
<circle cx="159.73" cy="587.12" r="0.75" fill="#b82048"/>
<circle cx="163.63" cy="659.91" r="0.75" fill="#b82048"/>
<circle cx="167.53" cy="696.23" r="0.75" fill="#b82048"/>
<circle cx="171.43" cy="693.51" r="0.75" fill="#b82048"/>
<circle cx="175.33" cy="704.97" r="0.75" fill="#b82048"/>
<circle cx="179.24" cy="703.31" r="0.75" fill="#b82048"/>
<circle cx="183.14" cy="705.42" r="0.75" fill="#b82048"/>
<circle cx="187.04" cy="702.26" r="0.75" fill="#b82048"/>
<circle cx="190.94" cy="701.2" r="0.75" fill="#b82048"/>
<circle cx="194.84" cy="699.39" r="0.75" fill="#b82048"/>
<circle cx="198.75" cy="701.2" r="0.75" fill="#b82048"/>
<circle cx="202.65" cy="699.69" r="0.75" fill="#b82048"/>
<line x1="17.3" y1="576.27" x2="17.3" y2="711.9" stroke="#777" stroke-width="1"/>
<line x1="17.3" y1="712.2" x2="204.6" y2="712.2" stroke="#888" stroke-width="1"/>
<line x1="17.3" y1="711.9" x2="19.3" y2="711.9" stroke="#777" stroke-width="0.7"/>
<text x="14.9" y="714.1" font-size="6.3" text-anchor="end" fill="#3a3a3a">0</text>
<line x1="17.3" y1="696.83" x2="19.3" y2="696.83" stroke="#777" stroke-width="0.7"/>
<text x="14.9" y="699.03" font-size="6.3" text-anchor="end" fill="#3a3a3a" textLength="6" lengthAdjust="spacingAndGlyphs">10</text>
<line x1="17.3" y1="681.76" x2="19.3" y2="681.76" stroke="#777" stroke-width="0.7"/>
<text x="14.9" y="683.96" font-size="6.3" text-anchor="end" fill="#3a3a3a" textLength="6" lengthAdjust="spacingAndGlyphs">20</text>
<line x1="17.3" y1="666.69" x2="19.3" y2="666.69" stroke="#777" stroke-width="0.7"/>
<text x="14.9" y="668.89" font-size="6.3" text-anchor="end" fill="#3a3a3a" textLength="6" lengthAdjust="spacingAndGlyphs">30</text>
<line x1="17.3" y1="651.62" x2="19.3" y2="651.62" stroke="#777" stroke-width="0.7"/>
<text x="14.9" y="653.82" font-size="6.3" text-anchor="end" fill="#3a3a3a" textLength="6" lengthAdjust="spacingAndGlyphs">40</text>
<line x1="17.3" y1="636.55" x2="19.3" y2="636.55" stroke="#777" stroke-width="0.7"/>
<text x="14.9" y="638.75" font-size="6.3" text-anchor="end" fill="#3a3a3a" textLength="6" lengthAdjust="spacingAndGlyphs">50</text>
<line x1="17.3" y1="621.48" x2="19.3" y2="621.48" stroke="#777" stroke-width="0.7"/>
<text x="14.9" y="623.68" font-size="6.3" text-anchor="end" fill="#3a3a3a" textLength="6" lengthAdjust="spacingAndGlyphs">60</text>
<line x1="17.3" y1="606.41" x2="19.3" y2="606.41" stroke="#777" stroke-width="0.7"/>
<text x="14.9" y="608.61" font-size="6.3" text-anchor="end" fill="#3a3a3a" textLength="6" lengthAdjust="spacingAndGlyphs">70</text>
<line x1="17.3" y1="591.34" x2="19.3" y2="591.34" stroke="#777" stroke-width="0.7"/>
<text x="14.9" y="593.54" font-size="6.3" text-anchor="end" fill="#3a3a3a" textLength="6" lengthAdjust="spacingAndGlyphs">80</text>
<line x1="17.3" y1="576.27" x2="19.3" y2="576.27" stroke="#777" stroke-width="0.7"/>
<text x="14.9" y="578.47" font-size="6.3" text-anchor="end" fill="#3a3a3a" textLength="6" lengthAdjust="spacingAndGlyphs">90</text>
<text transform="translate(5.1,644.09) rotate(-90)" font-size="6.3" text-anchor="middle" fill="#3a3a3a">mean activity</text>
<text x="64.12" y="720.5" font-size="6.3" text-anchor="middle" fill="#3a3a3a">ZT0</text>
<text x="157.78" y="720.5" font-size="6.3" text-anchor="middle" fill="#3a3a3a">ZT12</text>
<text x="247.1" y="388.85" font-size="14" font-style="italic" fill="#111" textLength="125.6" lengthAdjust="spacingAndGlyphs">tim-Gal4&gt;CrebA-KO</text>
<text x="381.9" y="389" font-size="11.2" fill="#1a1a1a" textLength="28.4" lengthAdjust="spacingAndGlyphs">n=12</text>
<rect x="247.4" y="402.2" width="187.3" height="136.5" fill="#d9d9d9"/>
<rect x="432.7" y="402.2" width="2" height="136.5" fill="#cecece"/>
<rect x="272.6" y="402.2" width="46.98" height="12.45" fill="#fff"/>
<rect x="366.56" y="402.2" width="46.98" height="12.45" fill="#fff"/>
<rect x="272.6" y="415.85" width="46.98" height="12.45" fill="#fff"/>
<rect x="366.56" y="415.85" width="46.98" height="12.45" fill="#fff"/>
<rect x="272.6" y="429.5" width="46.98" height="12.45" fill="#fff"/>
<line x1="268.5" y1="402.2" x2="268.5" y2="538.7" stroke="#000" stroke-opacity="0.07" stroke-width="1"/>
<line x1="292.5" y1="402.2" x2="292.5" y2="538.7" stroke="#000" stroke-opacity="0.07" stroke-width="1"/>
<line x1="315.5" y1="402.2" x2="315.5" y2="538.7" stroke="#000" stroke-opacity="0.07" stroke-width="1"/>
<line x1="339.5" y1="402.2" x2="339.5" y2="538.7" stroke="#000" stroke-opacity="0.07" stroke-width="1"/>
<line x1="362.5" y1="402.2" x2="362.5" y2="538.7" stroke="#000" stroke-opacity="0.07" stroke-width="1"/>
<line x1="385.5" y1="402.2" x2="385.5" y2="538.7" stroke="#000" stroke-opacity="0.07" stroke-width="1"/>
<line x1="409.5" y1="402.2" x2="409.5" y2="538.7" stroke="#000" stroke-opacity="0.07" stroke-width="1"/>
<path d="M247,414.65 L247,414.51 L249.08,413.12 L251.16,412.43 L253.24,412.43 L255.32,413.54 L256.71,414.51 L260.87,414.51 L262.95,414.1 L264.34,412.43 L266.42,412.15 L268.5,411.04 L270.58,408.96 L272.24,407.16 L274.05,410.35 L276.13,412.43 L278.21,412.71 L280.29,413.82 L283.06,414.23 L285.83,413.82 L288.61,414.51 L294.16,414.37 L299.7,414.1 L303.87,414.51 L305.95,413.54 L308.72,412.71 L311.49,411.32 L314.27,409.38 L317.04,406.61 L319.12,403.83 L321.2,405.77 L322.59,408.96 L323.98,412.43 L325.36,414.23 L330.22,414.51 L342.01,414.51 L342.01,414.65 Z" fill="#0000f5"/>
<path d="M247,414.51 L249.08,413.12 L251.16,412.43 L253.24,412.43 L255.32,413.54 L256.71,414.51 L260.87,414.51 L262.95,414.1 L264.34,412.43 L266.42,412.15 L268.5,411.04 L270.58,408.96 L272.24,407.16 L274.05,410.35 L276.13,412.43 L278.21,412.71 L280.29,413.82 L283.06,414.23 L285.83,413.82 L288.61,414.51 L294.16,414.37 L299.7,414.1 L303.87,414.51 L305.95,413.54 L308.72,412.71 L311.49,411.32 L314.27,409.38 L317.04,406.61 L319.12,403.83 L321.2,405.77 L322.59,408.96 L323.98,412.43 L325.36,414.23 L330.22,414.51 L342.01,414.51" fill="none" stroke="#14145a" stroke-width="0.7" stroke-linejoin="round"/>
<path d="M341,414.65 L341,414.1 L343.77,413.68 L346.55,413.26 L349.32,412.99 L352.1,412.99 L354.87,412.71 L357.64,412.71 L359.03,411.6 L361.11,409.52 L363.19,408.82 L364.86,407.44 L366.24,405.77 L368.05,408.82 L370.13,411.88 L372.21,413.68 L374.29,414.1 L376.37,413.68 L378.45,414.37 L382.61,414.37 L388.16,414.37 L393.7,414.37 L396.48,413.82 L399.25,414.37 L402.03,413.68 L404.8,412.29 L407.57,410.21 L410.35,406.05 L412.43,403 L414.51,404.66 L416.59,408.82 L418.67,413.26 L420.75,414.37 L426.99,414.37 L431.15,414.1 L432.7,412.29 L432.7,411.88 L432.7,414.65 Z" fill="#0000f5"/>
<path d="M341,414.1 L343.77,413.68 L346.55,413.26 L349.32,412.99 L352.1,412.99 L354.87,412.71 L357.64,412.71 L359.03,411.6 L361.11,409.52 L363.19,408.82 L364.86,407.44 L366.24,405.77 L368.05,408.82 L370.13,411.88 L372.21,413.68 L374.29,414.1 L376.37,413.68 L378.45,414.37 L382.61,414.37 L388.16,414.37 L393.7,414.37 L396.48,413.82 L399.25,414.37 L402.03,413.68 L404.8,412.29 L407.57,410.21 L410.35,406.05 L412.43,403 L414.51,404.66 L416.59,408.82 L418.67,413.26 L420.75,414.37 L426.99,414.37 L431.15,414.1 L432.7,412.29 L432.7,411.88" fill="none" stroke="#14145a" stroke-width="0.7" stroke-linejoin="round"/>
<line x1="247.4" y1="414.65" x2="432.7" y2="414.65" stroke="#5a5a66" stroke-width="0.8"/>
<path d="M247,428.3 L247,427.75 L249.77,427.33 L252.55,426.91 L255.32,426.64 L258.1,426.64 L260.87,426.36 L263.64,426.36 L265.03,425.25 L267.11,423.17 L269.19,422.47 L270.86,421.09 L272.24,419.42 L274.05,422.47 L276.13,425.53 L278.21,427.33 L280.29,427.75 L282.37,427.33 L284.45,428.02 L288.61,428.02 L294.16,428.02 L299.7,428.02 L302.48,427.47 L305.25,428.02 L308.03,427.33 L310.8,425.94 L313.57,423.86 L316.35,419.7 L318.43,416.65 L320.51,418.31 L322.59,422.47 L324.67,426.91 L326.75,428.02 L332.99,428.02 L337.15,427.75 L339.93,425.94 L342.01,425.53 L342.01,428.3 Z" fill="#0000f5"/>
<path d="M247,427.75 L249.77,427.33 L252.55,426.91 L255.32,426.64 L258.1,426.64 L260.87,426.36 L263.64,426.36 L265.03,425.25 L267.11,423.17 L269.19,422.47 L270.86,421.09 L272.24,419.42 L274.05,422.47 L276.13,425.53 L278.21,427.33 L280.29,427.75 L282.37,427.33 L284.45,428.02 L288.61,428.02 L294.16,428.02 L299.7,428.02 L302.48,427.47 L305.25,428.02 L308.03,427.33 L310.8,425.94 L313.57,423.86 L316.35,419.7 L318.43,416.65 L320.51,418.31 L322.59,422.47 L324.67,426.91 L326.75,428.02 L332.99,428.02 L337.15,427.75 L339.93,425.94 L342.01,425.53" fill="none" stroke="#14145a" stroke-width="0.7" stroke-linejoin="round"/>
<path d="M341,428.3 L341,425.94 L343.08,426.91 L345.16,425.94 L347.24,425.53 L349.32,426.36 L352.1,426.91 L354.87,427.33 L356.95,426.91 L358.34,424.56 L360.42,421.09 L362.5,420.81 L363.88,421.78 L365.27,419.01 L366.38,416.93 L368.05,421.78 L370.13,425.94 L372.21,427.75 L375.67,428.3 L382.61,428.3 L389.54,428.3 L396.48,428.3 L402.03,428.3 L404.8,426.64 L407.57,423.58 L410.35,419.7 L412.43,416.23 L414.51,417.62 L416.59,421.78 L418.67,425.94 L420.75,428.02 L424.22,428.3 L426.99,428.02 L431.15,427.75 L432.7,427.33 L432.7,428.3 Z" fill="#0000f5"/>
<path d="M341,425.94 L343.08,426.91 L345.16,425.94 L347.24,425.53 L349.32,426.36 L352.1,426.91 L354.87,427.33 L356.95,426.91 L358.34,424.56 L360.42,421.09 L362.5,420.81 L363.88,421.78 L365.27,419.01 L366.38,416.93 L368.05,421.78 L370.13,425.94 L372.21,427.75 L375.67,428.3 L382.61,428.3 L389.54,428.3 L396.48,428.3 L402.03,428.3 L404.8,426.64 L407.57,423.58 L410.35,419.7 L412.43,416.23 L414.51,417.62 L416.59,421.78 L418.67,425.94 L420.75,428.02 L424.22,428.3 L426.99,428.02 L431.15,427.75 L432.7,427.33" fill="none" stroke="#14145a" stroke-width="0.7" stroke-linejoin="round"/>
<line x1="247.4" y1="428.3" x2="432.7" y2="428.3" stroke="#5a5a66" stroke-width="0.8"/>
<path d="M247,441.95 L247,439.59 L249.08,440.56 L251.16,439.59 L253.24,439.18 L255.32,440.01 L258.1,440.56 L260.87,440.98 L262.95,440.56 L264.34,438.21 L266.42,434.74 L268.5,434.46 L269.88,435.43 L271.27,432.66 L272.38,430.58 L274.05,435.43 L276.13,439.59 L278.21,441.4 L281.67,441.95 L288.61,441.95 L295.54,441.95 L302.48,441.95 L308.03,441.95 L310.8,440.29 L313.57,437.23 L316.35,433.35 L318.43,429.88 L320.51,431.27 L322.59,435.43 L324.67,439.59 L326.75,441.67 L330.22,441.95 L332.99,441.67 L337.15,441.4 L342.01,440.98 L342.01,441.95 Z" fill="#0000f5"/>
<path d="M247,439.59 L249.08,440.56 L251.16,439.59 L253.24,439.18 L255.32,440.01 L258.1,440.56 L260.87,440.98 L262.95,440.56 L264.34,438.21 L266.42,434.74 L268.5,434.46 L269.88,435.43 L271.27,432.66 L272.38,430.58 L274.05,435.43 L276.13,439.59 L278.21,441.4 L281.67,441.95 L288.61,441.95 L295.54,441.95 L302.48,441.95 L308.03,441.95 L310.8,440.29 L313.57,437.23 L316.35,433.35 L318.43,429.88 L320.51,431.27 L322.59,435.43 L324.67,439.59 L326.75,441.67 L330.22,441.95 L332.99,441.67 L337.15,441.4 L342.01,440.98" fill="none" stroke="#14145a" stroke-width="0.7" stroke-linejoin="round"/>
<path d="M341,441.95 L341,440.56 L343.08,440.15 L345.16,441.26 L347.93,440.98 L350.71,439.87 L352.79,441.53 L354.87,441.53 L356.95,440.56 L359.03,437.79 L361.11,435.02 L363.19,434.32 L365.97,434.6 L368.74,435.71 L370.82,437.1 L372.62,436.82 L374.29,439.18 L376.37,438.48 L378.45,439.18 L381.22,439.59 L384,440.56 L386.77,439.18 L389.54,438.21 L391.62,436.82 L393.7,435.43 L395.79,436.82 L397.87,437.37 L399.95,436.4 L402.03,435.02 L404.8,434.74 L407.57,434.6 L409.93,434.04 L411.74,435.02 L413.82,434.04 L415.48,432.66 L417.28,434.32 L419.36,435.02 L421.44,435.99 L423.52,437.37 L425.6,439.87 L427.69,441.53 L431.15,441.95 L432.7,441.95 L432.7,441.95 Z" fill="#0000f5"/>
<path d="M341,440.56 L343.08,440.15 L345.16,441.26 L347.93,440.98 L350.71,439.87 L352.79,441.53 L354.87,441.53 L356.95,440.56 L359.03,437.79 L361.11,435.02 L363.19,434.32 L365.97,434.6 L368.74,435.71 L370.82,437.1 L372.62,436.82 L374.29,439.18 L376.37,438.48 L378.45,439.18 L381.22,439.59 L384,440.56 L386.77,439.18 L389.54,438.21 L391.62,436.82 L393.7,435.43 L395.79,436.82 L397.87,437.37 L399.95,436.4 L402.03,435.02 L404.8,434.74 L407.57,434.6 L409.93,434.04 L411.74,435.02 L413.82,434.04 L415.48,432.66 L417.28,434.32 L419.36,435.02 L421.44,435.99 L423.52,437.37 L425.6,439.87 L427.69,441.53 L431.15,441.95 L432.7,441.95" fill="none" stroke="#14145a" stroke-width="0.7" stroke-linejoin="round"/>
<line x1="247.4" y1="441.95" x2="432.7" y2="441.95" stroke="#5a5a66" stroke-width="0.8"/>
<path d="M247,455.6 L247,454.21 L249.08,453.8 L251.16,454.91 L253.93,454.63 L256.71,453.52 L258.79,455.18 L260.87,455.18 L262.95,454.21 L265.03,451.44 L267.11,448.67 L269.19,447.97 L271.97,448.25 L274.74,449.36 L276.82,450.75 L278.62,450.47 L280.29,452.83 L282.37,452.13 L284.45,452.83 L287.22,453.24 L290,454.21 L292.77,452.83 L295.54,451.86 L297.62,450.47 L299.7,449.08 L301.79,450.47 L303.87,451.02 L305.95,450.05 L308.03,448.67 L310.8,448.39 L313.57,448.25 L315.93,447.69 L317.74,448.67 L319.82,447.69 L321.48,446.31 L323.28,447.97 L325.36,448.67 L327.44,449.64 L329.52,451.02 L331.6,453.52 L333.69,455.18 L337.15,455.6 L342.01,455.6 L342.01,455.6 Z" fill="#0000f5"/>
<path d="M247,454.21 L249.08,453.8 L251.16,454.91 L253.93,454.63 L256.71,453.52 L258.79,455.18 L260.87,455.18 L262.95,454.21 L265.03,451.44 L267.11,448.67 L269.19,447.97 L271.97,448.25 L274.74,449.36 L276.82,450.75 L278.62,450.47 L280.29,452.83 L282.37,452.13 L284.45,452.83 L287.22,453.24 L290,454.21 L292.77,452.83 L295.54,451.86 L297.62,450.47 L299.7,449.08 L301.79,450.47 L303.87,451.02 L305.95,450.05 L308.03,448.67 L310.8,448.39 L313.57,448.25 L315.93,447.69 L317.74,448.67 L319.82,447.69 L321.48,446.31 L323.28,447.97 L325.36,448.67 L327.44,449.64 L329.52,451.02 L331.6,453.52 L333.69,455.18 L337.15,455.6 L342.01,455.6" fill="none" stroke="#14145a" stroke-width="0.7" stroke-linejoin="round"/>
<path d="M341,455.6 L341,455.6 L345.16,455.32 L347.93,455.05 L350.71,454.77 L353.48,454.63 L356.26,455.32 L359.03,453.94 L361.8,452.55 L364.58,451.16 L367.35,450.88 L370.13,451.16 L372.21,450.88 L374.29,452.55 L376.37,454.21 L377.75,453.24 L379.83,454.63 L382.61,453.66 L385.38,453.94 L387.46,451.86 L389.54,449.77 L391.62,448.39 L393.7,449.5 L396.48,450.47 L399.25,449.77 L402.03,449.08 L404.8,450.05 L407.57,449.5 L411.04,448.39 L413.12,449.08 L415.9,449.5 L418.67,449.77 L421.44,450.47 L424.22,451.86 L426.99,453.24 L429.77,454.63 L432.54,455.32 L432.7,455.6 L432.7,455.6 Z" fill="#0000f5"/>
<path d="M341,455.6 L345.16,455.32 L347.93,455.05 L350.71,454.77 L353.48,454.63 L356.26,455.32 L359.03,453.94 L361.8,452.55 L364.58,451.16 L367.35,450.88 L370.13,451.16 L372.21,450.88 L374.29,452.55 L376.37,454.21 L377.75,453.24 L379.83,454.63 L382.61,453.66 L385.38,453.94 L387.46,451.86 L389.54,449.77 L391.62,448.39 L393.7,449.5 L396.48,450.47 L399.25,449.77 L402.03,449.08 L404.8,450.05 L407.57,449.5 L411.04,448.39 L413.12,449.08 L415.9,449.5 L418.67,449.77 L421.44,450.47 L424.22,451.86 L426.99,453.24 L429.77,454.63 L432.54,455.32 L432.7,455.6" fill="none" stroke="#14145a" stroke-width="0.7" stroke-linejoin="round"/>
<line x1="247.4" y1="455.6" x2="432.7" y2="455.6" stroke="#5a5a66" stroke-width="0.8"/>
<path d="M247,469.25 L247,469.25 L251.16,468.97 L253.93,468.7 L256.71,468.42 L259.48,468.28 L262.26,468.97 L265.03,467.59 L267.8,466.2 L270.58,464.81 L273.35,464.53 L276.13,464.81 L278.21,464.53 L280.29,466.2 L282.37,467.86 L283.75,466.89 L285.83,468.28 L288.61,467.31 L291.38,467.59 L293.46,465.51 L295.54,463.42 L297.62,462.04 L299.7,463.15 L302.48,464.12 L305.25,463.42 L308.03,462.73 L310.8,463.7 L313.57,463.15 L317.04,462.04 L319.12,462.73 L321.9,463.15 L324.67,463.42 L327.44,464.12 L330.22,465.51 L332.99,466.89 L335.77,468.28 L338.54,468.97 L342.01,469.25 L342.01,469.25 Z" fill="#0000f5"/>
<path d="M247,469.25 L251.16,468.97 L253.93,468.7 L256.71,468.42 L259.48,468.28 L262.26,468.97 L265.03,467.59 L267.8,466.2 L270.58,464.81 L273.35,464.53 L276.13,464.81 L278.21,464.53 L280.29,466.2 L282.37,467.86 L283.75,466.89 L285.83,468.28 L288.61,467.31 L291.38,467.59 L293.46,465.51 L295.54,463.42 L297.62,462.04 L299.7,463.15 L302.48,464.12 L305.25,463.42 L308.03,462.73 L310.8,463.7 L313.57,463.15 L317.04,462.04 L319.12,462.73 L321.9,463.15 L324.67,463.42 L327.44,464.12 L330.22,465.51 L332.99,466.89 L335.77,468.28 L338.54,468.97 L342.01,469.25" fill="none" stroke="#14145a" stroke-width="0.7" stroke-linejoin="round"/>
<path d="M341,469.25 L341,469.11 L345.16,469.11 L347.93,468.83 L350.71,468.42 L353.48,468.83 L357.64,469.11 L361.8,468 L364.58,466.61 L366.66,465.64 L368.74,467.03 L370.82,466.61 L372.62,465.23 L374.29,467.03 L377.06,467.45 L379.83,467.45 L382.61,468.42 L385.38,469.11 L387.46,467.03 L389.54,464.67 L391.21,463.56 L393.01,464.95 L394.4,467.03 L396.48,465.23 L399.25,464.67 L402.03,464.4 L404.8,463.84 L407.57,463.56 L410.35,463.56 L413.12,463.29 L415.9,462.87 L418.67,462.45 L420.75,462.45 L422.83,464.26 L425.6,465.64 L428.38,467.03 L431.15,468 L432.7,469.11 L432.7,469.25 L432.7,469.25 Z" fill="#0000f5"/>
<path d="M341,469.11 L345.16,469.11 L347.93,468.83 L350.71,468.42 L353.48,468.83 L357.64,469.11 L361.8,468 L364.58,466.61 L366.66,465.64 L368.74,467.03 L370.82,466.61 L372.62,465.23 L374.29,467.03 L377.06,467.45 L379.83,467.45 L382.61,468.42 L385.38,469.11 L387.46,467.03 L389.54,464.67 L391.21,463.56 L393.01,464.95 L394.4,467.03 L396.48,465.23 L399.25,464.67 L402.03,464.4 L404.8,463.84 L407.57,463.56 L410.35,463.56 L413.12,463.29 L415.9,462.87 L418.67,462.45 L420.75,462.45 L422.83,464.26 L425.6,465.64 L428.38,467.03 L431.15,468 L432.7,469.11 L432.7,469.25" fill="none" stroke="#14145a" stroke-width="0.7" stroke-linejoin="round"/>
<line x1="247.4" y1="469.25" x2="432.7" y2="469.25" stroke="#5a5a66" stroke-width="0.8"/>
<path d="M247,482.9 L247,482.76 L251.16,482.76 L253.93,482.48 L256.71,482.07 L259.48,482.48 L263.64,482.76 L267.8,481.65 L270.58,480.26 L272.66,479.29 L274.74,480.68 L276.82,480.26 L278.62,478.88 L280.29,480.68 L283.06,481.1 L285.83,481.1 L288.61,482.07 L291.38,482.76 L293.46,480.68 L295.54,478.32 L297.21,477.21 L299.01,478.6 L300.4,480.68 L302.48,478.88 L305.25,478.32 L308.03,478.05 L310.8,477.49 L313.57,477.21 L316.35,477.21 L319.12,476.94 L321.9,476.52 L324.67,476.1 L326.75,476.1 L328.83,477.91 L331.6,479.29 L334.38,480.68 L337.15,481.65 L339.93,482.76 L342.01,482.9 L342.01,482.9 Z" fill="#0000f5"/>
<path d="M247,482.76 L251.16,482.76 L253.93,482.48 L256.71,482.07 L259.48,482.48 L263.64,482.76 L267.8,481.65 L270.58,480.26 L272.66,479.29 L274.74,480.68 L276.82,480.26 L278.62,478.88 L280.29,480.68 L283.06,481.1 L285.83,481.1 L288.61,482.07 L291.38,482.76 L293.46,480.68 L295.54,478.32 L297.21,477.21 L299.01,478.6 L300.4,480.68 L302.48,478.88 L305.25,478.32 L308.03,478.05 L310.8,477.49 L313.57,477.21 L316.35,477.21 L319.12,476.94 L321.9,476.52 L324.67,476.1 L326.75,476.1 L328.83,477.91 L331.6,479.29 L334.38,480.68 L337.15,481.65 L339.93,482.76 L342.01,482.9" fill="none" stroke="#14145a" stroke-width="0.7" stroke-linejoin="round"/>
<path d="M341,482.9 L341,482.62 L343.77,482.62 L346.55,481.51 L348.63,482.62 L352.1,482.9 L357.64,482.9 L363.19,482.9 L365.27,482.21 L368.05,481.51 L370.82,480.82 L372.9,479.43 L374.56,478.74 L376.37,479.85 L378.45,481.24 L380.53,482.62 L382.61,481.51 L385.38,481.24 L388.16,480.82 L390.93,481.24 L393.7,480.13 L396.48,479.02 L399.25,479.43 L402.03,479.02 L404.8,478.46 L407.57,478.05 L410.35,476.24 L412.43,477.35 L414.51,477.63 L417.28,477.35 L420.06,477.07 L422.83,477.35 L425.6,477.35 L428.38,478.46 L431.15,480.4 L432.7,482.21 L432.7,482.9 L432.7,482.9 Z" fill="#0000f5"/>
<path d="M341,482.62 L343.77,482.62 L346.55,481.51 L348.63,482.62 L352.1,482.9 L357.64,482.9 L363.19,482.9 L365.27,482.21 L368.05,481.51 L370.82,480.82 L372.9,479.43 L374.56,478.74 L376.37,479.85 L378.45,481.24 L380.53,482.62 L382.61,481.51 L385.38,481.24 L388.16,480.82 L390.93,481.24 L393.7,480.13 L396.48,479.02 L399.25,479.43 L402.03,479.02 L404.8,478.46 L407.57,478.05 L410.35,476.24 L412.43,477.35 L414.51,477.63 L417.28,477.35 L420.06,477.07 L422.83,477.35 L425.6,477.35 L428.38,478.46 L431.15,480.4 L432.7,482.21 L432.7,482.9" fill="none" stroke="#14145a" stroke-width="0.7" stroke-linejoin="round"/>
<line x1="247.4" y1="482.9" x2="432.7" y2="482.9" stroke="#5a5a66" stroke-width="0.8"/>
<path d="M247,496.55 L247,496.27 L249.77,496.27 L252.55,495.16 L254.63,496.27 L258.1,496.55 L263.64,496.55 L269.19,496.55 L271.27,495.86 L274.05,495.16 L276.82,494.47 L278.9,493.08 L280.56,492.39 L282.37,493.5 L284.45,494.89 L286.53,496.27 L288.61,495.16 L291.38,494.89 L294.16,494.47 L296.93,494.89 L299.7,493.78 L302.48,492.67 L305.25,493.08 L308.03,492.67 L310.8,492.11 L313.57,491.7 L316.35,489.89 L318.43,491 L320.51,491.28 L323.28,491 L326.06,490.72 L328.83,491 L331.6,491 L334.38,492.11 L337.15,494.05 L339.93,495.86 L342.01,496.55 L342.01,496.55 Z" fill="#0000f5"/>
<path d="M247,496.27 L249.77,496.27 L252.55,495.16 L254.63,496.27 L258.1,496.55 L263.64,496.55 L269.19,496.55 L271.27,495.86 L274.05,495.16 L276.82,494.47 L278.9,493.08 L280.56,492.39 L282.37,493.5 L284.45,494.89 L286.53,496.27 L288.61,495.16 L291.38,494.89 L294.16,494.47 L296.93,494.89 L299.7,493.78 L302.48,492.67 L305.25,493.08 L308.03,492.67 L310.8,492.11 L313.57,491.7 L316.35,489.89 L318.43,491 L320.51,491.28 L323.28,491 L326.06,490.72 L328.83,491 L331.6,491 L334.38,492.11 L337.15,494.05 L339.93,495.86 L342.01,496.55" fill="none" stroke="#14145a" stroke-width="0.7" stroke-linejoin="round"/>
<path d="M341,496.55 L341,496.41 L346.55,496.41 L352.1,496.41 L357.64,496.41 L360.42,496 L363.19,495.58 L367.35,495.3 L370.13,493.22 L372.21,495.3 L374.29,496 L377.06,495.3 L379.83,495.02 L382.61,495.3 L385.38,495.02 L388.16,495.02 L390.93,494.61 L393.7,493.64 L396.48,493.64 L398.56,494.61 L400.64,493.64 L402.72,492.25 L404.8,492.25 L407.57,492.81 L410.35,492.25 L413.12,491.83 L415.9,491.42 L417.98,490.86 L419.36,490.03 L421.44,490.86 L424.22,490.45 L426.99,490.45 L429.77,491.14 L431.85,493.22 L432.7,495.58 L432.7,496.41 L432.7,496.55 Z" fill="#0000f5"/>
<path d="M341,496.41 L346.55,496.41 L352.1,496.41 L357.64,496.41 L360.42,496 L363.19,495.58 L367.35,495.3 L370.13,493.22 L372.21,495.3 L374.29,496 L377.06,495.3 L379.83,495.02 L382.61,495.3 L385.38,495.02 L388.16,495.02 L390.93,494.61 L393.7,493.64 L396.48,493.64 L398.56,494.61 L400.64,493.64 L402.72,492.25 L404.8,492.25 L407.57,492.81 L410.35,492.25 L413.12,491.83 L415.9,491.42 L417.98,490.86 L419.36,490.03 L421.44,490.86 L424.22,490.45 L426.99,490.45 L429.77,491.14 L431.85,493.22 L432.7,495.58 L432.7,496.41" fill="none" stroke="#14145a" stroke-width="0.7" stroke-linejoin="round"/>
<line x1="247.4" y1="496.55" x2="432.7" y2="496.55" stroke="#5a5a66" stroke-width="0.8"/>
<path d="M247,510.2 L247,510.06 L252.55,510.06 L258.1,510.06 L263.64,510.06 L266.42,509.65 L269.19,509.23 L273.35,508.95 L276.13,506.87 L278.21,508.95 L280.29,509.65 L283.06,508.95 L285.83,508.67 L288.61,508.95 L291.38,508.67 L294.16,508.67 L296.93,508.26 L299.7,507.29 L302.48,507.29 L304.56,508.26 L306.64,507.29 L308.72,505.9 L310.8,505.9 L313.57,506.46 L316.35,505.9 L319.12,505.48 L321.9,505.07 L323.98,504.51 L325.36,503.68 L327.44,504.51 L330.22,504.1 L332.99,504.1 L335.77,504.79 L337.85,506.87 L339.93,509.23 L342.01,510.06 L342.01,510.2 Z" fill="#0000f5"/>
<path d="M247,510.06 L252.55,510.06 L258.1,510.06 L263.64,510.06 L266.42,509.65 L269.19,509.23 L273.35,508.95 L276.13,506.87 L278.21,508.95 L280.29,509.65 L283.06,508.95 L285.83,508.67 L288.61,508.95 L291.38,508.67 L294.16,508.67 L296.93,508.26 L299.7,507.29 L302.48,507.29 L304.56,508.26 L306.64,507.29 L308.72,505.9 L310.8,505.9 L313.57,506.46 L316.35,505.9 L319.12,505.48 L321.9,505.07 L323.98,504.51 L325.36,503.68 L327.44,504.51 L330.22,504.1 L332.99,504.1 L335.77,504.79 L337.85,506.87 L339.93,509.23 L342.01,510.06" fill="none" stroke="#14145a" stroke-width="0.7" stroke-linejoin="round"/>
<path d="M341,510.2 L341,509.65 L345.16,509.78 L348.63,509.65 L350.71,508.67 L352.1,510.06 L357.64,510.2 L363.19,510.2 L368.74,510.06 L372.9,509.37 L375.67,508.67 L378.45,508.26 L381.22,507.98 L383.3,507.43 L385.38,508.67 L388.16,507.98 L390.93,507.7 L393.01,508.26 L395.09,507.7 L397.87,507.29 L400.64,506.87 L403.41,507.7 L406.19,507.29 L408.96,507.7 L411.04,506.32 L413.12,505.9 L415.9,506.32 L417.98,505.48 L420.06,504.51 L422.14,505.21 L424.22,506.32 L426.3,505.9 L428.38,506.87 L430.46,506.32 L432.54,505.9 L432.7,507.7 L432.7,509.09 L432.7,510.2 Z" fill="#0000f5"/>
<path d="M341,509.65 L345.16,509.78 L348.63,509.65 L350.71,508.67 L352.1,510.06 L357.64,510.2 L363.19,510.2 L368.74,510.06 L372.9,509.37 L375.67,508.67 L378.45,508.26 L381.22,507.98 L383.3,507.43 L385.38,508.67 L388.16,507.98 L390.93,507.7 L393.01,508.26 L395.09,507.7 L397.87,507.29 L400.64,506.87 L403.41,507.7 L406.19,507.29 L408.96,507.7 L411.04,506.32 L413.12,505.9 L415.9,506.32 L417.98,505.48 L420.06,504.51 L422.14,505.21 L424.22,506.32 L426.3,505.9 L428.38,506.87 L430.46,506.32 L432.54,505.9 L432.7,507.7 L432.7,509.09" fill="none" stroke="#14145a" stroke-width="0.7" stroke-linejoin="round"/>
<line x1="247.4" y1="510.2" x2="432.7" y2="510.2" stroke="#5a5a66" stroke-width="0.8"/>
<path d="M247,523.85 L247,523.3 L251.16,523.43 L254.63,523.3 L256.71,522.32 L258.1,523.71 L263.64,523.85 L269.19,523.85 L274.74,523.71 L278.9,523.02 L281.67,522.32 L284.45,521.91 L287.22,521.63 L289.3,521.08 L291.38,522.32 L294.16,521.63 L296.93,521.35 L299.01,521.91 L301.09,521.35 L303.87,520.94 L306.64,520.52 L309.41,521.35 L312.19,520.94 L314.96,521.35 L317.04,519.97 L319.12,519.55 L321.9,519.97 L323.98,519.13 L326.06,518.16 L328.14,518.86 L330.22,519.97 L332.3,519.55 L334.38,520.52 L336.46,519.97 L338.54,519.55 L340.62,521.35 L342.01,522.74 L342.01,523.85 Z" fill="#0000f5"/>
<path d="M247,523.3 L251.16,523.43 L254.63,523.3 L256.71,522.32 L258.1,523.71 L263.64,523.85 L269.19,523.85 L274.74,523.71 L278.9,523.02 L281.67,522.32 L284.45,521.91 L287.22,521.63 L289.3,521.08 L291.38,522.32 L294.16,521.63 L296.93,521.35 L299.01,521.91 L301.09,521.35 L303.87,520.94 L306.64,520.52 L309.41,521.35 L312.19,520.94 L314.96,521.35 L317.04,519.97 L319.12,519.55 L321.9,519.97 L323.98,519.13 L326.06,518.16 L328.14,518.86 L330.22,519.97 L332.3,519.55 L334.38,520.52 L336.46,519.97 L338.54,519.55 L340.62,521.35 L342.01,522.74" fill="none" stroke="#14145a" stroke-width="0.7" stroke-linejoin="round"/>
<path d="M341,523.85 L341,522.46 L343.77,521.91 L346.55,522.46 L349.32,520.52 L351.4,522.19 L353.48,522.46 L356.26,522.88 L359.03,523.02 L361.8,523.85 L365.97,523.85 L370.13,523.02 L372.9,523.3 L375.67,523.3 L378.45,523.02 L381.22,522.6 L384,522.19 L386.77,522.6 L389.54,522.88 L392.32,522.19 L394.4,522.88 L397.17,521.08 L399.25,521.91 L402.03,521.08 L404.8,521.49 L407.57,521.08 L410.35,520.8 L413.12,519.69 L415.2,518.72 L417.28,519.69 L420.06,519.41 L422.83,519.13 L425.6,519.13 L428.38,519.41 L431.15,519.41 L432.54,519.69 L432.7,519.69 L432.7,523.85 Z" fill="#0000f5"/>
<path d="M341,522.46 L343.77,521.91 L346.55,522.46 L349.32,520.52 L351.4,522.19 L353.48,522.46 L356.26,522.88 L359.03,523.02 L361.8,523.85 L365.97,523.85 L370.13,523.02 L372.9,523.3 L375.67,523.3 L378.45,523.02 L381.22,522.6 L384,522.19 L386.77,522.6 L389.54,522.88 L392.32,522.19 L394.4,522.88 L397.17,521.08 L399.25,521.91 L402.03,521.08 L404.8,521.49 L407.57,521.08 L410.35,520.8 L413.12,519.69 L415.2,518.72 L417.28,519.69 L420.06,519.41 L422.83,519.13 L425.6,519.13 L428.38,519.41 L431.15,519.41 L432.54,519.69 L432.7,519.69" fill="none" stroke="#14145a" stroke-width="0.7" stroke-linejoin="round"/>
<line x1="247.4" y1="523.85" x2="432.7" y2="523.85" stroke="#5a5a66" stroke-width="0.8"/>
<path d="M247,537.5 L247,536.11 L249.77,535.56 L252.55,536.11 L255.32,534.17 L257.4,535.84 L259.48,536.11 L262.26,536.53 L265.03,536.67 L267.8,537.5 L271.97,537.5 L276.13,536.67 L278.9,536.95 L281.67,536.95 L284.45,536.67 L287.22,536.25 L290,535.84 L292.77,536.25 L295.54,536.53 L298.32,535.84 L300.4,536.53 L303.17,534.73 L305.25,535.56 L308.03,534.73 L310.8,535.14 L313.57,534.73 L316.35,534.45 L319.12,533.34 L321.2,532.37 L323.28,533.34 L326.06,533.06 L328.83,532.78 L331.6,532.78 L334.38,533.06 L337.15,533.06 L338.54,533.34 L339.79,533.34 L339.79,537.5 Z" fill="#0000f5"/>
<path d="M247,536.11 L249.77,535.56 L252.55,536.11 L255.32,534.17 L257.4,535.84 L259.48,536.11 L262.26,536.53 L265.03,536.67 L267.8,537.5 L271.97,537.5 L276.13,536.67 L278.9,536.95 L281.67,536.95 L284.45,536.67 L287.22,536.25 L290,535.84 L292.77,536.25 L295.54,536.53 L298.32,535.84 L300.4,536.53 L303.17,534.73 L305.25,535.56 L308.03,534.73 L310.8,535.14 L313.57,534.73 L316.35,534.45 L319.12,533.34 L321.2,532.37 L323.28,533.34 L326.06,533.06 L328.83,532.78 L331.6,532.78 L334.38,533.06 L337.15,533.06 L338.54,533.34 L339.79,533.34" fill="none" stroke="#14145a" stroke-width="0.7" stroke-linejoin="round"/>
<line x1="247.4" y1="537.5" x2="432.7" y2="537.5" stroke="#5a5a66" stroke-width="0.8"/>
<line x1="247.4" y1="538.1" x2="432.7" y2="538.1" stroke="#707070" stroke-width="1.3"/>
<line x1="432.7" y1="538.3" x2="434.7" y2="538.3" stroke="#b0b0b0" stroke-width="1"/>
<line x1="247.4" y1="402.2" x2="247.4" y2="538.7" stroke="#666" stroke-width="1"/>
<text x="242.9" y="417.25" font-size="6.3" text-anchor="end" fill="#3a3a3a">1</text>
<text x="242.9" y="430.9" font-size="6.3" text-anchor="end" fill="#3a3a3a">2</text>
<text x="242.9" y="444.55" font-size="6.3" text-anchor="end" fill="#3a3a3a">3</text>
<text x="242.9" y="458.2" font-size="6.3" text-anchor="end" fill="#3a3a3a">4</text>
<text x="242.9" y="471.85" font-size="6.3" text-anchor="end" fill="#3a3a3a">5</text>
<text x="242.9" y="485.5" font-size="6.3" text-anchor="end" fill="#3a3a3a">6</text>
<text x="242.9" y="499.15" font-size="6.3" text-anchor="end" fill="#3a3a3a">7</text>
<text x="242.9" y="512.8" font-size="6.3" text-anchor="end" fill="#3a3a3a">8</text>
<text x="242.9" y="526.45" font-size="6.3" text-anchor="end" fill="#3a3a3a">9</text>
<text x="242.9" y="540.1" font-size="6.3" text-anchor="end" fill="#3a3a3a">10</text>
<text transform="translate(235.4,470.5) rotate(-90)" font-size="6.3" text-anchor="middle" fill="#3a3a3a" textLength="11" lengthAdjust="spacingAndGlyphs">day</text>
<text x="272.6" y="547.3" font-size="6.3" text-anchor="middle" fill="#3a3a3a">0</text>
<text x="319.58" y="547.3" font-size="6.3" text-anchor="middle" fill="#3a3a3a" textLength="7.4" lengthAdjust="spacingAndGlyphs">12</text>
<text x="366.56" y="547.3" font-size="6.3" text-anchor="middle" fill="#3a3a3a" textLength="7.4" lengthAdjust="spacingAndGlyphs">24</text>
<text x="413.54" y="547.3" font-size="6.3" text-anchor="middle" fill="#3a3a3a" textLength="7.4" lengthAdjust="spacingAndGlyphs">36</text>
<text x="344.3" y="555.7" font-size="6.3" text-anchor="middle" fill="#3a3a3a" textLength="27.4" lengthAdjust="spacingAndGlyphs">time (ZT)</text>
<rect x="247.3" y="695.22" width="3.9" height="16.58" fill="#828282" stroke="#333" stroke-width="0.7"/>
<rect x="251.2" y="698.09" width="3.9" height="13.71" fill="#828282" stroke="#333" stroke-width="0.7"/>
<rect x="255.11" y="695.98" width="3.9" height="15.82" fill="#828282" stroke="#333" stroke-width="0.7"/>
<rect x="259.01" y="693.11" width="3.9" height="18.69" fill="#828282" stroke="#333" stroke-width="0.7"/>
<rect x="262.92" y="692.21" width="3.9" height="19.59" fill="#828282" stroke="#333" stroke-width="0.7"/>
<rect x="266.82" y="698.24" width="3.9" height="13.56" fill="#828282" stroke="#333" stroke-width="0.7"/>
<rect x="270.73" y="704.11" width="3.9" height="7.69" fill="#828282" stroke="#333" stroke-width="0.7"/>
<rect x="274.63" y="696.13" width="3.9" height="15.67" fill="#828282" stroke="#333" stroke-width="0.7"/>
<rect x="278.53" y="686.33" width="3.9" height="25.47" fill="#828282" stroke="#333" stroke-width="0.7"/>
<rect x="282.44" y="640.37" width="3.9" height="71.43" fill="#828282" stroke="#333" stroke-width="0.7"/>
<rect x="286.34" y="633.13" width="3.9" height="78.67" fill="#828282" stroke="#333" stroke-width="0.7"/>
<rect x="290.25" y="641.12" width="3.9" height="70.68" fill="#828282" stroke="#333" stroke-width="0.7"/>
<rect x="294.15" y="609.02" width="3.9" height="102.78" fill="#fff" stroke="#333" stroke-width="0.7"/>
<rect x="298.05" y="655.44" width="3.9" height="56.36" fill="#fff" stroke="#333" stroke-width="0.7"/>
<rect x="301.96" y="684.22" width="3.9" height="27.58" fill="#fff" stroke="#333" stroke-width="0.7"/>
<rect x="305.86" y="692.66" width="3.9" height="19.14" fill="#fff" stroke="#333" stroke-width="0.7"/>
<rect x="309.77" y="705.47" width="3.9" height="6.33" fill="#fff" stroke="#333" stroke-width="0.7"/>
<rect x="313.67" y="707.28" width="3.9" height="4.52" fill="#fff" stroke="#333" stroke-width="0.7"/>
<rect x="317.57" y="708.48" width="3.9" height="3.32" fill="#fff" stroke="#333" stroke-width="0.7"/>
<rect x="321.48" y="708.48" width="3.9" height="3.32" fill="#fff" stroke="#333" stroke-width="0.7"/>
<rect x="325.38" y="710.9" width="3.9" height="0.9" fill="#fff" stroke="#333" stroke-width="0.7"/>
<rect x="329.29" y="711.2" width="3.9" height="0.6" fill="#fff" stroke="#333" stroke-width="0.7"/>
<rect x="333.19" y="711.2" width="3.9" height="0.6" fill="#fff" stroke="#333" stroke-width="0.7"/>
<rect x="337.1" y="709.99" width="3.9" height="1.81" fill="#fff" stroke="#333" stroke-width="0.7"/>
<rect x="341" y="709.99" width="3.9" height="1.81" fill="#fff" stroke="#333" stroke-width="0.7"/>
<rect x="344.9" y="711.2" width="3.9" height="0.6" fill="#fff" stroke="#333" stroke-width="0.7"/>
<rect x="348.81" y="709.09" width="3.9" height="2.71" fill="#fff" stroke="#333" stroke-width="0.7"/>
<rect x="352.71" y="709.09" width="3.9" height="2.71" fill="#fff" stroke="#333" stroke-width="0.7"/>
<rect x="356.62" y="710.75" width="3.9" height="1.05" fill="#fff" stroke="#333" stroke-width="0.7"/>
<rect x="360.52" y="707.43" width="3.9" height="4.37" fill="#fff" stroke="#333" stroke-width="0.7"/>
<rect x="364.43" y="704.42" width="3.9" height="7.38" fill="#fff" stroke="#333" stroke-width="0.7"/>
<rect x="368.33" y="698.24" width="3.9" height="13.56" fill="#fff" stroke="#333" stroke-width="0.7"/>
<rect x="372.23" y="682.87" width="3.9" height="28.93" fill="#fff" stroke="#333" stroke-width="0.7"/>
<rect x="376.14" y="663.43" width="3.9" height="48.37" fill="#fff" stroke="#333" stroke-width="0.7"/>
<rect x="380.04" y="643.53" width="3.9" height="68.27" fill="#fff" stroke="#333" stroke-width="0.7"/>
<rect x="383.95" y="606.46" width="3.9" height="105.34" fill="#fff" stroke="#333" stroke-width="0.7"/>
<rect x="387.85" y="583.1" width="3.9" height="128.7" fill="#828282" stroke="#333" stroke-width="0.7"/>
<rect x="391.75" y="607.21" width="3.9" height="104.59" fill="#828282" stroke="#333" stroke-width="0.7"/>
<rect x="395.66" y="647.9" width="3.9" height="63.9" fill="#828282" stroke="#333" stroke-width="0.7"/>
<rect x="399.56" y="690.85" width="3.9" height="20.95" fill="#828282" stroke="#333" stroke-width="0.7"/>
<rect x="403.47" y="708.03" width="3.9" height="3.77" fill="#828282" stroke="#333" stroke-width="0.7"/>
<rect x="407.37" y="709.69" width="3.9" height="2.11" fill="#828282" stroke="#333" stroke-width="0.7"/>
<rect x="411.27" y="711.2" width="3.9" height="0.6" fill="#828282" stroke="#333" stroke-width="0.7"/>
<rect x="415.18" y="710.59" width="3.9" height="1.21" fill="#828282" stroke="#333" stroke-width="0.7"/>
<rect x="419.08" y="706.98" width="3.9" height="4.82" fill="#828282" stroke="#333" stroke-width="0.7"/>
<rect x="422.99" y="709.69" width="3.9" height="2.11" fill="#828282" stroke="#333" stroke-width="0.7"/>
<rect x="426.89" y="705.92" width="3.9" height="5.88" fill="#828282" stroke="#333" stroke-width="0.7"/>
<rect x="430.8" y="696.58" width="3.9" height="15.22" fill="#828282" stroke="#333" stroke-width="0.7"/>
<circle cx="249.25" cy="690.55" r="0.75" fill="#b82048"/>
<circle cx="253.16" cy="697.48" r="0.75" fill="#b82048"/>
<circle cx="257.06" cy="691.46" r="0.75" fill="#b82048"/>
<circle cx="260.96" cy="689.65" r="0.75" fill="#b82048"/>
<circle cx="264.87" cy="690.1" r="0.75" fill="#b82048"/>
<circle cx="268.77" cy="693.87" r="0.75" fill="#b82048"/>
<circle cx="272.68" cy="700.65" r="0.75" fill="#b82048"/>
<circle cx="276.58" cy="689.8" r="0.75" fill="#b82048"/>
<circle cx="280.49" cy="683.77" r="0.75" fill="#b82048"/>
<circle cx="284.39" cy="634.34" r="0.75" fill="#b82048"/>
<circle cx="288.29" cy="629.22" r="0.75" fill="#b82048"/>
<circle cx="292.2" cy="637.81" r="0.75" fill="#b82048"/>
<circle cx="296.1" cy="599.98" r="0.75" fill="#b82048"/>
<circle cx="300.01" cy="650.92" r="0.75" fill="#b82048"/>
<circle cx="303.91" cy="680.3" r="0.75" fill="#b82048"/>
<circle cx="307.81" cy="689.5" r="0.75" fill="#b82048"/>
<circle cx="311.72" cy="704.57" r="0.75" fill="#b82048"/>
<circle cx="315.62" cy="705.47" r="0.75" fill="#b82048"/>
<circle cx="319.53" cy="706.68" r="0.75" fill="#b82048"/>
<circle cx="323.43" cy="705.47" r="0.75" fill="#b82048"/>
<circle cx="327.34" cy="710.59" r="0.75" fill="#b82048"/>
<circle cx="331.24" cy="711.8" r="0.75" fill="#b82048"/>
<circle cx="335.14" cy="711.5" r="0.75" fill="#b82048"/>
<circle cx="339.05" cy="709.39" r="0.75" fill="#b82048"/>
<circle cx="342.95" cy="709.39" r="0.75" fill="#b82048"/>
<circle cx="346.86" cy="710.9" r="0.75" fill="#b82048"/>
<circle cx="350.76" cy="706.98" r="0.75" fill="#b82048"/>
<circle cx="354.66" cy="708.03" r="0.75" fill="#b82048"/>
<circle cx="358.57" cy="710.75" r="0.75" fill="#b82048"/>
<circle cx="362.47" cy="704.42" r="0.75" fill="#b82048"/>
<circle cx="366.38" cy="699.29" r="0.75" fill="#b82048"/>
<circle cx="370.28" cy="695.07" r="0.75" fill="#b82048"/>
<circle cx="374.19" cy="680.15" r="0.75" fill="#b82048"/>
<circle cx="378.09" cy="659.21" r="0.75" fill="#b82048"/>
<circle cx="381.99" cy="641.42" r="0.75" fill="#b82048"/>
<circle cx="385.9" cy="595.61" r="0.75" fill="#b82048"/>
<circle cx="389.8" cy="579.33" r="0.75" fill="#b82048"/>
<circle cx="393.71" cy="603.45" r="0.75" fill="#b82048"/>
<circle cx="397.61" cy="637.35" r="0.75" fill="#b82048"/>
<circle cx="401.51" cy="686.48" r="0.75" fill="#b82048"/>
<circle cx="405.42" cy="707.43" r="0.75" fill="#b82048"/>
<circle cx="409.32" cy="709.09" r="0.75" fill="#b82048"/>
<circle cx="413.23" cy="711.8" r="0.75" fill="#b82048"/>
<circle cx="417.13" cy="710.75" r="0.75" fill="#b82048"/>
<circle cx="421.04" cy="705.32" r="0.75" fill="#b82048"/>
<circle cx="424.94" cy="708.48" r="0.75" fill="#b82048"/>
<circle cx="428.84" cy="702.31" r="0.75" fill="#b82048"/>
<circle cx="432.75" cy="687.69" r="0.75" fill="#b82048"/>
<line x1="247.3" y1="576.17" x2="247.3" y2="711.8" stroke="#777" stroke-width="1"/>
<line x1="247.3" y1="712.1" x2="434.7" y2="712.1" stroke="#888" stroke-width="1"/>
<line x1="247.3" y1="711.8" x2="249.3" y2="711.8" stroke="#777" stroke-width="0.7"/>
<text x="244.9" y="714" font-size="6.3" text-anchor="end" fill="#3a3a3a">0</text>
<line x1="247.3" y1="696.73" x2="249.3" y2="696.73" stroke="#777" stroke-width="0.7"/>
<text x="244.9" y="698.93" font-size="6.3" text-anchor="end" fill="#3a3a3a" textLength="6" lengthAdjust="spacingAndGlyphs">10</text>
<line x1="247.3" y1="681.66" x2="249.3" y2="681.66" stroke="#777" stroke-width="0.7"/>
<text x="244.9" y="683.86" font-size="6.3" text-anchor="end" fill="#3a3a3a" textLength="6" lengthAdjust="spacingAndGlyphs">20</text>
<line x1="247.3" y1="666.59" x2="249.3" y2="666.59" stroke="#777" stroke-width="0.7"/>
<text x="244.9" y="668.79" font-size="6.3" text-anchor="end" fill="#3a3a3a" textLength="6" lengthAdjust="spacingAndGlyphs">30</text>
<line x1="247.3" y1="651.52" x2="249.3" y2="651.52" stroke="#777" stroke-width="0.7"/>
<text x="244.9" y="653.72" font-size="6.3" text-anchor="end" fill="#3a3a3a" textLength="6" lengthAdjust="spacingAndGlyphs">40</text>
<line x1="247.3" y1="636.45" x2="249.3" y2="636.45" stroke="#777" stroke-width="0.7"/>
<text x="244.9" y="638.65" font-size="6.3" text-anchor="end" fill="#3a3a3a" textLength="6" lengthAdjust="spacingAndGlyphs">50</text>
<line x1="247.3" y1="621.38" x2="249.3" y2="621.38" stroke="#777" stroke-width="0.7"/>
<text x="244.9" y="623.58" font-size="6.3" text-anchor="end" fill="#3a3a3a" textLength="6" lengthAdjust="spacingAndGlyphs">60</text>
<line x1="247.3" y1="606.31" x2="249.3" y2="606.31" stroke="#777" stroke-width="0.7"/>
<text x="244.9" y="608.51" font-size="6.3" text-anchor="end" fill="#3a3a3a" textLength="6" lengthAdjust="spacingAndGlyphs">70</text>
<line x1="247.3" y1="591.24" x2="249.3" y2="591.24" stroke="#777" stroke-width="0.7"/>
<text x="244.9" y="593.44" font-size="6.3" text-anchor="end" fill="#3a3a3a" textLength="6" lengthAdjust="spacingAndGlyphs">80</text>
<line x1="247.3" y1="576.17" x2="249.3" y2="576.17" stroke="#777" stroke-width="0.7"/>
<text x="244.9" y="578.37" font-size="6.3" text-anchor="end" fill="#3a3a3a" textLength="6" lengthAdjust="spacingAndGlyphs">90</text>
<text transform="translate(235.1,643.98) rotate(-90)" font-size="6.3" text-anchor="middle" fill="#3a3a3a">mean activity</text>
<text x="294.15" y="720.4" font-size="6.3" text-anchor="middle" fill="#3a3a3a">ZT0</text>
<text x="387.85" y="720.4" font-size="6.3" text-anchor="middle" fill="#3a3a3a">ZT12</text>
<text x="476.9" y="388.25" font-size="14" font-style="italic" fill="#111" textLength="170.4" lengthAdjust="spacingAndGlyphs">tim-Gal4&gt;CrebB-CrebA-KO</text>
<text x="656.7" y="388.4" font-size="11.2" fill="#1a1a1a" textLength="29.3" lengthAdjust="spacingAndGlyphs">n=15</text>
<rect x="477.4" y="403.1" width="187.3" height="136.5" fill="#d9d9d9"/>
<rect x="662.7" y="403.1" width="2" height="136.5" fill="#cecece"/>
<rect x="510.4" y="403.1" width="46.98" height="12.45" fill="#fff"/>
<rect x="604.36" y="403.1" width="46.98" height="12.45" fill="#fff"/>
<rect x="510.4" y="416.75" width="46.98" height="12.45" fill="#fff"/>
<rect x="604.36" y="416.75" width="46.98" height="12.45" fill="#fff"/>
<rect x="510.4" y="430.4" width="46.98" height="12.45" fill="#fff"/>
<line x1="498.5" y1="403.1" x2="498.5" y2="539.6" stroke="#000" stroke-opacity="0.07" stroke-width="1"/>
<line x1="522.5" y1="403.1" x2="522.5" y2="539.6" stroke="#000" stroke-opacity="0.07" stroke-width="1"/>
<line x1="545.5" y1="403.1" x2="545.5" y2="539.6" stroke="#000" stroke-opacity="0.07" stroke-width="1"/>
<line x1="569.5" y1="403.1" x2="569.5" y2="539.6" stroke="#000" stroke-opacity="0.07" stroke-width="1"/>
<line x1="592.5" y1="403.1" x2="592.5" y2="539.6" stroke="#000" stroke-opacity="0.07" stroke-width="1"/>
<line x1="615.5" y1="403.1" x2="615.5" y2="539.6" stroke="#000" stroke-opacity="0.07" stroke-width="1"/>
<line x1="639.5" y1="403.1" x2="639.5" y2="539.6" stroke="#000" stroke-opacity="0.07" stroke-width="1"/>
<path d="M477,415.55 L477,413.19 L479.08,413.89 L481.16,414.86 L483.24,415.27 L485.32,413.89 L487.4,414.3 L489.48,413.19 L491.56,413.89 L493.64,413.19 L496.42,413.47 L499.19,413.19 L501.27,412.91 L503.35,414.3 L504.74,414.86 L506.82,411.11 L508.9,408.34 L510.29,407.37 L512.37,409.72 L514.45,411.11 L516.53,412.5 L518.61,413.89 L520.69,412.91 L522.77,414.3 L524.85,412.5 L526.93,413.89 L529.7,413.47 L532.48,414.58 L535.25,414.86 L538.03,414.3 L540.8,414.3 L543.57,413.89 L545.65,412.91 L547.74,413.47 L549.82,412.08 L551.2,409.72 L553.28,410.42 L555.36,406.95 L557.17,403.76 L558.83,405.56 L560.22,410.42 L561.6,414.86 L564.38,415.41 L572.01,415.41 L572.01,415.55 Z" fill="#0000f5"/>
<path d="M477,413.19 L479.08,413.89 L481.16,414.86 L483.24,415.27 L485.32,413.89 L487.4,414.3 L489.48,413.19 L491.56,413.89 L493.64,413.19 L496.42,413.47 L499.19,413.19 L501.27,412.91 L503.35,414.3 L504.74,414.86 L506.82,411.11 L508.9,408.34 L510.29,407.37 L512.37,409.72 L514.45,411.11 L516.53,412.5 L518.61,413.89 L520.69,412.91 L522.77,414.3 L524.85,412.5 L526.93,413.89 L529.7,413.47 L532.48,414.58 L535.25,414.86 L538.03,414.3 L540.8,414.3 L543.57,413.89 L545.65,412.91 L547.74,413.47 L549.82,412.08 L551.2,409.72 L553.28,410.42 L555.36,406.95 L557.17,403.76 L558.83,405.56 L560.22,410.42 L561.6,414.86 L564.38,415.41 L572.01,415.41" fill="none" stroke="#14145a" stroke-width="0.7" stroke-linejoin="round"/>
<path d="M571,415.55 L571,414.86 L575.16,414.58 L579.32,414.58 L584.87,414.58 L589.03,414.86 L591.8,414.58 L593.88,413.19 L595.97,412.36 L598.74,411.81 L600.82,410.7 L602.9,407.23 L604.29,404.45 L606.37,407.92 L608.45,410.7 L610.53,412.78 L612.61,414.58 L614.69,413.19 L616.77,412.36 L619.54,412.78 L622.32,413.19 L625.09,412.78 L627.87,413.19 L630.64,412.36 L632.72,413.19 L634.8,412.78 L636.88,413.75 L638.96,414.16 L641.04,412.08 L643.12,410 L645.9,407.92 L647.98,405.84 L650.06,405.15 L651.44,403.48 L652.83,406.53 L654.22,412.08 L655.6,414.58 L658.38,415.13 L662.54,414.86 L662.7,414.58 L662.7,415.55 Z" fill="#0000f5"/>
<path d="M571,414.86 L575.16,414.58 L579.32,414.58 L584.87,414.58 L589.03,414.86 L591.8,414.58 L593.88,413.19 L595.97,412.36 L598.74,411.81 L600.82,410.7 L602.9,407.23 L604.29,404.45 L606.37,407.92 L608.45,410.7 L610.53,412.78 L612.61,414.58 L614.69,413.19 L616.77,412.36 L619.54,412.78 L622.32,413.19 L625.09,412.78 L627.87,413.19 L630.64,412.36 L632.72,413.19 L634.8,412.78 L636.88,413.75 L638.96,414.16 L641.04,412.08 L643.12,410 L645.9,407.92 L647.98,405.84 L650.06,405.15 L651.44,403.48 L652.83,406.53 L654.22,412.08 L655.6,414.58 L658.38,415.13 L662.54,414.86 L662.7,414.58" fill="none" stroke="#14145a" stroke-width="0.7" stroke-linejoin="round"/>
<line x1="477.4" y1="415.55" x2="662.7" y2="415.55" stroke="#5a5a66" stroke-width="0.8"/>
<path d="M477,429.2 L477,428.51 L481.16,428.23 L485.32,428.23 L490.87,428.23 L495.03,428.51 L497.8,428.23 L499.88,426.84 L501.97,426.01 L504.74,425.46 L506.82,424.35 L508.9,420.88 L510.29,418.1 L512.37,421.57 L514.45,424.35 L516.53,426.43 L518.61,428.23 L520.69,426.84 L522.77,426.01 L525.54,426.43 L528.32,426.84 L531.09,426.43 L533.87,426.84 L536.64,426.01 L538.72,426.84 L540.8,426.43 L542.88,427.4 L544.96,427.81 L547.04,425.73 L549.12,423.65 L551.9,421.57 L553.98,419.49 L556.06,418.8 L557.44,417.13 L558.83,420.18 L560.22,425.73 L561.6,428.23 L564.38,428.78 L568.54,428.51 L572.01,428.23 L572.01,429.2 Z" fill="#0000f5"/>
<path d="M477,428.51 L481.16,428.23 L485.32,428.23 L490.87,428.23 L495.03,428.51 L497.8,428.23 L499.88,426.84 L501.97,426.01 L504.74,425.46 L506.82,424.35 L508.9,420.88 L510.29,418.1 L512.37,421.57 L514.45,424.35 L516.53,426.43 L518.61,428.23 L520.69,426.84 L522.77,426.01 L525.54,426.43 L528.32,426.84 L531.09,426.43 L533.87,426.84 L536.64,426.01 L538.72,426.84 L540.8,426.43 L542.88,427.4 L544.96,427.81 L547.04,425.73 L549.12,423.65 L551.9,421.57 L553.98,419.49 L556.06,418.8 L557.44,417.13 L558.83,420.18 L560.22,425.73 L561.6,428.23 L564.38,428.78 L568.54,428.51 L572.01,428.23" fill="none" stroke="#14145a" stroke-width="0.7" stroke-linejoin="round"/>
<path d="M571,429.2 L571,428.78 L573.77,428.78 L576.55,427.67 L579.32,427.12 L581.4,427.4 L583.48,427.12 L586.26,427.67 L589.03,428.09 L591.8,428.51 L593.88,426.7 L595.97,425.73 L598.74,424.9 L600.82,423.24 L602.9,420.46 L604.29,418.38 L606.37,421.16 L608.45,424.9 L610.53,427.4 L612.61,428.09 L615.38,428.51 L618.16,427.67 L620.93,428.09 L623.7,427.67 L626.48,427.67 L629.25,427.67 L632.03,427.67 L634.8,426.7 L637.57,427.67 L639.65,426.7 L641.74,424.35 L643.82,421.57 L646.59,419.77 L648.67,419.08 L651.17,417.69 L652.83,419.77 L654.22,423.93 L655.6,428.09 L658.38,429.06 L662.54,428.78 L662.7,428.78 L662.7,429.2 Z" fill="#0000f5"/>
<path d="M571,428.78 L573.77,428.78 L576.55,427.67 L579.32,427.12 L581.4,427.4 L583.48,427.12 L586.26,427.67 L589.03,428.09 L591.8,428.51 L593.88,426.7 L595.97,425.73 L598.74,424.9 L600.82,423.24 L602.9,420.46 L604.29,418.38 L606.37,421.16 L608.45,424.9 L610.53,427.4 L612.61,428.09 L615.38,428.51 L618.16,427.67 L620.93,428.09 L623.7,427.67 L626.48,427.67 L629.25,427.67 L632.03,427.67 L634.8,426.7 L637.57,427.67 L639.65,426.7 L641.74,424.35 L643.82,421.57 L646.59,419.77 L648.67,419.08 L651.17,417.69 L652.83,419.77 L654.22,423.93 L655.6,428.09 L658.38,429.06 L662.54,428.78 L662.7,428.78" fill="none" stroke="#14145a" stroke-width="0.7" stroke-linejoin="round"/>
<line x1="477.4" y1="429.2" x2="662.7" y2="429.2" stroke="#5a5a66" stroke-width="0.8"/>
<path d="M477,442.85 L477,442.43 L479.77,442.43 L482.55,441.32 L485.32,440.77 L487.4,441.05 L489.48,440.77 L492.26,441.32 L495.03,441.74 L497.8,442.16 L499.88,440.35 L501.97,439.38 L504.74,438.55 L506.82,436.89 L508.9,434.11 L510.29,432.03 L512.37,434.81 L514.45,438.55 L516.53,441.05 L518.61,441.74 L521.38,442.16 L524.16,441.32 L526.93,441.74 L529.7,441.32 L532.48,441.32 L535.25,441.32 L538.03,441.32 L540.8,440.35 L543.57,441.32 L545.65,440.35 L547.74,438 L549.82,435.22 L552.59,433.42 L554.67,432.73 L557.17,431.34 L558.83,433.42 L560.22,437.58 L561.6,441.74 L564.38,442.71 L568.54,442.43 L572.01,442.43 L572.01,442.85 Z" fill="#0000f5"/>
<path d="M477,442.43 L479.77,442.43 L482.55,441.32 L485.32,440.77 L487.4,441.05 L489.48,440.77 L492.26,441.32 L495.03,441.74 L497.8,442.16 L499.88,440.35 L501.97,439.38 L504.74,438.55 L506.82,436.89 L508.9,434.11 L510.29,432.03 L512.37,434.81 L514.45,438.55 L516.53,441.05 L518.61,441.74 L521.38,442.16 L524.16,441.32 L526.93,441.74 L529.7,441.32 L532.48,441.32 L535.25,441.32 L538.03,441.32 L540.8,440.35 L543.57,441.32 L545.65,440.35 L547.74,438 L549.82,435.22 L552.59,433.42 L554.67,432.73 L557.17,431.34 L558.83,433.42 L560.22,437.58 L561.6,441.74 L564.38,442.71 L568.54,442.43 L572.01,442.43" fill="none" stroke="#14145a" stroke-width="0.7" stroke-linejoin="round"/>
<path d="M571,442.85 L571,441.74 L572.39,441.32 L574.47,442.71 L577.93,442.02 L580.71,441.74 L583.48,442.02 L586.26,442.3 L589.03,442.3 L591.11,441.32 L593.19,439.52 L594.86,438.13 L596.66,440.35 L598.74,438.55 L600.82,437.16 L602.9,436.19 L604.29,435.08 L606.37,436.19 L607.75,435.08 L609.14,436.19 L610.53,435.78 L612.33,434.39 L614,436.47 L616.08,437.58 L618.16,438.55 L620.93,438.13 L623.7,436.19 L626.48,436.47 L629.25,436.19 L632.03,436.75 L634.8,435.08 L637.57,434.39 L639.65,433.97 L641.74,435.36 L643.82,434.39 L645.9,432.59 L647.98,433.42 L650.75,434.81 L654.22,436.19 L656.3,437.86 L658.38,440.63 L661.15,441.32 L662.7,441.32 L662.7,441.32 L662.7,442.85 Z" fill="#0000f5"/>
<path d="M571,441.74 L572.39,441.32 L574.47,442.71 L577.93,442.02 L580.71,441.74 L583.48,442.02 L586.26,442.3 L589.03,442.3 L591.11,441.32 L593.19,439.52 L594.86,438.13 L596.66,440.35 L598.74,438.55 L600.82,437.16 L602.9,436.19 L604.29,435.08 L606.37,436.19 L607.75,435.08 L609.14,436.19 L610.53,435.78 L612.33,434.39 L614,436.47 L616.08,437.58 L618.16,438.55 L620.93,438.13 L623.7,436.19 L626.48,436.47 L629.25,436.19 L632.03,436.75 L634.8,435.08 L637.57,434.39 L639.65,433.97 L641.74,435.36 L643.82,434.39 L645.9,432.59 L647.98,433.42 L650.75,434.81 L654.22,436.19 L656.3,437.86 L658.38,440.63 L661.15,441.32 L662.7,441.32 L662.7,441.32" fill="none" stroke="#14145a" stroke-width="0.7" stroke-linejoin="round"/>
<line x1="477.4" y1="442.85" x2="662.7" y2="442.85" stroke="#5a5a66" stroke-width="0.8"/>
<path d="M477,456.5 L477,455.39 L478.39,454.97 L480.47,456.36 L483.93,455.67 L486.71,455.39 L489.48,455.67 L492.26,455.95 L495.03,455.95 L497.11,454.97 L499.19,453.17 L500.86,451.78 L502.66,454 L504.74,452.2 L506.82,450.81 L508.9,449.84 L510.29,448.73 L512.37,449.84 L513.75,448.73 L515.14,449.84 L516.53,449.43 L518.33,448.04 L520,450.12 L522.08,451.23 L524.16,452.2 L526.93,451.78 L529.7,449.84 L532.48,450.12 L535.25,449.84 L538.03,450.4 L540.8,448.73 L543.57,448.04 L545.65,447.62 L547.74,449.01 L549.82,448.04 L551.9,446.24 L553.98,447.07 L556.75,448.46 L560.22,449.84 L562.3,451.51 L564.38,454.28 L567.15,454.97 L569.93,454.97 L572.01,454.97 L572.01,456.5 Z" fill="#0000f5"/>
<path d="M477,455.39 L478.39,454.97 L480.47,456.36 L483.93,455.67 L486.71,455.39 L489.48,455.67 L492.26,455.95 L495.03,455.95 L497.11,454.97 L499.19,453.17 L500.86,451.78 L502.66,454 L504.74,452.2 L506.82,450.81 L508.9,449.84 L510.29,448.73 L512.37,449.84 L513.75,448.73 L515.14,449.84 L516.53,449.43 L518.33,448.04 L520,450.12 L522.08,451.23 L524.16,452.2 L526.93,451.78 L529.7,449.84 L532.48,450.12 L535.25,449.84 L538.03,450.4 L540.8,448.73 L543.57,448.04 L545.65,447.62 L547.74,449.01 L549.82,448.04 L551.9,446.24 L553.98,447.07 L556.75,448.46 L560.22,449.84 L562.3,451.51 L564.38,454.28 L567.15,454.97 L569.93,454.97 L572.01,454.97" fill="none" stroke="#14145a" stroke-width="0.7" stroke-linejoin="round"/>
<path d="M571,456.5 L571,455.39 L573.77,454.97 L576.55,454.42 L579.32,454 L582.1,454.42 L584.87,454.97 L587.64,455.53 L590.42,454.7 L593.19,454.42 L595.97,454.97 L598.74,454.42 L601.51,453.03 L604.29,451.65 L607.06,450.81 L609.83,451.92 L611.92,453.03 L614,454.97 L616.08,454.42 L618.16,453.03 L620.93,452.2 L623.7,451.65 L626.48,451.23 L629.25,450.54 L632.03,449.84 L634.8,449.15 L636.88,448.87 L638.27,449.84 L640.35,449.15 L642.43,450.54 L644.51,449.15 L646.59,447.07 L648.67,447.07 L650.75,447.07 L652.83,449.84 L654.91,452.62 L656.99,454.42 L659.77,454.7 L662.54,454 L662.7,454 L662.7,456.5 Z" fill="#0000f5"/>
<path d="M571,455.39 L573.77,454.97 L576.55,454.42 L579.32,454 L582.1,454.42 L584.87,454.97 L587.64,455.53 L590.42,454.7 L593.19,454.42 L595.97,454.97 L598.74,454.42 L601.51,453.03 L604.29,451.65 L607.06,450.81 L609.83,451.92 L611.92,453.03 L614,454.97 L616.08,454.42 L618.16,453.03 L620.93,452.2 L623.7,451.65 L626.48,451.23 L629.25,450.54 L632.03,449.84 L634.8,449.15 L636.88,448.87 L638.27,449.84 L640.35,449.15 L642.43,450.54 L644.51,449.15 L646.59,447.07 L648.67,447.07 L650.75,447.07 L652.83,449.84 L654.91,452.62 L656.99,454.42 L659.77,454.7 L662.54,454 L662.7,454" fill="none" stroke="#14145a" stroke-width="0.7" stroke-linejoin="round"/>
<line x1="477.4" y1="456.5" x2="662.7" y2="456.5" stroke="#5a5a66" stroke-width="0.8"/>
<path d="M477,470.15 L477,469.04 L479.77,468.62 L482.55,468.07 L485.32,467.65 L488.1,468.07 L490.87,468.62 L493.64,469.18 L496.42,468.35 L499.19,468.07 L501.97,468.62 L504.74,468.07 L507.51,466.68 L510.29,465.3 L513.06,464.46 L515.83,465.57 L517.92,466.68 L520,468.62 L522.08,468.07 L524.16,466.68 L526.93,465.85 L529.7,465.3 L532.48,464.88 L535.25,464.19 L538.03,463.49 L540.8,462.8 L542.88,462.52 L544.27,463.49 L546.35,462.8 L548.43,464.19 L550.51,462.8 L552.59,460.72 L554.67,460.72 L556.75,460.72 L558.83,463.49 L560.91,466.27 L562.99,468.07 L565.77,468.35 L568.54,467.65 L572.01,467.65 L572.01,470.15 Z" fill="#0000f5"/>
<path d="M477,469.04 L479.77,468.62 L482.55,468.07 L485.32,467.65 L488.1,468.07 L490.87,468.62 L493.64,469.18 L496.42,468.35 L499.19,468.07 L501.97,468.62 L504.74,468.07 L507.51,466.68 L510.29,465.3 L513.06,464.46 L515.83,465.57 L517.92,466.68 L520,468.62 L522.08,468.07 L524.16,466.68 L526.93,465.85 L529.7,465.3 L532.48,464.88 L535.25,464.19 L538.03,463.49 L540.8,462.8 L542.88,462.52 L544.27,463.49 L546.35,462.8 L548.43,464.19 L550.51,462.8 L552.59,460.72 L554.67,460.72 L556.75,460.72 L558.83,463.49 L560.91,466.27 L562.99,468.07 L565.77,468.35 L568.54,467.65 L572.01,467.65" fill="none" stroke="#14145a" stroke-width="0.7" stroke-linejoin="round"/>
<path d="M571,470.15 L571,468.49 L573.77,468.76 L576.55,468.21 L579.32,468.49 L581.4,467.79 L583.48,469.87 L586.26,469.6 L589.03,469.18 L591.8,468.76 L592.91,467.38 L594.58,469.18 L597.35,468.76 L599.43,467.79 L601.51,467.1 L604.29,466.41 L606.37,465.43 L608.45,465.99 L610.53,466.82 L612.61,467.38 L615.38,468.49 L617.46,469.18 L619.54,468.49 L622.32,467.79 L625.09,467.38 L627.87,467.38 L630.64,467.1 L633.41,466.41 L636.19,465.99 L638.96,465.02 L641.74,464.05 L644.51,462.66 L647.01,460.86 L648.67,462.66 L650.75,461.55 L652.83,462.94 L654.91,463.63 L656.99,465.02 L659.77,465.99 L662.54,467.38 L662.7,468.49 L662.7,470.15 Z" fill="#0000f5"/>
<path d="M571,468.49 L573.77,468.76 L576.55,468.21 L579.32,468.49 L581.4,467.79 L583.48,469.87 L586.26,469.6 L589.03,469.18 L591.8,468.76 L592.91,467.38 L594.58,469.18 L597.35,468.76 L599.43,467.79 L601.51,467.1 L604.29,466.41 L606.37,465.43 L608.45,465.99 L610.53,466.82 L612.61,467.38 L615.38,468.49 L617.46,469.18 L619.54,468.49 L622.32,467.79 L625.09,467.38 L627.87,467.38 L630.64,467.1 L633.41,466.41 L636.19,465.99 L638.96,465.02 L641.74,464.05 L644.51,462.66 L647.01,460.86 L648.67,462.66 L650.75,461.55 L652.83,462.94 L654.91,463.63 L656.99,465.02 L659.77,465.99 L662.54,467.38 L662.7,468.49" fill="none" stroke="#14145a" stroke-width="0.7" stroke-linejoin="round"/>
<line x1="477.4" y1="470.15" x2="662.7" y2="470.15" stroke="#5a5a66" stroke-width="0.8"/>
<path d="M477,483.8 L477,482.14 L479.77,482.41 L482.55,481.86 L485.32,482.14 L487.4,481.44 L489.48,483.52 L492.26,483.25 L495.03,482.83 L497.8,482.41 L498.91,481.03 L500.58,482.83 L503.35,482.41 L505.43,481.44 L507.51,480.75 L510.29,480.06 L512.37,479.08 L514.45,479.64 L516.53,480.47 L518.61,481.03 L521.38,482.14 L523.46,482.83 L525.54,482.14 L528.32,481.44 L531.09,481.03 L533.87,481.03 L536.64,480.75 L539.41,480.06 L542.19,479.64 L544.96,478.67 L547.74,477.7 L550.51,476.31 L553.01,474.51 L554.67,476.31 L556.75,475.2 L558.83,476.59 L560.91,477.28 L562.99,478.67 L565.77,479.64 L568.54,481.03 L572.01,482.14 L572.01,483.8 Z" fill="#0000f5"/>
<path d="M477,482.14 L479.77,482.41 L482.55,481.86 L485.32,482.14 L487.4,481.44 L489.48,483.52 L492.26,483.25 L495.03,482.83 L497.8,482.41 L498.91,481.03 L500.58,482.83 L503.35,482.41 L505.43,481.44 L507.51,480.75 L510.29,480.06 L512.37,479.08 L514.45,479.64 L516.53,480.47 L518.61,481.03 L521.38,482.14 L523.46,482.83 L525.54,482.14 L528.32,481.44 L531.09,481.03 L533.87,481.03 L536.64,480.75 L539.41,480.06 L542.19,479.64 L544.96,478.67 L547.74,477.7 L550.51,476.31 L553.01,474.51 L554.67,476.31 L556.75,475.2 L558.83,476.59 L560.91,477.28 L562.99,478.67 L565.77,479.64 L568.54,481.03 L572.01,482.14" fill="none" stroke="#14145a" stroke-width="0.7" stroke-linejoin="round"/>
<path d="M571,483.8 L571,481.72 L572.39,483.11 L575.16,483.52 L577.93,483.11 L580.71,482.14 L583.48,482.69 L586.26,483.11 L589.03,483.11 L591.8,482.69 L594.58,482.41 L597.35,481.3 L600.13,481.03 L602.9,481.03 L605.67,480.75 L608.45,481.03 L611.22,480.75 L613.3,482.41 L615.38,483.11 L618.16,482.69 L620.93,482.69 L623.7,482.14 L626.48,480.33 L628.56,478.25 L629.95,477.56 L632.03,479.64 L634.11,478.53 L636.19,477.97 L638.27,476.87 L639.93,476.59 L641.74,477.56 L643.82,478.25 L645.9,478.95 L647.98,477.56 L650.06,476.87 L651.44,476.17 L653.52,478.25 L655.6,479.64 L658.38,481.03 L661.15,482.41 L662.7,483.11 L662.7,483.52 L662.7,483.8 Z" fill="#0000f5"/>
<path d="M571,481.72 L572.39,483.11 L575.16,483.52 L577.93,483.11 L580.71,482.14 L583.48,482.69 L586.26,483.11 L589.03,483.11 L591.8,482.69 L594.58,482.41 L597.35,481.3 L600.13,481.03 L602.9,481.03 L605.67,480.75 L608.45,481.03 L611.22,480.75 L613.3,482.41 L615.38,483.11 L618.16,482.69 L620.93,482.69 L623.7,482.14 L626.48,480.33 L628.56,478.25 L629.95,477.56 L632.03,479.64 L634.11,478.53 L636.19,477.97 L638.27,476.87 L639.93,476.59 L641.74,477.56 L643.82,478.25 L645.9,478.95 L647.98,477.56 L650.06,476.87 L651.44,476.17 L653.52,478.25 L655.6,479.64 L658.38,481.03 L661.15,482.41 L662.7,483.11 L662.7,483.52" fill="none" stroke="#14145a" stroke-width="0.7" stroke-linejoin="round"/>
<line x1="477.4" y1="483.8" x2="662.7" y2="483.8" stroke="#5a5a66" stroke-width="0.8"/>
<path d="M477,497.45 L477,495.37 L478.39,496.76 L481.16,497.17 L483.93,496.76 L486.71,495.79 L489.48,496.34 L492.26,496.76 L495.03,496.76 L497.8,496.34 L500.58,496.06 L503.35,494.95 L506.13,494.68 L508.9,494.68 L511.67,494.4 L514.45,494.68 L517.22,494.4 L519.3,496.06 L521.38,496.76 L524.16,496.34 L526.93,496.34 L529.7,495.79 L532.48,493.98 L534.56,491.9 L535.95,491.21 L538.03,493.29 L540.11,492.18 L542.19,491.62 L544.27,490.52 L545.93,490.24 L547.74,491.21 L549.82,491.9 L551.9,492.6 L553.98,491.21 L556.06,490.52 L557.44,489.82 L559.52,491.9 L561.6,493.29 L564.38,494.68 L567.15,496.06 L569.93,496.76 L572.01,497.17 L572.01,497.45 Z" fill="#0000f5"/>
<path d="M477,495.37 L478.39,496.76 L481.16,497.17 L483.93,496.76 L486.71,495.79 L489.48,496.34 L492.26,496.76 L495.03,496.76 L497.8,496.34 L500.58,496.06 L503.35,494.95 L506.13,494.68 L508.9,494.68 L511.67,494.4 L514.45,494.68 L517.22,494.4 L519.3,496.06 L521.38,496.76 L524.16,496.34 L526.93,496.34 L529.7,495.79 L532.48,493.98 L534.56,491.9 L535.95,491.21 L538.03,493.29 L540.11,492.18 L542.19,491.62 L544.27,490.52 L545.93,490.24 L547.74,491.21 L549.82,491.9 L551.9,492.6 L553.98,491.21 L556.06,490.52 L557.44,489.82 L559.52,491.9 L561.6,493.29 L564.38,494.68 L567.15,496.06 L569.93,496.76 L572.01,497.17" fill="none" stroke="#14145a" stroke-width="0.7" stroke-linejoin="round"/>
<path d="M571,497.45 L571,496.48 L573.77,496.2 L576.55,496.48 L579.32,496.2 L582.1,496.48 L584.87,496.76 L587.64,496.9 L590.42,496.9 L593.19,496.9 L595.97,496.9 L598.74,496.9 L601.51,496.48 L604.29,495.92 L607.06,495.51 L609.83,495.51 L612.61,495.92 L615.38,495.51 L618.16,495.09 L620.93,494.81 L623.7,494.54 L625.79,494.12 L627.87,493.15 L630.64,493.15 L633.41,492.73 L636.19,492.73 L638.96,492.73 L641.74,492.73 L644.51,492.04 L647.28,491.76 L649.36,492.04 L651.44,492.32 L654.22,492.73 L656.99,492.73 L659.77,493.15 L661.85,494.81 L662.7,496.2 L662.7,496.9 L662.7,497.45 Z" fill="#0000f5"/>
<path d="M571,496.48 L573.77,496.2 L576.55,496.48 L579.32,496.2 L582.1,496.48 L584.87,496.76 L587.64,496.9 L590.42,496.9 L593.19,496.9 L595.97,496.9 L598.74,496.9 L601.51,496.48 L604.29,495.92 L607.06,495.51 L609.83,495.51 L612.61,495.92 L615.38,495.51 L618.16,495.09 L620.93,494.81 L623.7,494.54 L625.79,494.12 L627.87,493.15 L630.64,493.15 L633.41,492.73 L636.19,492.73 L638.96,492.73 L641.74,492.73 L644.51,492.04 L647.28,491.76 L649.36,492.04 L651.44,492.32 L654.22,492.73 L656.99,492.73 L659.77,493.15 L661.85,494.81 L662.7,496.2 L662.7,496.9" fill="none" stroke="#14145a" stroke-width="0.7" stroke-linejoin="round"/>
<line x1="477.4" y1="497.45" x2="662.7" y2="497.45" stroke="#5a5a66" stroke-width="0.8"/>
<path d="M477,511.1 L477,510.13 L479.77,509.85 L482.55,510.13 L485.32,509.85 L488.1,510.13 L490.87,510.41 L493.64,510.55 L496.42,510.55 L499.19,510.55 L501.97,510.55 L504.74,510.55 L507.51,510.13 L510.29,509.57 L513.06,509.16 L515.83,509.16 L518.61,509.57 L521.38,509.16 L524.16,508.74 L526.93,508.46 L529.7,508.19 L531.79,507.77 L533.87,506.8 L536.64,506.8 L539.41,506.38 L542.19,506.38 L544.96,506.38 L547.74,506.38 L550.51,505.69 L553.28,505.41 L555.36,505.69 L557.44,505.97 L560.22,506.38 L562.99,506.38 L565.77,506.8 L567.85,508.46 L569.93,509.85 L572.01,510.55 L572.01,511.1 Z" fill="#0000f5"/>
<path d="M477,510.13 L479.77,509.85 L482.55,510.13 L485.32,509.85 L488.1,510.13 L490.87,510.41 L493.64,510.55 L496.42,510.55 L499.19,510.55 L501.97,510.55 L504.74,510.55 L507.51,510.13 L510.29,509.57 L513.06,509.16 L515.83,509.16 L518.61,509.57 L521.38,509.16 L524.16,508.74 L526.93,508.46 L529.7,508.19 L531.79,507.77 L533.87,506.8 L536.64,506.8 L539.41,506.38 L542.19,506.38 L544.96,506.38 L547.74,506.38 L550.51,505.69 L553.28,505.41 L555.36,505.69 L557.44,505.97 L560.22,506.38 L562.99,506.38 L565.77,506.8 L567.85,508.46 L569.93,509.85 L572.01,510.55" fill="none" stroke="#14145a" stroke-width="0.7" stroke-linejoin="round"/>
<path d="M571,511.1 L571,510.13 L573.77,509.85 L576.55,509.57 L579.32,510.13 L582.1,510.41 L584.87,510.68 L589.03,510.68 L593.19,510.41 L595.27,509.85 L597.35,510.41 L598.74,509.44 L601.51,509.02 L604.29,509.02 L607.06,508.74 L609.83,509.02 L612.61,509.44 L615.38,509.02 L618.16,508.74 L620.93,508.74 L623.7,508.46 L626.48,508.05 L629.25,506.66 L632.03,507.36 L634.8,507.63 L637.57,507.08 L639.65,506.25 L641.74,506.25 L644.51,506.25 L647.28,505.97 L649.36,504.86 L651.17,503.47 L652.83,505.27 L654.91,506.66 L656.99,507.08 L659.77,508.05 L662.54,508.74 L662.7,509.44 L662.7,511.1 Z" fill="#0000f5"/>
<path d="M571,510.13 L573.77,509.85 L576.55,509.57 L579.32,510.13 L582.1,510.41 L584.87,510.68 L589.03,510.68 L593.19,510.41 L595.27,509.85 L597.35,510.41 L598.74,509.44 L601.51,509.02 L604.29,509.02 L607.06,508.74 L609.83,509.02 L612.61,509.44 L615.38,509.02 L618.16,508.74 L620.93,508.74 L623.7,508.46 L626.48,508.05 L629.25,506.66 L632.03,507.36 L634.8,507.63 L637.57,507.08 L639.65,506.25 L641.74,506.25 L644.51,506.25 L647.28,505.97 L649.36,504.86 L651.17,503.47 L652.83,505.27 L654.91,506.66 L656.99,507.08 L659.77,508.05 L662.54,508.74 L662.7,509.44" fill="none" stroke="#14145a" stroke-width="0.7" stroke-linejoin="round"/>
<line x1="477.4" y1="511.1" x2="662.7" y2="511.1" stroke="#5a5a66" stroke-width="0.8"/>
<path d="M477,524.75 L477,523.78 L479.77,523.5 L482.55,523.22 L485.32,523.78 L488.1,524.06 L490.87,524.33 L495.03,524.33 L499.19,524.06 L501.27,523.5 L503.35,524.06 L504.74,523.09 L507.51,522.67 L510.29,522.67 L513.06,522.39 L515.83,522.67 L518.61,523.09 L521.38,522.67 L524.16,522.39 L526.93,522.39 L529.7,522.11 L532.48,521.7 L535.25,520.31 L538.03,521.01 L540.8,521.28 L543.57,520.73 L545.65,519.9 L547.74,519.9 L550.51,519.9 L553.28,519.62 L555.36,518.51 L557.17,517.12 L558.83,518.92 L560.91,520.31 L562.99,520.73 L565.77,521.7 L568.54,522.39 L572.01,523.09 L572.01,524.75 Z" fill="#0000f5"/>
<path d="M477,523.78 L479.77,523.5 L482.55,523.22 L485.32,523.78 L488.1,524.06 L490.87,524.33 L495.03,524.33 L499.19,524.06 L501.27,523.5 L503.35,524.06 L504.74,523.09 L507.51,522.67 L510.29,522.67 L513.06,522.39 L515.83,522.67 L518.61,523.09 L521.38,522.67 L524.16,522.39 L526.93,522.39 L529.7,522.11 L532.48,521.7 L535.25,520.31 L538.03,521.01 L540.8,521.28 L543.57,520.73 L545.65,519.9 L547.74,519.9 L550.51,519.9 L553.28,519.62 L555.36,518.51 L557.17,517.12 L558.83,518.92 L560.91,520.31 L562.99,520.73 L565.77,521.7 L568.54,522.39 L572.01,523.09" fill="none" stroke="#14145a" stroke-width="0.7" stroke-linejoin="round"/>
<path d="M571,524.75 L571,523.64 L573.77,524.33 L576.55,524.33 L579.32,524.06 L582.1,523.64 L584.87,524.06 L587.64,524.06 L590.42,524.06 L593.19,524.06 L595.97,524.33 L598.74,524.06 L601.51,523.64 L604.29,522.25 L607.06,522.25 L609.83,522.67 L612.61,522.67 L615.38,522.67 L618.16,522.95 L620.93,523.22 L623.43,521.84 L625.09,523.22 L627.87,522.95 L630.64,523.22 L632.72,522.25 L634.8,520.45 L637.57,519.9 L640.35,519.9 L643.12,519.48 L645.9,519.06 L648.67,519.06 L651.17,518.51 L652.83,519.06 L655.6,519.48 L658.38,520.17 L660.46,519.9 L662.54,521.28 L662.7,524.06 L662.7,524.75 L662.7,524.75 Z" fill="#0000f5"/>
<path d="M571,523.64 L573.77,524.33 L576.55,524.33 L579.32,524.06 L582.1,523.64 L584.87,524.06 L587.64,524.06 L590.42,524.06 L593.19,524.06 L595.97,524.33 L598.74,524.06 L601.51,523.64 L604.29,522.25 L607.06,522.25 L609.83,522.67 L612.61,522.67 L615.38,522.67 L618.16,522.95 L620.93,523.22 L623.43,521.84 L625.09,523.22 L627.87,522.95 L630.64,523.22 L632.72,522.25 L634.8,520.45 L637.57,519.9 L640.35,519.9 L643.12,519.48 L645.9,519.06 L648.67,519.06 L651.17,518.51 L652.83,519.06 L655.6,519.48 L658.38,520.17 L660.46,519.9 L662.54,521.28 L662.7,524.06 L662.7,524.75" fill="none" stroke="#14145a" stroke-width="0.7" stroke-linejoin="round"/>
<line x1="477.4" y1="524.75" x2="662.7" y2="524.75" stroke="#5a5a66" stroke-width="0.8"/>
<path d="M477,538.4 L477,537.29 L479.77,537.98 L482.55,537.98 L485.32,537.71 L488.1,537.29 L490.87,537.71 L493.64,537.71 L496.42,537.71 L499.19,537.71 L501.97,537.98 L504.74,537.71 L507.51,537.29 L510.29,535.9 L513.06,535.9 L515.83,536.32 L518.61,536.32 L521.38,536.32 L524.16,536.6 L526.93,536.87 L529.43,535.49 L531.09,536.87 L533.87,536.6 L536.64,536.87 L538.72,535.9 L540.8,534.1 L543.57,533.55 L546.35,533.55 L549.12,533.13 L551.9,532.71 L554.67,532.71 L557.17,532.16 L558.83,532.71 L561.6,533.13 L564.38,533.82 L566.46,533.55 L568.54,534.93 L569.93,537.71 L571.04,538.4 L571.04,538.4 Z" fill="#0000f5"/>
<path d="M477,537.29 L479.77,537.98 L482.55,537.98 L485.32,537.71 L488.1,537.29 L490.87,537.71 L493.64,537.71 L496.42,537.71 L499.19,537.71 L501.97,537.98 L504.74,537.71 L507.51,537.29 L510.29,535.9 L513.06,535.9 L515.83,536.32 L518.61,536.32 L521.38,536.32 L524.16,536.6 L526.93,536.87 L529.43,535.49 L531.09,536.87 L533.87,536.6 L536.64,536.87 L538.72,535.9 L540.8,534.1 L543.57,533.55 L546.35,533.55 L549.12,533.13 L551.9,532.71 L554.67,532.71 L557.17,532.16 L558.83,532.71 L561.6,533.13 L564.38,533.82 L566.46,533.55 L568.54,534.93 L569.93,537.71 L571.04,538.4" fill="none" stroke="#14145a" stroke-width="0.7" stroke-linejoin="round"/>
<line x1="477.4" y1="538.4" x2="662.7" y2="538.4" stroke="#5a5a66" stroke-width="0.8"/>
<line x1="477.4" y1="539" x2="662.7" y2="539" stroke="#707070" stroke-width="1.3"/>
<line x1="662.7" y1="539.2" x2="664.7" y2="539.2" stroke="#b0b0b0" stroke-width="1"/>
<line x1="477.4" y1="403.1" x2="477.4" y2="539.6" stroke="#666" stroke-width="1"/>
<text x="472.9" y="418.15" font-size="6.3" text-anchor="end" fill="#3a3a3a">1</text>
<text x="472.9" y="431.8" font-size="6.3" text-anchor="end" fill="#3a3a3a">2</text>
<text x="472.9" y="445.45" font-size="6.3" text-anchor="end" fill="#3a3a3a">3</text>
<text x="472.9" y="459.1" font-size="6.3" text-anchor="end" fill="#3a3a3a">4</text>
<text x="472.9" y="472.75" font-size="6.3" text-anchor="end" fill="#3a3a3a">5</text>
<text x="472.9" y="486.4" font-size="6.3" text-anchor="end" fill="#3a3a3a">6</text>
<text x="472.9" y="500.05" font-size="6.3" text-anchor="end" fill="#3a3a3a">7</text>
<text x="472.9" y="513.7" font-size="6.3" text-anchor="end" fill="#3a3a3a">8</text>
<text x="472.9" y="527.35" font-size="6.3" text-anchor="end" fill="#3a3a3a">9</text>
<text x="472.9" y="541" font-size="6.3" text-anchor="end" fill="#3a3a3a">10</text>
<text transform="translate(465.4,471.4) rotate(-90)" font-size="6.3" text-anchor="middle" fill="#3a3a3a" textLength="11" lengthAdjust="spacingAndGlyphs">day</text>
<text x="510.4" y="548.2" font-size="6.3" text-anchor="middle" fill="#3a3a3a">0</text>
<text x="557.38" y="548.2" font-size="6.3" text-anchor="middle" fill="#3a3a3a" textLength="7.4" lengthAdjust="spacingAndGlyphs">12</text>
<text x="604.36" y="548.2" font-size="6.3" text-anchor="middle" fill="#3a3a3a" textLength="7.4" lengthAdjust="spacingAndGlyphs">24</text>
<text x="651.34" y="548.2" font-size="6.3" text-anchor="middle" fill="#3a3a3a" textLength="7.4" lengthAdjust="spacingAndGlyphs">36</text>
<text x="574.3" y="556.6" font-size="6.3" text-anchor="middle" fill="#3a3a3a" textLength="27.4" lengthAdjust="spacingAndGlyphs">time (ZT)</text>
<rect x="477.3" y="693.1" width="3.9" height="18.7" fill="#828282" stroke="#333" stroke-width="0.7"/>
<rect x="481.2" y="695.31" width="3.9" height="16.49" fill="#828282" stroke="#333" stroke-width="0.7"/>
<rect x="485.11" y="697.01" width="3.9" height="14.79" fill="#828282" stroke="#333" stroke-width="0.7"/>
<rect x="489.01" y="700.24" width="3.9" height="11.56" fill="#828282" stroke="#333" stroke-width="0.7"/>
<rect x="492.92" y="702.28" width="3.9" height="9.52" fill="#828282" stroke="#333" stroke-width="0.7"/>
<rect x="496.82" y="703.13" width="3.9" height="8.67" fill="#828282" stroke="#333" stroke-width="0.7"/>
<rect x="500.73" y="698.2" width="3.9" height="13.6" fill="#828282" stroke="#333" stroke-width="0.7"/>
<rect x="504.63" y="675.76" width="3.9" height="36.04" fill="#828282" stroke="#333" stroke-width="0.7"/>
<rect x="508.53" y="684.26" width="3.9" height="27.54" fill="#828282" stroke="#333" stroke-width="0.7"/>
<rect x="512.44" y="679.16" width="3.9" height="32.64" fill="#828282" stroke="#333" stroke-width="0.7"/>
<rect x="516.34" y="661.31" width="3.9" height="50.49" fill="#828282" stroke="#333" stroke-width="0.7"/>
<rect x="520.25" y="656.21" width="3.9" height="55.59" fill="#828282" stroke="#333" stroke-width="0.7"/>
<rect x="524.15" y="610.31" width="3.9" height="101.49" fill="#fff" stroke="#333" stroke-width="0.7"/>
<rect x="528.05" y="634.96" width="3.9" height="76.84" fill="#fff" stroke="#333" stroke-width="0.7"/>
<rect x="531.96" y="663.18" width="3.9" height="48.62" fill="#fff" stroke="#333" stroke-width="0.7"/>
<rect x="535.86" y="674.23" width="3.9" height="37.57" fill="#fff" stroke="#333" stroke-width="0.7"/>
<rect x="539.77" y="693.27" width="3.9" height="18.53" fill="#fff" stroke="#333" stroke-width="0.7"/>
<rect x="543.67" y="689.7" width="3.9" height="22.1" fill="#fff" stroke="#333" stroke-width="0.7"/>
<rect x="547.58" y="691.23" width="3.9" height="20.57" fill="#fff" stroke="#333" stroke-width="0.7"/>
<rect x="551.48" y="678.48" width="3.9" height="33.32" fill="#fff" stroke="#333" stroke-width="0.7"/>
<rect x="555.38" y="691.23" width="3.9" height="20.57" fill="#fff" stroke="#333" stroke-width="0.7"/>
<rect x="559.29" y="697.18" width="3.9" height="14.62" fill="#fff" stroke="#333" stroke-width="0.7"/>
<rect x="563.19" y="686.3" width="3.9" height="25.5" fill="#fff" stroke="#333" stroke-width="0.7"/>
<rect x="567.1" y="693.27" width="3.9" height="18.53" fill="#fff" stroke="#333" stroke-width="0.7"/>
<rect x="571" y="695.14" width="3.9" height="16.66" fill="#fff" stroke="#333" stroke-width="0.7"/>
<rect x="574.9" y="693.27" width="3.9" height="18.53" fill="#fff" stroke="#333" stroke-width="0.7"/>
<rect x="578.81" y="693.1" width="3.9" height="18.7" fill="#fff" stroke="#333" stroke-width="0.7"/>
<rect x="582.71" y="688.17" width="3.9" height="23.63" fill="#fff" stroke="#333" stroke-width="0.7"/>
<rect x="586.62" y="689.53" width="3.9" height="22.27" fill="#fff" stroke="#333" stroke-width="0.7"/>
<rect x="590.52" y="692.25" width="3.9" height="19.55" fill="#fff" stroke="#333" stroke-width="0.7"/>
<rect x="594.43" y="688.17" width="3.9" height="23.63" fill="#fff" stroke="#333" stroke-width="0.7"/>
<rect x="598.33" y="679.16" width="3.9" height="32.64" fill="#fff" stroke="#333" stroke-width="0.7"/>
<rect x="602.23" y="661.31" width="3.9" height="50.49" fill="#fff" stroke="#333" stroke-width="0.7"/>
<rect x="606.14" y="641.59" width="3.9" height="70.21" fill="#fff" stroke="#333" stroke-width="0.7"/>
<rect x="610.04" y="630.54" width="3.9" height="81.26" fill="#fff" stroke="#333" stroke-width="0.7"/>
<rect x="613.95" y="625.27" width="3.9" height="86.53" fill="#fff" stroke="#333" stroke-width="0.7"/>
<rect x="617.85" y="593.99" width="3.9" height="117.81" fill="#828282" stroke="#333" stroke-width="0.7"/>
<rect x="621.75" y="623.91" width="3.9" height="87.89" fill="#828282" stroke="#333" stroke-width="0.7"/>
<rect x="625.66" y="684.43" width="3.9" height="27.37" fill="#828282" stroke="#333" stroke-width="0.7"/>
<rect x="629.56" y="703.81" width="3.9" height="7.99" fill="#828282" stroke="#333" stroke-width="0.7"/>
<rect x="633.47" y="707.04" width="3.9" height="4.76" fill="#828282" stroke="#333" stroke-width="0.7"/>
<rect x="637.37" y="706.02" width="3.9" height="5.78" fill="#828282" stroke="#333" stroke-width="0.7"/>
<rect x="641.28" y="708.06" width="3.9" height="3.74" fill="#828282" stroke="#333" stroke-width="0.7"/>
<rect x="645.18" y="704.83" width="3.9" height="6.97" fill="#828282" stroke="#333" stroke-width="0.7"/>
<rect x="649.08" y="700.07" width="3.9" height="11.73" fill="#828282" stroke="#333" stroke-width="0.7"/>
<rect x="652.99" y="703.81" width="3.9" height="7.99" fill="#828282" stroke="#333" stroke-width="0.7"/>
<rect x="656.89" y="703.81" width="3.9" height="7.99" fill="#828282" stroke="#333" stroke-width="0.7"/>
<rect x="660.8" y="698.03" width="3.9" height="13.77" fill="#828282" stroke="#333" stroke-width="0.7"/>
<circle cx="479.25" cy="690.04" r="0.75" fill="#b82048"/>
<circle cx="483.16" cy="693.27" r="0.75" fill="#b82048"/>
<circle cx="487.06" cy="692.93" r="0.75" fill="#b82048"/>
<circle cx="490.96" cy="697.35" r="0.75" fill="#b82048"/>
<circle cx="494.87" cy="700.58" r="0.75" fill="#b82048"/>
<circle cx="498.77" cy="698.2" r="0.75" fill="#b82048"/>
<circle cx="502.68" cy="695.99" r="0.75" fill="#b82048"/>
<circle cx="506.58" cy="670.15" r="0.75" fill="#b82048"/>
<circle cx="510.49" cy="679.84" r="0.75" fill="#b82048"/>
<circle cx="514.39" cy="677.97" r="0.75" fill="#b82048"/>
<circle cx="518.29" cy="657.57" r="0.75" fill="#b82048"/>
<circle cx="522.2" cy="655.53" r="0.75" fill="#b82048"/>
<circle cx="526.1" cy="603" r="0.75" fill="#b82048"/>
<circle cx="530.01" cy="628.5" r="0.75" fill="#b82048"/>
<circle cx="533.91" cy="660.97" r="0.75" fill="#b82048"/>
<circle cx="537.81" cy="672.7" r="0.75" fill="#b82048"/>
<circle cx="541.72" cy="690.04" r="0.75" fill="#b82048"/>
<circle cx="545.62" cy="685.45" r="0.75" fill="#b82048"/>
<circle cx="549.53" cy="684.6" r="0.75" fill="#b82048"/>
<circle cx="553.43" cy="676.95" r="0.75" fill="#b82048"/>
<circle cx="557.34" cy="687.32" r="0.75" fill="#b82048"/>
<circle cx="561.24" cy="693.61" r="0.75" fill="#b82048"/>
<circle cx="565.14" cy="683.24" r="0.75" fill="#b82048"/>
<circle cx="569.05" cy="690.89" r="0.75" fill="#b82048"/>
<circle cx="572.95" cy="691.74" r="0.75" fill="#b82048"/>
<circle cx="576.86" cy="687.83" r="0.75" fill="#b82048"/>
<circle cx="580.76" cy="691.23" r="0.75" fill="#b82048"/>
<circle cx="584.66" cy="683.41" r="0.75" fill="#b82048"/>
<circle cx="588.57" cy="685.62" r="0.75" fill="#b82048"/>
<circle cx="592.47" cy="688.51" r="0.75" fill="#b82048"/>
<circle cx="596.38" cy="683.92" r="0.75" fill="#b82048"/>
<circle cx="600.28" cy="675.08" r="0.75" fill="#b82048"/>
<circle cx="604.19" cy="649.75" r="0.75" fill="#b82048"/>
<circle cx="608.09" cy="636.49" r="0.75" fill="#b82048"/>
<circle cx="611.99" cy="617.45" r="0.75" fill="#b82048"/>
<circle cx="615.9" cy="618.98" r="0.75" fill="#b82048"/>
<circle cx="619.8" cy="590.76" r="0.75" fill="#b82048"/>
<circle cx="623.71" cy="615.41" r="0.75" fill="#b82048"/>
<circle cx="627.61" cy="681.37" r="0.75" fill="#b82048"/>
<circle cx="631.51" cy="702.45" r="0.75" fill="#b82048"/>
<circle cx="635.42" cy="706.02" r="0.75" fill="#b82048"/>
<circle cx="639.32" cy="703.81" r="0.75" fill="#b82048"/>
<circle cx="643.23" cy="706.02" r="0.75" fill="#b82048"/>
<circle cx="647.13" cy="702.79" r="0.75" fill="#b82048"/>
<circle cx="651.04" cy="696.16" r="0.75" fill="#b82048"/>
<circle cx="654.94" cy="700.75" r="0.75" fill="#b82048"/>
<circle cx="658.84" cy="702.45" r="0.75" fill="#b82048"/>
<circle cx="662.75" cy="694.97" r="0.75" fill="#b82048"/>
<line x1="477.3" y1="575.8" x2="477.3" y2="711.8" stroke="#777" stroke-width="1"/>
<line x1="477.3" y1="712.1" x2="664.7" y2="712.1" stroke="#888" stroke-width="1"/>
<line x1="477.3" y1="711.8" x2="479.3" y2="711.8" stroke="#777" stroke-width="0.7"/>
<text x="474.9" y="714" font-size="6.3" text-anchor="end" fill="#3a3a3a">0</text>
<line x1="477.3" y1="694.8" x2="479.3" y2="694.8" stroke="#777" stroke-width="0.7"/>
<text x="474.9" y="697" font-size="6.3" text-anchor="end" fill="#3a3a3a" textLength="6" lengthAdjust="spacingAndGlyphs">10</text>
<line x1="477.3" y1="677.8" x2="479.3" y2="677.8" stroke="#777" stroke-width="0.7"/>
<text x="474.9" y="680" font-size="6.3" text-anchor="end" fill="#3a3a3a" textLength="6" lengthAdjust="spacingAndGlyphs">20</text>
<line x1="477.3" y1="660.8" x2="479.3" y2="660.8" stroke="#777" stroke-width="0.7"/>
<text x="474.9" y="663" font-size="6.3" text-anchor="end" fill="#3a3a3a" textLength="6" lengthAdjust="spacingAndGlyphs">30</text>
<line x1="477.3" y1="643.8" x2="479.3" y2="643.8" stroke="#777" stroke-width="0.7"/>
<text x="474.9" y="646" font-size="6.3" text-anchor="end" fill="#3a3a3a" textLength="6" lengthAdjust="spacingAndGlyphs">40</text>
<line x1="477.3" y1="626.8" x2="479.3" y2="626.8" stroke="#777" stroke-width="0.7"/>
<text x="474.9" y="629" font-size="6.3" text-anchor="end" fill="#3a3a3a" textLength="6" lengthAdjust="spacingAndGlyphs">50</text>
<line x1="477.3" y1="609.8" x2="479.3" y2="609.8" stroke="#777" stroke-width="0.7"/>
<text x="474.9" y="612" font-size="6.3" text-anchor="end" fill="#3a3a3a" textLength="6" lengthAdjust="spacingAndGlyphs">60</text>
<line x1="477.3" y1="592.8" x2="479.3" y2="592.8" stroke="#777" stroke-width="0.7"/>
<text x="474.9" y="595" font-size="6.3" text-anchor="end" fill="#3a3a3a" textLength="6" lengthAdjust="spacingAndGlyphs">70</text>
<line x1="477.3" y1="575.8" x2="479.3" y2="575.8" stroke="#777" stroke-width="0.7"/>
<text x="474.9" y="578" font-size="6.3" text-anchor="end" fill="#3a3a3a" textLength="6" lengthAdjust="spacingAndGlyphs">80</text>
<text transform="translate(465.1,643.8) rotate(-90)" font-size="6.3" text-anchor="middle" fill="#3a3a3a">mean activity</text>
<text x="524.15" y="720.4" font-size="6.3" text-anchor="middle" fill="#3a3a3a">ZT0</text>
<text x="617.85" y="720.4" font-size="6.3" text-anchor="middle" fill="#3a3a3a">ZT12</text>
</svg></body></html>
